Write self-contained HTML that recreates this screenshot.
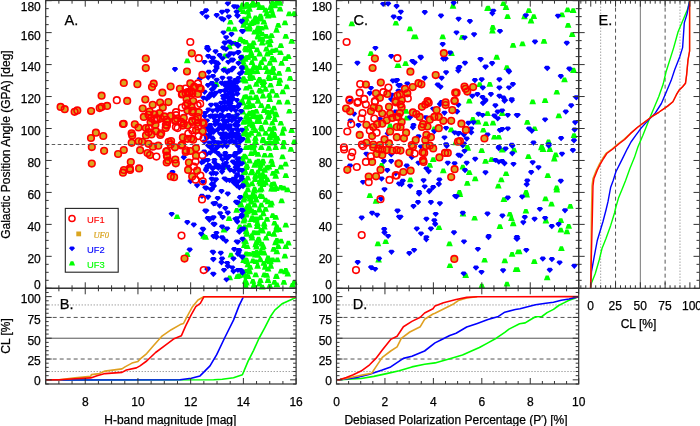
<!DOCTYPE html>
<html><head><meta charset="utf-8"><style>
html,body{margin:0;padding:0;background:#fff;overflow:hidden;}
svg{display:block;will-change:transform;font-family:"Liberation Sans",sans-serif;}
</style></head><body>
<svg width="700" height="426" viewBox="0 0 700 426">
<rect width="700" height="426" fill="#fff"/>
<line x1="45.70" y1="304.94" x2="296.10" y2="304.94" stroke="#777" stroke-width="1.0" stroke-dasharray="1,2"/>
<line x1="45.70" y1="371.52" x2="296.10" y2="371.52" stroke="#777" stroke-width="1.0" stroke-dasharray="1,2"/>
<line x1="45.70" y1="317.43" x2="296.10" y2="317.43" stroke="#555" stroke-width="1.0" stroke-dasharray="4,3"/>
<line x1="45.70" y1="359.03" x2="296.10" y2="359.03" stroke="#555" stroke-width="1.0" stroke-dasharray="4,3"/>
<line x1="45.70" y1="338.23" x2="296.10" y2="338.23" stroke="#555" stroke-width="1.0"/>
<line x1="336.50" y1="304.94" x2="578.70" y2="304.94" stroke="#777" stroke-width="1.0" stroke-dasharray="1,2"/>
<line x1="336.50" y1="371.52" x2="578.70" y2="371.52" stroke="#777" stroke-width="1.0" stroke-dasharray="1,2"/>
<line x1="336.50" y1="317.43" x2="578.70" y2="317.43" stroke="#555" stroke-width="1.0" stroke-dasharray="4,3"/>
<line x1="336.50" y1="359.03" x2="578.70" y2="359.03" stroke="#555" stroke-width="1.0" stroke-dasharray="4,3"/>
<line x1="336.50" y1="338.23" x2="578.70" y2="338.23" stroke="#555" stroke-width="1.0"/>
<line x1="600.66" y1="0.66" x2="600.66" y2="288.30" stroke="#777" stroke-width="1.0" stroke-dasharray="1,2"/>
<line x1="679.99" y1="0.66" x2="679.99" y2="288.30" stroke="#777" stroke-width="1.0" stroke-dasharray="1,2"/>
<line x1="615.54" y1="0.66" x2="615.54" y2="288.30" stroke="#555" stroke-width="1.0" stroke-dasharray="4,3"/>
<line x1="665.11" y1="0.66" x2="665.11" y2="288.30" stroke="#555" stroke-width="1.0" stroke-dasharray="4,3"/>
<line x1="640.33" y1="0.66" x2="640.33" y2="288.30" stroke="#777" stroke-width="1.0"/>
<path fill="#00ff00" d="M185.8 58.6L188.8 58.6L190.6 63.3L184.0 63.3ZM175.6 214.4L178.6 214.4L180.4 219.1L173.8 219.1ZM202.2 234.1L205.2 234.1L207.0 238.8L200.4 238.8ZM185.7 252.2L188.7 252.2L190.5 256.9L183.9 256.9ZM228.9 19.9L231.9 19.9L233.7 24.6L227.1 24.6ZM227.3 26.7L230.3 26.7L232.1 31.4L225.5 31.4ZM233.1 26.7L236.1 26.7L237.9 31.4L231.3 31.4ZM241.0 2.5L244.0 2.5L245.8 7.2L239.2 7.2ZM238.4 7.2L241.4 7.2L243.2 11.9L236.6 11.9ZM242.6 16.7L245.6 16.7L247.4 21.4L240.8 21.4ZM242.1 23.0L245.1 23.0L246.9 27.7L240.3 27.7ZM238.9 36.8L241.9 36.8L243.7 41.5L237.1 41.5ZM242.1 38.9L245.1 38.9L246.9 43.6L240.3 43.6ZM233.1 41.0L236.1 41.0L237.9 45.7L231.3 45.7ZM227.9 44.6L230.9 44.6L232.7 49.3L226.1 49.3ZM223.1 66.7L226.1 66.7L227.9 71.4L221.3 71.4ZM223.6 53.5L226.6 53.5L228.4 58.2L221.8 58.2ZM242.1 63.0L245.1 63.0L246.9 67.7L240.3 67.7ZM214.7 81.5L217.7 81.5L219.5 86.2L212.9 86.2ZM241.0 77.8L244.0 77.8L245.8 82.5L239.2 82.5ZM245.5 1.9L248.5 1.9L250.3 6.6L243.7 6.6ZM251.4 1.1L254.4 1.1L256.2 5.8L249.6 5.8ZM256.5 1.9L259.5 1.9L261.3 6.6L254.7 6.6ZM270.8 1.1L273.8 1.1L275.6 5.8L269.0 5.8ZM275.0 0.2L278.0 0.2L279.8 4.9L273.2 4.9ZM278.5 1.1L281.5 1.1L283.3 5.8L276.7 5.8ZM242.1 4.5L245.1 4.5L246.9 9.2L240.3 9.2ZM248.0 7.0L251.0 7.0L252.8 11.7L246.2 11.7ZM258.1 5.3L261.1 5.3L262.9 10.0L256.3 10.0ZM264.1 7.8L267.1 7.8L268.9 12.5L262.3 12.5ZM269.1 5.3L272.1 5.3L273.9 10.0L267.3 10.0ZM273.4 3.6L276.4 3.6L278.2 8.3L271.6 8.3ZM292.8 11.2L295.8 11.2L297.6 15.9L291.0 15.9ZM247.2 13.7L250.2 13.7L252.0 18.4L245.4 18.4ZM253.9 15.4L256.9 15.4L258.7 20.1L252.1 20.1ZM259.0 13.7L262.0 13.7L263.8 18.4L257.2 18.4ZM266.6 13.7L269.6 13.7L271.4 18.4L264.8 18.4ZM270.8 12.9L273.8 12.9L275.6 17.6L269.0 17.6ZM244.6 20.5L247.6 20.5L249.4 25.2L242.8 25.2ZM249.7 21.3L252.7 21.3L254.5 26.0L247.9 26.0ZM254.8 19.7L257.8 19.7L259.6 24.4L253.0 24.4ZM262.4 19.7L265.4 19.7L267.2 24.4L260.6 24.4ZM283.5 20.5L286.5 20.5L288.3 25.2L281.7 25.2ZM248.0 24.7L251.0 24.7L252.8 29.4L246.2 29.4ZM256.5 25.6L259.5 25.6L261.3 30.3L254.7 30.3ZM264.1 24.7L267.1 24.7L268.9 29.4L262.3 29.4ZM276.7 23.0L279.7 23.0L281.5 27.7L274.9 27.7ZM253.1 29.8L256.1 29.8L257.9 34.5L251.3 34.5ZM258.1 29.0L261.1 29.0L262.9 33.7L256.3 33.7ZM275.0 28.1L278.0 28.1L279.8 32.8L273.2 32.8ZM256.5 34.0L259.5 34.0L261.3 38.7L254.7 38.7ZM264.9 34.0L267.9 34.0L269.7 38.7L263.1 38.7ZM270.0 33.2L273.0 33.2L274.8 37.9L268.2 37.9ZM284.3 34.0L287.3 34.0L289.1 38.7L282.5 38.7ZM239.6 37.4L242.6 37.4L244.4 42.1L237.8 42.1ZM244.6 39.9L247.6 39.9L249.4 44.6L242.8 44.6ZM260.7 40.8L263.7 40.8L265.5 45.5L258.9 45.5ZM266.6 39.9L269.6 39.9L271.4 44.6L264.8 44.6ZM290.2 39.1L293.2 39.1L295.0 43.8L288.4 43.8ZM248.0 43.3L251.0 43.3L252.8 48.0L246.2 48.0ZM268.3 42.5L271.3 42.5L273.1 47.2L266.5 47.2ZM279.3 43.3L282.3 43.3L284.1 48.0L277.5 48.0ZM244.6 47.5L247.6 47.5L249.4 52.2L242.8 52.2ZM255.6 47.5L258.6 47.5L260.4 52.2L253.8 52.2ZM264.9 46.7L267.9 46.7L269.7 51.4L263.1 51.4ZM270.8 48.4L273.8 48.4L275.6 53.1L269.0 53.1ZM249.7 50.9L252.7 50.9L254.5 55.6L247.9 55.6ZM258.1 51.8L261.1 51.8L262.9 56.5L256.3 56.5ZM265.8 51.8L268.8 51.8L270.6 56.5L264.0 56.5ZM286.9 54.3L289.9 54.3L291.7 59.0L285.1 59.0ZM246.3 55.1L249.3 55.1L251.1 59.8L244.5 59.8ZM253.1 56.0L256.1 56.0L257.9 60.7L251.3 60.7ZM262.4 56.8L265.4 56.8L267.2 61.5L260.6 61.5ZM270.8 56.0L273.8 56.0L275.6 60.7L269.0 60.7ZM250.5 60.2L253.5 60.2L255.3 64.9L248.7 64.9ZM259.8 60.2L262.8 60.2L264.6 64.9L258.0 64.9ZM268.3 61.0L271.3 61.0L273.1 65.7L266.5 65.7ZM280.1 61.0L283.1 61.0L284.9 65.7L278.3 65.7ZM244.6 65.3L247.6 65.3L249.4 70.0L242.8 70.0ZM253.9 65.3L256.9 65.3L258.7 70.0L252.1 70.0ZM264.1 65.3L267.1 65.3L268.9 70.0L262.3 70.0ZM271.7 66.1L274.7 66.1L276.5 70.8L269.9 70.8ZM251.4 69.5L254.4 69.5L256.2 74.2L249.6 74.2ZM268.3 69.5L271.3 69.5L273.1 74.2L266.5 74.2ZM246.3 70.2L249.3 70.2L251.1 74.9L244.5 74.9ZM255.6 69.4L258.6 69.4L260.4 74.1L253.8 74.1ZM265.8 69.4L268.8 69.4L270.6 74.1L263.9 74.1ZM271.7 70.2L274.7 70.2L276.5 74.9L269.9 74.9ZM277.6 71.1L280.6 71.1L282.4 75.8L275.8 75.8ZM243.8 78.7L246.8 78.7L248.6 83.4L242.0 83.4ZM251.4 75.3L254.4 75.3L256.2 80.0L249.6 80.0ZM258.1 77.0L261.1 77.0L262.9 81.7L256.3 81.7ZM267.4 74.5L270.4 74.5L272.2 79.2L265.6 79.2ZM273.4 75.3L276.4 75.3L278.2 80.0L271.6 80.0ZM288.6 76.1L291.6 76.1L293.4 80.8L286.8 80.8ZM248.0 84.6L251.0 84.6L252.8 89.3L246.2 89.3ZM254.8 82.1L257.8 82.1L259.6 86.8L253.0 86.8ZM261.5 80.4L264.5 80.4L266.3 85.1L259.7 85.1ZM269.1 82.9L272.1 82.9L273.9 87.6L267.3 87.6ZM277.6 81.2L280.6 81.2L282.4 85.9L275.8 85.9ZM285.2 84.6L288.2 84.6L290.0 89.3L283.4 89.3ZM250.5 89.7L253.5 89.7L255.3 94.4L248.7 94.4ZM258.1 88.0L261.1 88.0L262.9 92.7L256.3 92.7ZM264.1 87.1L267.1 87.1L268.9 91.8L262.3 91.8ZM270.8 88.8L273.8 88.8L275.6 93.5L269.0 93.5ZM242.9 94.7L245.9 94.7L247.7 99.4L241.1 99.4ZM248.9 95.6L251.9 95.6L253.7 100.3L247.1 100.3ZM254.8 94.7L257.8 94.7L259.6 99.4L253.0 99.4ZM261.5 93.9L264.5 93.9L266.3 98.6L259.7 98.6ZM275.0 93.0L278.0 93.0L279.8 97.7L273.2 97.7ZM241.3 100.6L244.3 100.6L246.1 105.3L239.5 105.3ZM247.2 99.8L250.2 99.8L252.0 104.5L245.4 104.5ZM256.5 99.0L259.5 99.0L261.3 103.7L254.7 103.7ZM268.3 97.3L271.3 97.3L273.1 102.0L266.5 102.0ZM277.6 99.8L280.6 99.8L282.4 104.5L275.8 104.5ZM286.0 99.8L289.0 99.8L290.8 104.5L284.2 104.5ZM244.6 104.9L247.6 104.9L249.4 109.6L242.8 109.6ZM251.4 103.2L254.4 103.2L256.2 107.9L249.6 107.9ZM259.8 103.2L262.8 103.2L264.6 107.9L258.0 107.9ZM266.6 104.0L269.6 104.0L271.4 108.7L264.8 108.7ZM272.5 105.7L275.5 105.7L277.3 110.4L270.7 110.4ZM241.3 109.9L244.3 109.9L246.1 114.6L239.5 114.6ZM248.0 110.8L251.0 110.8L252.8 115.5L246.2 115.5ZM254.8 109.1L257.8 109.1L259.6 113.8L253.0 113.8ZM263.2 108.2L266.2 108.2L268.0 112.9L261.4 112.9ZM270.0 109.9L273.0 109.9L274.8 114.6L268.2 114.6ZM274.2 111.6L277.2 111.6L279.0 116.3L272.4 116.3ZM244.6 115.0L247.6 115.0L249.4 119.7L242.8 119.7ZM251.4 114.2L254.4 114.2L256.2 118.9L249.6 118.9ZM259.0 114.2L262.0 114.2L263.8 118.9L257.2 118.9ZM266.6 115.0L269.6 115.0L271.4 119.7L264.8 119.7ZM242.1 120.1L245.1 120.1L246.9 124.8L240.3 124.8ZM248.9 120.1L251.9 120.1L253.7 124.8L247.1 124.8ZM255.6 119.2L258.6 119.2L260.4 123.9L253.8 123.9ZM264.1 120.1L267.1 120.1L268.9 124.8L262.3 124.8ZM270.8 120.9L273.8 120.9L275.6 125.6L269.0 125.6ZM279.3 120.9L282.3 120.9L284.1 125.6L277.5 125.6ZM244.6 126.0L247.6 126.0L249.4 130.7L242.8 130.7ZM252.2 126.0L255.2 126.0L257.0 130.7L250.4 130.7ZM259.8 125.1L262.8 125.1L264.6 129.8L258.0 129.8ZM268.3 126.8L271.3 126.8L273.1 131.5L266.5 131.5ZM272.5 126.0L275.5 126.0L277.3 130.7L270.7 130.7ZM242.1 131.9L245.1 131.9L246.9 136.6L240.3 136.6ZM249.7 131.0L252.7 131.0L254.5 135.7L247.9 135.7ZM257.3 131.9L260.3 131.9L262.1 136.6L255.5 136.6ZM264.1 131.0L267.1 131.0L268.9 135.7L262.3 135.7ZM270.8 130.2L273.8 130.2L275.6 134.9L269.0 134.9ZM281.0 131.0L284.0 131.0L285.8 135.7L279.2 135.7ZM246.3 137.0L249.3 137.0L251.1 141.7L244.5 141.7ZM253.9 136.1L256.9 136.1L258.7 140.8L252.1 140.8ZM261.5 137.0L264.5 137.0L266.3 141.7L259.7 141.7ZM268.3 135.3L271.3 135.3L273.1 140.0L266.5 140.0ZM275.9 136.1L278.9 136.1L280.7 140.8L274.1 140.8ZM246.3 138.5L249.3 138.5L251.1 143.2L244.5 143.2ZM253.9 139.4L256.9 139.4L258.7 144.1L252.1 144.1ZM261.5 138.5L264.5 138.5L266.3 143.2L259.7 143.2ZM268.3 140.2L271.3 140.2L273.1 144.9L266.5 144.9ZM275.0 139.4L278.0 139.4L279.8 144.1L273.2 144.1ZM292.8 139.4L295.8 139.4L297.6 144.1L291.0 144.1ZM244.6 145.3L247.6 145.3L249.4 150.0L242.8 150.0ZM251.4 144.5L254.4 144.5L256.2 149.2L249.6 149.2ZM259.8 145.3L262.8 145.3L264.6 150.0L258.0 150.0ZM267.4 146.1L270.4 146.1L272.2 150.8L265.6 150.8ZM274.2 145.3L277.2 145.3L279.0 150.0L272.4 150.0ZM281.8 144.5L284.8 144.5L286.6 149.2L280.0 149.2ZM289.4 147.0L292.4 147.0L294.2 151.7L287.6 151.7ZM242.9 153.7L245.9 153.7L247.7 158.4L241.1 158.4ZM249.7 151.2L252.7 151.2L254.5 155.9L247.9 155.9ZM256.5 152.1L259.5 152.1L261.3 156.8L254.7 156.8ZM263.2 152.9L266.2 152.9L268.0 157.6L261.4 157.6ZM269.1 152.9L272.1 152.9L273.9 157.6L267.3 157.6ZM281.0 154.6L284.0 154.6L285.8 159.3L279.2 159.3ZM242.1 159.7L245.1 159.7L246.9 164.4L240.3 164.4ZM248.0 158.8L251.0 158.8L252.8 163.5L246.2 163.5ZM254.8 159.7L257.8 159.7L259.6 164.4L253.0 164.4ZM261.5 158.8L264.5 158.8L266.3 163.5L259.7 163.5ZM270.0 158.8L273.0 158.8L274.8 163.5L268.2 163.5ZM245.5 163.9L248.5 163.9L250.3 168.6L243.7 168.6ZM253.1 163.0L256.1 163.0L257.9 167.7L251.3 167.7ZM259.0 163.0L262.0 163.0L263.8 167.7L257.2 167.7ZM267.4 164.7L270.4 164.7L272.2 169.4L265.6 169.4ZM279.3 164.7L282.3 164.7L284.1 169.4L277.5 169.4ZM243.8 169.8L246.8 169.8L248.6 174.5L242.0 174.5ZM250.5 168.9L253.5 168.9L255.3 173.7L248.7 173.7ZM256.5 169.8L259.5 169.8L261.3 174.5L254.7 174.5ZM263.2 168.1L266.2 168.1L268.0 172.8L261.4 172.8ZM275.0 168.9L278.0 168.9L279.8 173.7L273.2 173.7ZM284.3 173.2L287.3 173.2L289.1 177.9L282.5 177.9ZM246.3 175.7L249.3 175.7L251.1 180.4L244.5 180.4ZM253.9 174.0L256.9 174.0L258.7 178.7L252.1 178.7ZM259.8 176.6L262.8 176.6L264.6 181.3L258.0 181.3ZM265.8 177.4L268.8 177.4L270.6 182.1L263.9 182.1ZM274.2 174.0L277.2 174.0L279.0 178.7L272.4 178.7ZM243.8 180.8L246.8 180.8L248.6 185.5L242.0 185.5ZM250.5 181.6L253.5 181.6L255.3 186.3L248.7 186.3ZM258.1 179.9L261.1 179.9L262.9 184.6L256.3 184.6ZM264.1 180.8L267.1 180.8L268.9 185.5L262.3 185.5ZM272.5 181.6L275.5 181.6L277.3 186.3L270.7 186.3ZM279.3 185.0L282.3 185.0L284.1 189.7L277.5 189.7ZM246.3 187.5L249.3 187.5L251.1 192.2L244.5 192.2ZM253.1 186.7L256.1 186.7L257.9 191.4L251.3 191.4ZM259.8 186.7L262.8 186.7L264.6 191.4L258.0 191.4ZM270.0 186.7L273.0 186.7L274.8 191.4L268.2 191.4ZM286.0 187.5L289.0 187.5L290.8 192.2L284.2 192.2ZM244.6 193.4L247.6 193.4L249.4 198.1L242.8 198.1ZM251.4 192.6L254.4 192.6L256.2 197.3L249.6 197.3ZM259.0 193.4L262.0 193.4L263.8 198.1L257.2 198.1ZM260.7 194.3L263.7 194.3L265.5 199.0L258.9 199.0ZM242.1 197.7L245.1 197.7L246.9 202.4L240.3 202.4ZM248.9 196.8L251.9 196.8L253.7 201.5L247.1 201.5ZM254.8 197.7L257.8 197.7L259.6 202.4L253.0 202.4ZM264.1 197.7L267.1 197.7L268.9 202.4L262.3 202.4ZM280.1 198.5L283.1 198.5L284.9 203.2L278.3 203.2ZM239.6 202.7L242.6 202.7L244.4 207.4L237.8 207.4ZM246.3 203.6L249.3 203.6L251.1 208.3L244.5 208.3ZM253.1 202.7L256.1 202.7L257.9 207.4L251.3 207.4ZM259.8 202.7L262.8 202.7L264.6 207.4L258.0 207.4ZM269.1 202.7L272.1 202.7L273.9 207.4L267.3 207.4ZM243.8 207.8L246.8 207.8L248.6 212.5L242.0 212.5ZM250.5 208.6L253.5 208.6L255.3 213.3L248.7 213.3ZM258.1 207.8L261.1 207.8L262.9 212.5L256.3 212.5ZM264.1 207.0L267.1 207.0L268.9 211.7L262.3 211.7ZM245.8 209.6L248.8 209.6L250.6 214.3L244.0 214.3ZM253.3 210.5L256.3 210.5L258.1 215.2L251.5 215.2ZM261.8 211.5L264.8 211.5L266.6 216.2L260.0 216.2ZM271.2 213.3L274.2 213.3L276.0 218.0L269.4 218.0ZM243.0 217.1L246.0 217.1L247.8 221.8L241.2 221.8ZM251.4 216.2L254.4 216.2L256.2 220.9L249.6 220.9ZM258.9 215.2L261.9 215.2L263.7 219.9L257.1 219.9ZM265.5 217.1L268.5 217.1L270.3 221.8L263.7 221.8ZM247.7 222.7L250.7 222.7L252.5 227.4L245.9 227.4ZM256.1 223.7L259.1 223.7L260.9 228.4L254.3 228.4ZM262.7 221.8L265.7 221.8L267.5 226.5L260.9 226.5ZM273.0 220.9L276.0 220.9L277.8 225.6L271.2 225.6ZM284.3 222.7L287.3 222.7L289.1 227.4L282.5 227.4ZM244.8 229.3L247.8 229.3L249.6 234.0L243.0 234.0ZM252.4 230.3L255.4 230.3L257.2 235.0L250.6 235.0ZM259.9 228.4L262.9 228.4L264.7 233.1L258.1 233.1ZM267.4 231.2L270.4 231.2L272.2 235.9L265.6 235.9ZM277.7 227.4L280.7 227.4L282.5 232.1L275.9 232.1ZM243.0 238.7L246.0 238.7L247.8 243.4L241.2 243.4ZM250.5 235.9L253.5 235.9L255.3 240.6L248.7 240.6ZM257.1 236.8L260.1 236.8L261.9 241.5L255.3 241.5ZM264.6 235.9L267.6 235.9L269.4 240.6L262.8 240.6ZM274.0 240.6L277.0 240.6L278.8 245.3L272.2 245.3ZM279.6 238.7L282.6 238.7L284.4 243.4L277.8 243.4ZM245.8 244.4L248.8 244.4L250.6 249.1L244.0 249.1ZM254.2 242.5L257.2 242.5L259.0 247.2L252.4 247.2ZM261.8 244.4L264.8 244.4L266.6 249.1L260.0 249.1ZM276.8 244.4L279.8 244.4L281.6 249.1L275.0 249.1ZM284.3 244.4L287.3 244.4L289.1 249.1L282.5 249.1ZM247.7 251.9L250.7 251.9L252.5 256.6L245.9 256.6ZM255.2 250.0L258.2 250.0L260.0 254.7L253.4 254.7ZM262.7 250.9L265.7 250.9L267.5 255.6L260.9 255.6ZM271.2 257.5L274.2 257.5L276.0 262.2L269.4 262.2ZM283.4 253.8L286.4 253.8L288.2 258.5L281.6 258.5ZM243.9 257.5L246.9 257.5L248.7 262.2L242.1 262.2ZM251.4 258.5L254.4 258.5L256.2 263.2L249.6 263.2ZM258.9 257.5L261.9 257.5L263.7 262.2L257.1 262.2ZM265.5 258.5L268.5 258.5L270.3 263.2L263.7 263.2ZM275.9 257.5L278.9 257.5L280.7 262.2L274.1 262.2ZM248.6 265.0L251.6 265.0L253.4 269.7L246.8 269.7ZM256.1 264.1L259.1 264.1L260.9 268.8L254.3 268.8ZM263.6 265.0L266.6 265.0L268.4 269.7L261.8 269.7ZM269.3 264.1L272.3 264.1L274.1 268.8L267.5 268.8ZM279.6 268.8L282.6 268.8L284.4 273.5L277.8 273.5ZM284.3 267.9L287.3 267.9L289.1 272.6L282.5 272.6ZM237.3 273.5L240.3 273.5L242.1 278.2L235.5 278.2ZM246.7 274.4L249.7 274.4L251.5 279.1L244.9 279.1ZM254.2 272.5L257.2 272.5L259.0 277.2L252.4 277.2ZM262.7 272.5L265.7 272.5L267.5 277.2L260.9 277.2ZM274.9 274.4L277.9 274.4L279.7 279.1L273.1 279.1ZM243.9 279.1L246.9 279.1L248.7 283.8L242.1 283.8ZM251.4 279.1L254.4 279.1L256.2 283.8L249.6 283.8ZM258.9 278.2L261.9 278.2L263.7 282.9L257.1 282.9ZM266.5 278.2L269.5 278.2L271.3 282.9L264.7 282.9ZM273.0 280.1L276.0 280.1L277.8 284.8L271.2 284.8ZM282.4 280.1L285.4 280.1L287.2 284.8L280.6 284.8ZM292.8 280.1L295.8 280.1L297.6 284.8L291.0 284.8ZM252.4 283.8L255.4 283.8L257.2 288.5L250.6 288.5ZM260.8 284.8L263.8 284.8L265.6 289.5L259.0 289.5ZM268.3 283.8L271.3 283.8L273.1 288.5L266.5 288.5ZM290.9 282.9L293.9 282.9L295.7 287.6L289.1 287.6ZM214.5 82.2L217.5 82.2L219.3 86.9L212.7 86.9ZM239.0 100.8L242.0 100.8L243.8 105.5L237.2 105.5ZM240.7 99.1L243.7 99.1L245.5 103.8L238.9 103.8ZM234.8 113.5L237.8 113.5L239.6 118.2L233.0 118.2ZM222.6 164.6L225.6 164.6L227.4 169.3L220.8 169.3ZM240.7 156.1L243.7 156.1L245.5 160.8L238.9 160.8ZM227.6 216.3L230.6 216.3L232.4 221.0L225.8 221.0ZM235.2 208.0L238.2 208.0L240.0 212.7L233.4 212.7ZM239.0 201.7L242.0 201.7L243.8 206.4L237.2 206.4ZM242.8 196.0L245.8 196.0L247.6 200.7L241.0 200.7ZM244.1 191.6L247.1 191.6L248.9 196.3L242.3 196.3ZM245.3 205.5L248.3 205.5L250.1 210.2L243.5 210.2ZM244.7 211.9L247.7 211.9L249.5 216.6L242.9 216.6ZM242.2 218.8L245.2 218.8L247.0 223.5L240.4 223.5ZM238.4 224.5L241.4 224.5L243.2 229.2L236.6 229.2ZM243.4 224.5L246.4 224.5L248.2 229.2L241.6 229.2ZM222.5 227.7L225.5 227.7L227.3 232.4L220.7 232.4ZM245.3 232.1L248.3 232.1L250.1 236.8L243.5 236.8ZM204.1 235.0L207.1 235.0L208.9 239.7L202.3 239.7ZM244.1 239.4L247.1 239.4L248.9 244.1L242.3 244.1ZM229.5 252.7L232.5 252.7L234.3 257.4L227.7 257.4ZM244.7 251.4L247.7 251.4L249.5 256.1L242.9 256.1ZM245.3 259.0L248.3 259.0L250.1 263.7L243.5 263.7ZM235.8 274.3L238.8 274.3L240.6 279.0L234.0 279.0ZM228.2 275.5L231.2 275.5L233.0 280.2L226.4 280.2ZM245.3 274.3L248.3 274.3L250.1 279.0L243.5 279.0ZM242.8 243.2L245.8 243.2L247.6 247.9L241.0 247.9ZM256.9 158.7L259.9 158.7L261.7 163.4L255.1 163.4ZM272.9 131.9L275.9 131.9L277.7 136.6L271.1 136.6ZM258.8 166.5L261.8 166.5L263.6 171.2L257.0 171.2ZM247.8 145.1L250.8 145.1L252.6 149.8L246.0 149.8ZM262.9 224.9L265.9 224.9L267.7 229.6L261.1 229.6ZM244.7 85.9L247.7 85.9L249.5 90.6L242.9 90.6ZM244.6 229.6L247.6 229.6L249.4 234.3L242.8 234.3ZM265.1 11.6L268.1 11.6L269.9 16.3L263.3 16.3ZM274.9 273.7L277.9 273.7L279.7 278.4L273.1 278.4ZM263.7 174.5L266.7 174.5L268.5 179.2L261.9 179.2ZM246.9 4.0L249.9 4.0L251.7 8.7L245.1 8.7ZM259.5 16.6L262.5 16.6L264.3 21.3L257.7 21.3ZM248.0 68.4L251.0 68.4L252.8 73.1L246.2 73.1ZM242.5 131.5L245.5 131.5L247.3 136.2L240.7 136.2ZM256.5 238.9L259.5 238.9L261.3 243.6L254.7 243.6ZM259.2 181.5L262.2 181.5L264.0 186.2L257.4 186.2ZM258.5 187.8L261.5 187.8L263.3 192.5L256.7 192.5ZM257.0 78.7L260.0 78.7L261.8 83.4L255.2 83.4ZM275.4 282.5L278.4 282.5L280.2 287.2L273.6 287.2ZM270.1 200.7L273.1 200.7L274.9 205.4L268.3 205.4ZM252.2 64.9L255.2 64.9L257.0 69.6L250.4 69.6ZM251.3 19.6L254.3 19.6L256.1 24.3L249.5 24.3ZM267.6 113.4L270.6 113.4L272.4 118.1L265.8 118.1ZM270.3 109.5L273.3 109.5L275.1 114.2L268.5 114.2ZM274.1 240.3L277.1 240.3L278.9 245.0L272.3 245.0ZM241.5 59.3L244.5 59.3L246.3 64.0L239.7 64.0ZM272.4 133.2L275.4 133.2L277.2 137.9L270.6 137.9ZM274.8 112.6L277.8 112.6L279.6 117.3L273.0 117.3ZM244.0 178.5L247.0 178.5L248.8 183.2L242.2 183.2ZM268.0 76.3L271.0 76.3L272.8 81.0L266.2 81.0ZM244.5 94.2L247.5 94.2L249.3 98.9L242.7 98.9ZM274.3 215.0L277.3 215.0L279.1 219.7L272.5 219.7ZM245.5 69.7L248.5 69.7L250.3 74.4L243.7 74.4ZM244.9 16.7L247.9 16.7L249.7 21.4L243.1 21.4ZM268.6 50.2L271.6 50.2L273.4 54.9L266.8 54.9ZM260.5 126.8L263.5 126.8L265.3 131.5L258.7 131.5ZM248.0 207.6L251.0 207.6L252.8 212.3L246.2 212.3ZM246.0 182.5L249.0 182.5L250.8 187.2L244.2 187.2ZM245.5 119.2L248.5 119.2L250.3 123.9L243.7 123.9ZM248.7 76.3L251.7 76.3L253.5 81.0L246.9 81.0ZM274.5 227.9L277.5 227.9L279.3 232.6L272.7 232.6ZM251.8 251.0L254.8 251.0L256.6 255.7L250.0 255.7ZM248.7 111.7L251.7 111.7L253.5 116.4L246.9 116.4ZM270.5 182.0L273.5 182.0L275.3 186.7L268.7 186.7ZM244.9 280.7L247.9 280.7L249.7 285.4L243.1 285.4ZM248.8 73.1L251.8 73.1L253.6 77.8L247.0 77.8ZM267.8 93.1L270.8 93.1L272.6 97.8L266.0 97.8ZM251.6 20.5L254.6 20.5L256.4 25.2L249.8 25.2ZM244.6 165.2L247.6 165.2L249.4 169.9L242.8 169.9ZM249.8 170.5L252.8 170.5L254.6 175.2L248.0 175.2ZM254.1 128.4L257.1 128.4L258.9 133.1L252.3 133.1ZM274.1 137.1L277.1 137.1L278.9 141.8L272.3 141.8ZM261.0 245.8L264.0 245.8L265.8 250.5L259.2 250.5ZM247.7 43.5L250.7 43.5L252.5 48.2L245.9 48.2ZM272.4 232.0L275.4 232.0L277.2 236.7L270.6 236.7ZM250.0 53.6L253.0 53.6L254.8 58.3L248.2 58.3ZM266.6 266.8L269.6 266.8L271.4 271.5L264.8 271.5ZM248.2 269.5L251.2 269.5L253.0 274.2L246.4 274.2ZM271.5 171.1L274.5 171.1L276.3 175.8L269.7 175.8ZM255.8 29.2L258.8 29.2L260.6 33.9L254.0 33.9ZM242.8 273.1L245.8 273.1L247.6 277.8L241.0 277.8ZM249.6 199.8L252.6 199.8L254.4 204.5L247.8 204.5ZM250.2 233.6L253.2 233.6L255.0 238.3L248.4 238.3ZM261.8 83.0L264.8 83.0L266.6 87.7L260.0 87.7ZM247.5 204.3L250.5 204.3L252.3 209.0L245.7 209.0ZM243.8 64.6L246.8 64.6L248.6 69.3L242.0 69.3ZM260.5 241.8L263.5 241.8L265.3 246.5L258.7 246.5ZM262.4 79.3L265.4 79.3L267.2 84.0L260.6 84.0ZM272.7 57.6L275.7 57.6L277.5 62.3L270.9 62.3ZM242.1 76.2L245.1 76.2L246.9 80.9L240.3 80.9ZM256.7 16.9L259.7 16.9L261.5 21.6L254.9 21.6ZM247.5 104.4L250.5 104.4L252.3 109.1L245.7 109.1ZM261.0 37.1L264.0 37.1L265.8 41.8L259.2 41.8ZM253.8 252.7L256.8 252.7L258.6 257.4L252.0 257.4ZM274.8 186.3L277.8 186.3L279.6 191.0L273.0 191.0ZM265.0 165.7L268.0 165.7L269.8 170.4L263.2 170.4ZM246.3 9.7L249.3 9.7L251.1 14.4L244.5 14.4ZM242.1 258.2L245.1 258.2L246.9 262.9L240.3 262.9ZM265.3 273.1L268.3 273.1L270.1 277.8L263.5 277.8ZM242.2 180.4L245.2 180.4L247.0 185.1L240.4 185.1ZM257.9 207.2L260.9 207.2L262.7 211.9L256.1 211.9ZM252.3 283.5L255.3 283.5L257.1 288.2L250.5 288.2ZM244.1 154.8L247.1 154.8L248.9 159.5L242.3 159.5ZM266.6 255.4L269.6 255.4L271.4 260.1L264.8 260.1ZM266.6 199.5L269.6 199.5L271.4 204.2L264.8 204.2ZM268.5 259.6L271.5 259.6L273.3 264.3L266.7 264.3ZM253.5 194.3L256.5 194.3L258.3 199.0L251.7 199.0ZM272.1 247.1L275.1 247.1L276.9 251.8L270.3 251.8ZM255.7 224.2L258.7 224.2L260.5 228.9L253.9 228.9ZM270.9 162.4L273.9 162.4L275.7 167.1L269.1 167.1ZM262.7 108.3L265.7 108.3L267.5 113.0L260.9 113.0ZM261.3 172.6L264.3 172.6L266.1 177.3L259.5 177.3ZM244.2 181.3L247.2 181.3L249.0 186.0L242.4 186.0ZM275.3 249.6L278.3 249.6L280.1 254.3L273.5 254.3ZM266.3 110.0L269.3 110.0L271.1 114.7L264.5 114.7ZM266.5 164.7L269.5 164.7L271.3 169.4L264.7 169.4ZM256.5 237.8L259.5 237.8L261.3 242.5L254.7 242.5ZM244.3 212.8L247.3 212.8L249.1 217.5L242.5 217.5ZM242.5 170.5L245.5 170.5L247.3 175.2L240.7 175.2ZM257.9 65.1L260.9 65.1L262.7 69.8L256.1 69.8ZM265.2 140.9L268.2 140.9L270.0 145.6L263.4 145.6ZM262.4 261.1L265.4 261.1L267.2 265.8L260.6 265.8ZM250.2 2.9L253.2 2.9L255.0 7.6L248.4 7.6ZM251.7 192.3L254.7 192.3L256.5 197.0L249.9 197.0ZM248.4 47.9L251.4 47.9L253.2 52.6L246.6 52.6ZM272.3 187.1L275.3 187.1L277.1 191.8L270.5 191.8ZM256.5 253.0L259.5 253.0L261.3 257.7L254.7 257.7ZM252.6 188.8L255.6 188.8L257.4 193.5L250.8 193.5ZM248.2 122.1L251.2 122.1L253.0 126.8L246.4 126.8ZM268.9 259.3L271.9 259.3L273.7 264.0L267.1 264.0ZM287.9 108.9L290.9 108.9L292.7 113.6L286.1 113.6ZM281.3 89.6L284.3 89.6L286.1 94.3L279.5 94.3ZM271.5 140.7L274.5 140.7L276.3 145.4L269.7 145.4ZM286.9 240.7L289.9 240.7L291.7 245.4L285.1 245.4ZM284.1 269.5L287.1 269.5L288.9 274.2L282.3 274.2ZM274.6 47.7L277.6 47.7L279.4 52.4L272.8 52.4ZM278.4 77.8L281.4 77.8L283.2 82.5L276.6 82.5ZM273.2 117.3L276.2 117.3L278.0 122.0L271.4 122.0ZM282.3 140.0L285.3 140.0L287.1 144.7L280.5 144.7ZM275.4 238.0L278.4 238.0L280.2 242.7L273.6 242.7ZM290.1 128.2L293.1 128.2L294.9 132.9L288.3 132.9ZM270.1 8.6L273.1 8.6L274.9 13.3L268.3 13.3ZM287.7 11.5L290.7 11.5L292.5 16.2L285.9 16.2ZM284.1 161.7L287.1 161.7L288.9 166.4L282.3 166.4ZM275.3 224.5L278.3 224.5L280.1 229.2L273.5 229.2ZM268.9 38.3L271.9 38.3L273.7 43.0L267.1 43.0ZM278.5 6.7L281.5 6.7L283.3 11.4L276.7 11.4ZM286.8 67.1L289.8 67.1L291.6 71.8L285.0 71.8ZM271.6 13.0L274.6 13.0L276.4 17.7L269.8 17.7ZM282.3 126.5L285.3 126.5L287.1 131.2L280.5 131.2ZM282.4 185.7L285.4 185.7L287.2 190.4L280.6 190.4ZM286.3 271.9L289.3 271.9L291.1 276.6L284.5 276.6ZM283.6 56.3L286.6 56.3L288.4 61.0L281.8 61.0ZM279.0 50.4L282.0 50.4L283.8 55.1L277.2 55.1ZM268.7 133.8L271.7 133.8L273.5 138.5L266.9 138.5ZM245.0 55.3L248.0 55.3L249.8 60.0L243.2 60.0ZM251.2 123.6L254.2 123.6L256.0 128.3L249.4 128.3ZM247.8 116.9L250.8 116.9L252.6 121.6L246.0 121.6ZM251.1 44.4L254.1 44.4L255.9 49.1L249.3 49.1ZM244.0 179.3L247.0 179.3L248.8 184.0L242.2 184.0ZM253.5 150.2L256.5 150.2L258.3 154.9L251.7 154.9ZM258.2 173.6L261.2 173.6L263.0 178.3L256.4 178.3ZM258.3 65.2L261.3 65.2L263.1 69.9L256.5 69.9ZM255.8 230.5L258.8 230.5L260.6 235.2L254.0 235.2ZM259.4 89.0L262.4 89.0L264.2 93.7L257.6 93.7ZM246.4 262.6L249.4 262.6L251.2 267.3L244.6 267.3ZM244.3 284.2L247.3 284.2L249.1 288.9L242.5 288.9ZM259.0 37.0L262.0 37.0L263.8 41.7L257.2 41.7ZM244.8 206.5L247.8 206.5L249.6 211.2L243.0 211.2ZM245.2 26.4L248.2 26.4L250.0 31.1L243.4 31.1ZM257.8 119.3L260.8 119.3L262.6 124.0L256.0 124.0ZM256.9 34.7L259.9 34.7L261.7 39.4L255.1 39.4ZM248.4 194.7L251.4 194.7L253.2 199.4L246.6 199.4ZM239.9 56.2L242.9 56.2L244.7 60.9L238.1 60.9ZM254.5 259.4L257.5 259.4L259.3 264.1L252.7 264.1ZM260.8 31.7L263.8 31.7L265.6 36.4L259.0 36.4ZM250.6 215.5L253.6 215.5L255.4 220.2L248.8 220.2ZM250.6 194.8L253.6 194.8L255.4 199.5L248.8 199.5ZM243.7 18.9L246.7 18.9L248.5 23.6L241.9 23.6ZM241.8 9.4L244.8 9.4L246.6 14.1L240.0 14.1ZM251.6 145.9L254.6 145.9L256.4 150.6L249.8 150.6ZM252.0 40.6L255.0 40.6L256.8 45.3L250.2 45.3ZM243.6 57.0L246.6 57.0L248.4 61.7L241.8 61.7ZM258.0 281.9L261.0 281.9L262.8 286.6L256.2 286.6ZM259.9 25.9L262.9 25.9L264.7 30.6L258.1 30.6ZM240.9 270.8L243.9 270.8L245.7 275.5L239.1 275.5ZM249.7 217.4L252.7 217.4L254.5 222.1L247.9 222.1ZM246.7 132.3L249.7 132.3L251.5 137.0L244.9 137.0ZM250.8 121.7L253.8 121.7L255.6 126.4L249.0 126.4ZM252.7 2.5L255.7 2.5L257.5 7.2L250.9 7.2ZM254.9 240.2L257.9 240.2L259.7 244.9L253.1 244.9ZM243.5 128.5L246.5 128.5L248.3 133.2L241.7 133.2ZM255.8 114.6L258.8 114.6L260.6 119.3L254.0 119.3ZM243.8 45.9L246.8 45.9L248.6 50.6L242.0 50.6ZM250.8 3.1L253.8 3.1L255.6 7.8L249.0 7.8ZM259.2 228.0L262.2 228.0L264.0 232.7L257.4 232.7ZM255.0 244.9L258.0 244.9L259.8 249.6L253.2 249.6ZM253.3 114.4L256.3 114.4L258.1 119.1L251.5 119.1ZM252.7 142.9L255.7 142.9L257.5 147.6L250.9 147.6ZM261.1 228.9L264.1 228.9L265.9 233.6L259.3 233.6ZM245.2 259.3L248.2 259.3L250.0 264.0L243.4 264.0ZM255.9 221.2L258.9 221.2L260.7 225.9L254.1 225.9ZM257.4 114.7L260.4 114.7L262.2 119.4L255.6 119.4ZM259.2 250.3L262.2 250.3L264.0 255.0L257.4 255.0ZM254.8 218.1L257.8 218.1L259.6 222.8L253.0 222.8ZM256.3 114.7L259.3 114.7L261.1 119.4L254.5 119.4ZM255.4 18.9L258.4 18.9L260.2 23.6L253.6 23.6ZM247.0 132.8L250.0 132.8L251.8 137.5L245.2 137.5ZM239.7 100.4L242.7 100.4L244.5 105.1L237.9 105.1ZM253.6 177.2L256.6 177.2L258.4 181.9L251.8 181.9ZM244.6 268.9L247.6 268.9L249.4 273.6L242.8 273.6ZM254.2 95.3L257.2 95.3L259.0 100.0L252.4 100.0ZM254.0 161.6L257.0 161.6L258.8 166.3L252.2 166.3ZM251.2 110.1L254.2 110.1L256.0 114.8L249.4 114.8ZM261.5 182.4L264.5 182.4L266.3 187.1L259.7 187.1ZM254.9 216.6L257.9 216.6L259.7 221.3L253.1 221.3ZM261.1 5.2L264.1 5.2L265.9 9.9L259.3 9.9ZM253.0 210.0L256.0 210.0L257.8 214.7L251.2 214.7ZM245.1 113.5L248.1 113.5L249.9 118.2L243.3 118.2ZM240.6 54.6L243.6 54.6L245.4 59.3L238.8 59.3ZM247.8 26.9L250.8 26.9L252.6 31.6L246.0 31.6ZM245.0 257.7L248.0 257.7L249.8 262.4L243.2 262.4ZM251.6 143.9L254.6 143.9L256.4 148.6L249.8 148.6ZM260.8 161.1L263.8 161.1L265.6 165.8L259.0 165.8ZM261.4 181.2L264.4 181.2L266.2 185.9L259.6 185.9Z"/>
<path fill="#0000ff" d="M173.4 67.1L176.6 67.1L178.2 69.0L175.0 72.3L171.8 69.0ZM185.0 110.0L188.2 110.0L189.8 111.9L186.6 115.2L183.4 111.9ZM182.2 155.3L185.4 155.3L187.0 157.2L183.8 160.5L180.6 157.2ZM170.9 170.0L174.1 170.0L175.7 171.9L172.5 175.2L169.3 171.9ZM202.1 159.3L205.3 159.3L206.9 161.2L203.7 164.5L200.5 161.2ZM204.5 168.4L207.7 168.4L209.3 170.3L206.1 173.6L202.9 170.3ZM211.1 166.7L214.3 166.7L215.9 168.6L212.7 171.9L209.5 168.6ZM188.9 179.0L192.1 179.0L193.7 180.9L190.5 184.2L187.3 180.9ZM195.5 183.2L198.7 183.2L200.3 185.1L197.1 188.4L193.9 185.1ZM203.7 185.6L206.9 185.6L208.5 187.5L205.3 190.8L202.1 187.5ZM210.3 182.3L213.5 182.3L215.1 184.2L211.9 187.5L208.7 184.2ZM209.4 187.3L212.6 187.3L214.2 189.2L211.0 192.5L207.8 189.2ZM200.4 193.8L203.6 193.8L205.2 195.7L202.0 199.0L198.8 195.7ZM206.2 194.7L209.4 194.7L211.0 196.6L207.8 199.9L204.6 196.6ZM211.9 201.2L215.1 201.2L216.7 203.1L213.5 206.4L210.3 203.1ZM203.7 208.6L206.9 208.6L208.5 210.5L205.3 213.8L202.1 210.5ZM206.2 216.0L209.4 216.0L211.0 217.9L207.8 221.2L204.6 217.9ZM211.9 215.2L215.1 215.2L216.7 217.1L213.5 220.4L210.3 217.1ZM170.1 211.9L173.3 211.9L174.9 213.8L171.7 217.1L168.5 213.8ZM185.7 220.1L188.9 220.1L190.5 222.0L187.3 225.3L184.1 222.0ZM192.2 222.6L195.4 222.6L197.0 224.5L193.8 227.8L190.6 224.5ZM201.2 226.7L204.4 226.7L206.0 228.6L202.8 231.9L199.6 228.6ZM201.6 227.2L204.8 227.2L206.4 229.1L203.2 232.4L200.0 229.1ZM199.6 231.7L202.8 231.7L204.4 233.6L201.2 236.9L198.0 233.6ZM207.8 217.7L211.0 217.7L212.6 219.6L209.4 222.9L206.2 219.6ZM211.9 221.8L215.1 221.8L216.7 223.7L213.5 227.0L210.3 223.7ZM211.9 234.1L215.1 234.1L216.7 236.0L213.5 239.3L210.3 236.0ZM188.1 247.6L191.3 247.6L192.9 249.5L189.7 252.8L186.5 249.5ZM211.1 249.7L214.3 249.7L215.9 251.6L212.7 254.9L209.5 251.6ZM211.9 257.1L215.1 257.1L216.7 259.0L213.5 262.3L210.3 259.0ZM206.2 266.6L209.4 266.6L211.0 268.5L207.8 271.8L204.6 268.5ZM211.9 271.9L215.1 271.9L216.7 273.8L213.5 277.1L210.3 273.8ZM226.2 1.4L229.4 1.4L231.0 3.3L227.8 6.6L224.6 3.3ZM232.5 4.2L235.7 4.2L237.3 6.1L234.1 9.4L230.9 6.1ZM204.5 8.3L207.7 8.3L209.3 10.2L206.1 13.5L202.9 10.2ZM200.8 10.9L204.0 10.9L205.6 12.8L202.4 16.1L199.2 12.8ZM205.0 14.6L208.2 14.6L209.8 16.5L206.6 19.8L203.4 16.5ZM215.1 13.0L218.3 13.0L219.9 14.9L216.7 18.2L213.5 14.9ZM220.4 9.8L223.6 9.8L225.2 11.7L222.0 15.0L218.8 11.7ZM225.6 8.8L228.8 8.8L230.4 10.7L227.2 14.0L224.0 10.7ZM219.8 16.2L223.0 16.2L224.6 18.1L221.4 21.4L218.2 18.1ZM221.9 17.2L225.1 17.2L226.7 19.1L223.5 22.4L220.3 19.1ZM227.2 14.6L230.4 14.6L232.0 16.5L228.8 19.8L225.6 16.5ZM235.1 9.8L238.3 9.8L239.9 11.7L236.7 15.0L233.5 11.7ZM235.7 13.5L238.9 13.5L240.5 15.4L237.3 18.7L234.1 15.4ZM239.9 19.3L243.1 19.3L244.7 21.2L241.5 24.5L238.3 21.2ZM240.4 28.9L243.6 28.9L245.2 30.8L242.0 34.1L238.8 30.8ZM221.9 30.4L225.1 30.4L226.7 32.3L223.5 35.6L220.3 32.3ZM229.9 32.0L233.1 32.0L234.7 33.9L231.5 37.2L228.3 33.9ZM224.6 35.2L227.8 35.2L229.4 37.1L226.2 40.4L223.0 37.1ZM223.0 40.5L226.2 40.5L227.8 42.4L224.6 45.7L221.4 42.4ZM227.8 39.4L231.0 39.4L232.6 41.3L229.4 44.6L226.2 41.3ZM235.1 42.1L238.3 42.1L239.9 44.0L236.7 47.3L233.5 44.0ZM205.6 46.7L208.8 46.7L210.4 48.6L207.2 51.9L204.0 48.6ZM214.0 49.3L217.2 49.3L218.8 51.2L215.6 54.5L212.4 51.2ZM206.6 54.1L209.8 54.1L211.4 56.0L208.2 59.3L205.0 56.0ZM211.4 55.7L214.6 55.7L216.2 57.6L213.0 60.9L209.8 57.6ZM202.9 59.9L206.1 59.9L207.7 61.8L204.5 65.1L201.3 61.8ZM209.8 59.9L213.0 59.9L214.6 61.8L211.4 65.1L208.2 61.8ZM215.1 60.4L218.3 60.4L219.9 62.3L216.7 65.6L213.5 62.3ZM220.9 56.2L224.1 56.2L225.7 58.1L222.5 61.4L219.3 58.1ZM226.7 53.5L229.9 53.5L231.5 55.4L228.3 58.7L225.1 55.4ZM232.0 51.4L235.2 51.4L236.8 53.3L233.6 56.6L230.4 53.3ZM236.2 50.4L239.4 50.4L241.0 52.3L237.8 55.6L234.6 52.3ZM223.5 40.9L226.7 40.9L228.3 42.8L225.1 46.1L221.9 42.8ZM229.9 40.9L233.1 40.9L234.7 42.8L231.5 46.1L228.3 42.8ZM236.2 43.5L239.4 43.5L241.0 45.4L237.8 48.7L234.6 45.4ZM239.4 55.7L242.6 55.7L244.2 57.6L241.0 60.9L237.8 57.6ZM226.7 59.9L229.9 59.9L231.5 61.8L228.3 65.1L225.1 61.8ZM231.4 57.8L234.6 57.8L236.2 59.7L233.0 63.0L229.8 59.7ZM215.1 66.2L218.3 66.2L219.9 68.1L216.7 71.4L213.5 68.1ZM213.5 68.9L216.7 68.9L218.3 70.8L215.1 74.1L211.9 70.8ZM227.8 68.3L231.0 68.3L232.6 70.2L229.4 73.5L226.2 70.2ZM232.0 65.7L235.2 65.7L236.8 67.6L233.6 70.9L230.4 67.6ZM225.6 69.9L228.8 69.9L230.4 71.8L227.2 75.1L224.0 71.8ZM240.4 66.2L243.6 66.2L245.2 68.1L242.0 71.4L238.8 68.1ZM238.3 71.5L241.5 71.5L243.1 73.4L239.9 76.7L236.7 73.4ZM206.6 75.2L209.8 75.2L211.4 77.1L208.2 80.4L205.0 77.1ZM211.4 74.1L214.6 74.1L216.2 76.0L213.0 79.3L209.8 76.0ZM215.1 77.8L218.3 77.8L219.9 79.7L216.7 83.0L213.5 79.7ZM220.9 75.7L224.1 75.7L225.7 77.6L222.5 80.9L219.3 77.6ZM227.8 76.2L231.0 76.2L232.6 78.1L229.4 81.4L226.2 78.1ZM235.1 78.9L238.3 78.9L239.9 80.8L236.7 84.1L233.5 80.8ZM198.2 76.8L201.4 76.8L203.0 78.7L199.8 82.0L196.6 78.7ZM210.3 81.0L213.5 81.0L215.1 82.9L211.9 86.2L208.7 82.9ZM223.5 82.1L226.7 82.1L228.3 84.0L225.1 87.3L221.9 84.0ZM235.2 4.5L238.4 4.5L240.0 6.4L236.8 9.7L233.6 6.4ZM236.1 13.7L239.3 13.7L240.9 15.6L237.7 18.9L234.5 15.6ZM240.3 18.8L243.5 18.8L245.1 20.7L241.9 24.0L238.7 20.7ZM241.2 29.0L244.4 29.0L246.0 30.9L242.8 34.2L239.6 30.9ZM236.9 43.3L240.1 43.3L241.7 45.2L238.5 48.5L235.3 45.2ZM236.9 50.1L240.1 50.1L241.7 52.0L238.5 55.3L235.3 52.0ZM239.5 55.1L242.7 55.1L244.3 57.0L241.1 60.3L237.9 57.0ZM236.9 61.0L240.1 61.0L241.7 62.9L238.5 66.2L235.3 62.9ZM240.3 65.3L243.5 65.3L245.1 67.2L241.9 70.5L238.7 67.2ZM240.3 70.2L243.5 70.2L245.1 72.1L241.9 75.4L238.7 72.1ZM236.9 76.1L240.1 76.1L241.7 78.0L238.5 81.3L235.3 78.0ZM236.1 79.5L239.3 79.5L240.9 81.4L237.7 84.7L234.5 81.4ZM235.2 98.1L238.4 98.1L240.0 100.0L236.8 103.3L233.6 100.0ZM237.8 102.3L241.0 102.3L242.6 104.2L239.4 107.5L236.2 104.2ZM239.5 109.1L242.7 109.1L244.3 111.0L241.1 114.3L237.9 111.0ZM238.6 116.7L241.8 116.7L243.4 118.6L240.2 121.9L237.0 118.6ZM236.1 123.4L239.3 123.4L240.9 125.3L237.7 128.6L234.5 125.3ZM240.3 127.7L243.5 127.7L245.1 129.6L241.9 132.9L238.7 129.6ZM236.1 132.7L239.3 132.7L240.9 134.6L237.7 137.9L234.5 134.6ZM241.2 137.0L244.4 137.0L246.0 138.9L242.8 142.2L239.6 138.9ZM238.6 139.4L241.8 139.4L243.4 141.3L240.2 144.6L237.0 141.3ZM236.1 142.8L239.3 142.8L240.9 144.7L237.7 148.0L234.5 144.7ZM238.6 147.8L241.8 147.8L243.4 149.7L240.2 153.0L237.0 149.7ZM235.2 151.2L238.4 151.2L240.0 153.1L236.8 156.4L233.6 153.1ZM236.9 159.7L240.1 159.7L241.7 161.6L238.5 164.9L235.3 161.6ZM240.3 161.3L243.5 161.3L245.1 163.2L241.9 166.5L238.7 163.2ZM236.1 166.4L239.3 166.4L240.9 168.3L237.7 171.6L234.5 168.3ZM240.3 168.1L243.5 168.1L245.1 170.0L241.9 173.3L238.7 170.0ZM235.2 174.0L238.4 174.0L240.0 175.9L236.8 179.2L233.6 175.9ZM240.3 176.6L243.5 176.6L245.1 178.5L241.9 181.8L238.7 178.5ZM236.1 179.9L239.3 179.9L240.9 181.8L237.7 185.1L234.5 181.8ZM241.2 183.3L244.4 183.3L246.0 185.2L242.8 188.5L239.6 185.2ZM238.6 195.1L241.8 195.1L243.4 197.0L240.2 200.3L237.0 197.0ZM236.1 200.2L239.3 200.2L240.9 202.1L237.7 205.4L234.5 202.1ZM240.3 207.8L243.5 207.8L245.1 209.7L241.9 213.0L238.7 209.7ZM241.0 208.6L244.2 208.6L245.8 210.5L242.6 213.8L239.4 210.5ZM235.3 216.2L238.5 216.2L240.1 218.1L236.9 221.4L233.7 218.1ZM240.0 214.3L243.2 214.3L244.8 216.2L241.6 219.5L238.4 216.2ZM238.2 229.3L241.4 229.3L243.0 231.2L239.8 234.5L236.6 231.2ZM241.9 226.5L245.1 226.5L246.7 228.4L243.5 231.7L240.3 228.4ZM241.0 236.8L244.2 236.8L245.8 238.7L242.6 242.0L239.4 238.7ZM236.3 239.7L239.5 239.7L241.1 241.6L237.9 244.9L234.7 241.6ZM237.2 248.1L240.4 248.1L242.0 250.0L238.8 253.3L235.6 250.0ZM241.0 254.7L244.2 254.7L245.8 256.6L242.6 259.9L239.4 256.6ZM236.3 251.9L239.5 251.9L241.1 253.8L237.9 257.1L234.7 253.8ZM240.0 268.8L243.2 268.8L244.8 270.7L241.6 274.0L238.4 270.7ZM236.3 267.9L239.5 267.9L241.1 269.8L237.9 273.1L234.7 269.8ZM206.4 83.1L209.6 83.1L211.2 85.0L208.0 88.3L204.8 85.0ZM212.8 84.8L216.0 84.8L217.6 86.7L214.4 90.0L211.2 86.7ZM223.7 83.5L226.9 83.5L228.5 85.4L225.3 88.7L222.1 85.4ZM227.1 82.7L230.3 82.7L231.9 84.6L228.7 87.9L225.5 84.6ZM232.2 82.2L235.4 82.2L237.0 84.1L233.8 87.4L230.6 84.1ZM234.7 84.8L237.9 84.8L239.5 86.7L236.3 90.0L233.1 86.7ZM203.0 89.8L206.2 89.8L207.8 91.7L204.6 95.0L201.4 91.7ZM209.4 91.5L212.6 91.5L214.2 93.4L211.0 96.7L207.8 93.4ZM214.4 90.7L217.6 90.7L219.2 92.6L216.0 95.9L212.8 92.6ZM218.7 89.0L221.9 89.0L223.5 90.9L220.3 94.2L217.1 90.9ZM222.9 88.6L226.1 88.6L227.7 90.5L224.5 93.8L221.3 90.5ZM228.0 90.7L231.2 90.7L232.8 92.6L229.6 95.9L226.4 92.6ZM231.3 93.2L234.5 93.2L236.1 95.1L232.9 98.4L229.7 95.1ZM233.9 88.1L237.1 88.1L238.7 90.0L235.5 93.3L232.3 90.0ZM201.8 95.7L205.0 95.7L206.6 97.6L203.4 100.9L200.2 97.6ZM205.2 96.6L208.4 96.6L210.0 98.5L206.8 101.8L203.6 98.5ZM207.7 94.9L210.9 94.9L212.5 96.8L209.3 100.1L206.1 96.8ZM212.3 93.2L215.5 93.2L217.1 95.1L213.9 98.4L210.7 95.1ZM222.0 96.6L225.2 96.6L226.8 98.5L223.6 101.8L220.4 98.5ZM225.4 94.9L228.6 94.9L230.2 96.8L227.0 100.1L223.8 96.8ZM229.7 95.7L232.8 95.7L234.4 97.6L231.2 100.9L228.1 97.6ZM228.0 99.1L231.2 99.1L232.8 101.0L229.6 104.3L226.4 101.0ZM214.4 102.5L217.6 102.5L219.2 104.4L216.0 107.7L212.8 104.4ZM219.5 100.8L222.7 100.8L224.3 102.7L221.1 106.0L217.9 102.7ZM222.9 104.2L226.1 104.2L227.7 106.1L224.5 109.4L221.3 106.1ZM228.8 101.7L232.0 101.7L233.6 103.6L230.4 106.9L227.2 103.6ZM232.2 105.0L235.4 105.0L237.0 106.9L233.8 110.2L230.6 106.9ZM217.8 105.0L221.0 105.0L222.6 106.9L219.4 110.2L216.2 106.9ZM206.8 107.6L210.0 107.6L211.6 109.5L208.4 112.8L205.2 109.5ZM211.1 108.4L214.3 108.4L215.9 110.3L212.7 113.6L209.5 110.3ZM215.3 107.6L218.5 107.6L220.1 109.5L216.9 112.8L213.7 109.5ZM221.2 108.4L224.4 108.4L226.0 110.3L222.8 113.6L219.6 110.3ZM225.4 106.7L228.6 106.7L230.2 108.6L227.0 111.9L223.8 108.6ZM229.7 107.6L232.8 107.6L234.4 109.5L231.2 112.8L228.1 109.5ZM233.9 108.4L237.1 108.4L238.7 110.3L235.5 113.6L232.3 110.3ZM235.6 112.6L238.8 112.6L240.4 114.5L237.2 117.8L234.0 114.5ZM203.5 111.0L206.7 111.0L208.3 112.8L205.1 116.2L201.9 112.8ZM210.2 113.5L213.4 113.5L215.0 115.4L211.8 118.7L208.6 115.4ZM214.4 113.5L217.6 113.5L219.2 115.4L216.0 118.7L212.8 115.4ZM220.4 113.5L223.6 113.5L225.2 115.4L222.0 118.7L218.8 115.4ZM226.3 113.5L229.5 113.5L231.1 115.4L227.9 118.7L224.7 115.4ZM230.5 114.3L233.7 114.3L235.3 116.2L232.1 119.5L228.9 116.2ZM202.6 149.4L205.8 149.4L207.4 151.3L204.2 154.6L201.0 151.3ZM205.2 151.9L208.4 151.9L210.0 153.8L206.8 157.1L203.6 153.8ZM212.8 148.5L216.0 148.5L217.6 150.4L214.4 153.7L211.2 150.4ZM216.1 151.1L219.3 151.1L220.9 153.0L217.7 156.3L214.5 153.0ZM218.7 153.6L221.9 153.6L223.5 155.5L220.3 158.8L217.1 155.5ZM223.7 153.6L226.9 153.6L228.5 155.5L225.3 158.8L222.1 155.5ZM228.0 154.0L231.2 154.0L232.8 155.9L229.6 159.2L226.4 155.9ZM233.9 151.1L237.1 151.1L238.7 153.0L235.5 156.3L232.3 153.0ZM238.1 149.4L241.3 149.4L242.9 151.3L239.7 154.6L236.5 151.3ZM202.2 157.8L205.4 157.8L207.0 159.7L203.8 163.0L200.6 159.7ZM200.1 160.4L203.3 160.4L204.9 162.3L201.7 165.6L198.5 162.3ZM212.8 160.4L216.0 160.4L217.6 162.3L214.4 165.6L211.2 162.3ZM215.3 162.9L218.5 162.9L220.1 164.8L216.9 168.1L213.7 164.8ZM210.2 165.4L213.4 165.4L215.0 167.3L211.8 170.6L208.6 167.3ZM226.3 164.6L229.5 164.6L231.1 166.5L227.9 169.8L224.7 166.5ZM231.3 159.5L234.5 159.5L236.1 161.4L232.9 164.7L229.7 161.4ZM233.9 162.1L237.1 162.1L238.7 164.0L235.5 167.3L232.3 164.0ZM237.3 162.9L240.5 162.9L242.1 164.8L238.9 168.1L235.7 164.8ZM204.3 168.0L207.5 168.0L209.1 169.9L205.9 173.2L202.7 169.9ZM214.4 171.3L217.6 171.3L219.2 173.2L216.0 176.5L212.8 173.2ZM220.4 169.7L223.6 169.7L225.2 171.6L222.0 174.9L218.8 171.6ZM232.2 168.8L235.4 168.8L237.0 170.7L233.8 174.0L230.6 170.7ZM235.6 172.2L238.8 172.2L240.4 174.1L237.2 177.4L234.0 174.1ZM239.8 174.7L243.0 174.7L244.6 176.6L241.4 179.9L238.2 176.6ZM214.4 177.3L217.6 177.3L219.2 179.2L216.0 182.5L212.8 179.2ZM222.9 176.4L226.1 176.4L227.7 178.3L224.5 181.6L221.3 178.3ZM228.0 178.1L231.2 178.1L232.8 180.0L229.6 183.3L226.4 180.0ZM232.2 180.6L235.4 180.6L237.0 182.5L233.8 185.8L230.6 182.5ZM211.1 181.5L214.3 181.5L215.9 183.4L212.7 186.7L209.5 183.4ZM201.4 179.8L204.6 179.8L206.2 181.7L203.0 185.0L199.8 181.7ZM204.7 185.9L207.9 185.9L209.5 187.8L206.3 191.1L203.1 187.8ZM210.4 187.1L213.6 187.1L215.2 189.0L212.0 192.3L208.8 189.0ZM212.3 184.0L215.5 184.0L217.1 185.9L213.9 189.2L210.7 185.9ZM219.9 189.0L223.1 189.0L224.7 190.9L221.5 194.2L218.3 190.9ZM226.2 191.6L229.4 191.6L231.0 193.5L227.8 196.8L224.6 193.5ZM206.6 194.7L209.8 194.7L211.4 196.6L208.2 199.9L205.0 196.6ZM216.1 196.0L219.3 196.0L220.9 197.9L217.7 201.2L214.5 197.9ZM213.5 201.1L216.7 201.1L218.3 203.0L215.1 206.3L211.9 203.0ZM218.0 203.6L221.2 203.6L222.8 205.5L219.6 208.8L216.4 205.5ZM223.7 206.1L226.9 206.1L228.5 208.0L225.3 211.3L222.1 208.0ZM226.2 210.6L229.4 210.6L231.0 212.5L227.8 215.8L224.6 212.5ZM218.6 211.2L221.8 211.2L223.4 213.1L220.2 216.4L217.0 213.1ZM221.1 215.0L224.3 215.0L225.9 216.9L222.7 220.2L219.5 216.9ZM204.7 208.7L207.9 208.7L209.5 210.6L206.3 213.9L203.1 210.6ZM207.2 216.3L210.4 216.3L212.0 218.2L208.8 221.5L205.6 218.2ZM211.6 215.7L214.8 215.7L216.4 217.6L213.2 220.9L210.0 217.6ZM234.5 199.8L237.7 199.8L239.3 201.7L236.1 205.0L232.9 201.7ZM238.3 195.4L241.5 195.4L243.1 197.3L239.9 200.6L236.7 197.3ZM240.8 208.7L244.0 208.7L245.6 210.6L242.4 213.9L239.2 210.6ZM240.2 213.1L243.4 213.1L245.0 215.0L241.8 218.3L238.6 215.0ZM233.8 216.9L237.0 216.9L238.6 218.8L235.4 222.1L232.2 218.8ZM235.7 219.5L238.9 219.5L240.5 221.4L237.3 224.7L234.1 221.4ZM212.9 222.0L216.1 222.0L217.7 223.9L214.5 227.2L211.3 223.9ZM220.5 224.5L223.7 224.5L225.3 226.4L222.1 229.7L218.9 226.4ZM225.6 226.4L228.8 226.4L230.4 228.3L227.2 231.6L224.0 228.3ZM240.2 227.1L243.4 227.1L245.0 229.0L241.8 232.3L238.6 229.0ZM237.6 229.6L240.8 229.6L242.4 231.5L239.2 234.8L236.0 231.5ZM214.8 230.9L218.0 230.9L219.6 232.8L216.4 236.1L213.2 232.8ZM220.5 235.3L223.7 235.3L225.3 237.2L222.1 240.5L218.9 237.2ZM214.2 234.0L217.4 234.0L219.0 235.9L215.8 239.2L212.6 235.9ZM241.4 184.0L244.6 184.0L246.2 185.9L243.0 189.2L239.8 185.9ZM235.1 183.3L238.3 183.3L239.9 185.2L236.7 188.5L233.5 185.2ZM214.8 235.0L218.0 235.0L219.6 236.9L216.4 240.2L213.2 236.9ZM221.1 236.2L224.3 236.2L225.9 238.1L222.7 241.4L219.5 238.1ZM224.3 238.8L227.5 238.8L229.1 240.7L225.9 244.0L222.7 240.7ZM235.1 239.4L238.3 239.4L239.9 241.3L236.7 244.6L233.5 241.3ZM240.8 236.9L244.0 236.9L245.6 238.8L242.4 242.1L239.2 238.8ZM232.6 247.0L235.8 247.0L237.4 248.9L234.2 252.2L231.0 248.9ZM237.6 248.3L240.8 248.3L242.4 250.2L239.2 253.5L236.0 250.2ZM237.0 250.2L240.2 250.2L241.8 252.1L238.6 255.4L235.4 252.1ZM211.6 250.2L214.8 250.2L216.4 252.1L213.2 255.4L210.0 252.1ZM219.2 250.8L222.4 250.8L224.0 252.7L220.8 256.0L217.6 252.7ZM211.6 257.1L214.8 257.1L216.4 259.0L213.2 262.3L210.0 259.0ZM220.5 256.5L223.7 256.5L225.3 258.4L222.1 261.7L218.9 258.4ZM219.9 260.3L223.1 260.3L224.7 262.2L221.5 265.5L218.3 262.2ZM225.6 260.9L228.8 260.9L230.4 262.8L227.2 266.1L224.0 262.8ZM226.2 264.1L229.4 264.1L231.0 266.0L227.8 269.3L224.6 266.0ZM230.6 265.4L233.8 265.4L235.4 267.3L232.2 270.6L229.0 267.3ZM222.4 267.9L225.6 267.9L227.2 269.8L224.0 273.1L220.8 269.8ZM231.9 269.2L235.1 269.2L236.7 271.1L233.5 274.4L230.3 271.1ZM238.9 267.9L242.1 267.9L243.7 269.8L240.5 273.1L237.3 269.8ZM240.8 270.5L244.0 270.5L245.6 272.4L242.4 275.7L239.2 272.4ZM205.9 267.3L209.1 267.3L210.7 269.2L207.5 272.5L204.3 269.2ZM211.6 271.7L214.8 271.7L216.4 273.6L213.2 276.9L210.0 273.6ZM224.9 277.4L228.1 277.4L229.7 279.3L226.5 282.6L223.3 279.3ZM240.2 254.6L243.4 254.6L245.0 256.5L241.8 259.8L238.6 256.5ZM231.9 256.5L235.1 256.5L236.7 258.4L233.5 261.7L230.3 258.4ZM228.1 97.4L231.3 97.4L232.9 99.3L229.7 102.6L226.5 99.3ZM212.2 115.7L215.4 115.7L217.0 117.6L213.8 120.9L210.6 117.6ZM227.5 134.9L230.7 134.9L232.3 136.8L229.1 140.1L225.9 136.8ZM224.5 160.9L227.7 160.9L229.3 162.8L226.1 166.1L222.9 162.8ZM216.6 164.8L219.8 164.8L221.4 166.7L218.2 170.0L215.0 166.7ZM235.0 87.3L238.2 87.3L239.8 89.2L236.6 92.5L233.4 89.2ZM236.0 157.2L239.2 157.2L240.8 159.1L237.6 162.4L234.4 159.1ZM207.1 127.6L210.3 127.6L211.9 129.5L208.7 132.8L205.5 129.5ZM224.9 177.8L228.1 177.8L229.7 179.7L226.5 183.0L223.3 179.7ZM216.0 140.3L219.2 140.3L220.8 142.2L217.6 145.5L214.4 142.2ZM234.1 165.3L237.3 165.3L238.9 167.2L235.7 170.5L232.5 167.2ZM236.4 128.7L239.6 128.7L241.2 130.6L238.0 133.9L234.8 130.6ZM225.8 100.2L229.0 100.2L230.6 102.1L227.4 105.4L224.2 102.1ZM228.4 167.7L231.6 167.7L233.2 169.6L230.0 172.9L226.8 169.6ZM225.5 156.6L228.7 156.6L230.3 158.5L227.1 161.8L223.9 158.5ZM210.1 176.7L213.3 176.7L214.9 178.6L211.7 181.9L208.5 178.6ZM237.7 185.2L240.9 185.2L242.5 187.1L239.3 190.4L236.1 187.1ZM221.7 164.7L224.9 164.7L226.5 166.6L223.3 169.9L220.1 166.6ZM213.9 177.8L217.1 177.8L218.7 179.7L215.5 183.0L212.3 179.7ZM233.2 116.0L236.4 116.0L238.0 117.9L234.8 121.2L231.6 117.9ZM205.4 126.2L208.6 126.2L210.2 128.1L207.0 131.4L203.8 128.1ZM222.2 162.2L225.4 162.2L227.0 164.1L223.8 167.4L220.6 164.1ZM219.9 80.8L223.1 80.8L224.7 82.7L221.5 86.0L218.3 82.7ZM231.5 84.7L234.7 84.7L236.3 86.6L233.1 89.9L229.9 86.6ZM231.2 96.7L234.4 96.7L236.0 98.6L232.8 101.9L229.6 98.6ZM214.5 164.4L217.7 164.4L219.3 166.3L216.1 169.6L212.9 166.3ZM207.5 94.1L210.7 94.1L212.3 96.0L209.1 99.3L205.9 96.0ZM221.0 157.3L224.2 157.3L225.8 159.2L222.6 162.5L219.4 159.2ZM232.6 153.5L235.8 153.5L237.4 155.4L234.2 158.7L231.0 155.4ZM236.4 131.9L239.6 131.9L241.2 133.8L238.0 137.1L234.8 133.8ZM236.6 87.2L239.8 87.2L241.4 89.1L238.2 92.4L235.0 89.1ZM210.4 135.6L213.6 135.6L215.2 137.5L212.0 140.8L208.8 137.5ZM212.8 157.9L216.0 157.9L217.6 159.8L214.4 163.1L211.2 159.8ZM225.4 135.2L228.6 135.2L230.2 137.1L227.0 140.4L223.8 137.1ZM232.8 139.3L236.0 139.3L237.6 141.2L234.4 144.5L231.2 141.2ZM213.6 119.6L216.8 119.6L218.4 121.5L215.2 124.8L212.0 121.5ZM232.8 176.8L236.0 176.8L237.6 178.7L234.4 182.0L231.2 178.7ZM209.9 171.3L213.1 171.3L214.7 173.2L211.5 176.5L208.3 173.2ZM237.3 135.4L240.5 135.4L242.1 137.3L238.9 140.6L235.7 137.3ZM223.0 99.8L226.2 99.8L227.8 101.7L224.6 105.0L221.4 101.7ZM221.7 133.0L224.9 133.0L226.5 134.9L223.3 138.2L220.1 134.9ZM224.2 80.8L227.4 80.8L229.0 82.7L225.8 86.0L222.6 82.7ZM237.3 134.5L240.5 134.5L242.1 136.4L238.9 139.7L235.7 136.4ZM216.8 165.8L220.0 165.8L221.6 167.7L218.4 171.0L215.2 167.7ZM222.7 131.7L225.9 131.7L227.5 133.6L224.3 136.9L221.1 133.6ZM227.3 84.9L230.5 84.9L232.1 86.8L228.9 90.1L225.7 86.8ZM221.8 123.2L225.0 123.2L226.6 125.1L223.4 128.4L220.2 125.1ZM236.8 179.3L240.0 179.3L241.6 181.2L238.4 184.5L235.2 181.2ZM212.1 129.7L215.3 129.7L216.9 131.6L213.7 134.9L210.5 131.6ZM207.0 125.4L210.2 125.4L211.8 127.3L208.6 130.6L205.4 127.3ZM231.8 176.8L235.0 176.8L236.6 178.7L233.4 182.0L230.2 178.7ZM219.6 112.6L222.8 112.6L224.4 114.5L221.2 117.8L218.0 114.5ZM209.3 145.7L212.5 145.7L214.1 147.6L210.9 150.9L207.7 147.6ZM235.7 91.9L238.9 91.9L240.5 93.8L237.3 97.1L234.1 93.8ZM230.5 80.2L233.7 80.2L235.3 82.1L232.1 85.4L228.9 82.1ZM209.4 102.7L212.6 102.7L214.2 104.6L211.0 107.9L207.8 104.6ZM227.1 113.1L230.3 113.1L231.9 115.0L228.7 118.3L225.5 115.0ZM215.2 145.9L218.4 145.9L220.0 147.8L216.8 151.1L213.6 147.8ZM206.2 158.1L209.4 158.1L211.0 160.0L207.8 163.3L204.6 160.0ZM206.8 133.9L210.0 133.9L211.6 135.8L208.4 139.1L205.2 135.8ZM230.9 89.6L234.1 89.6L235.7 91.5L232.5 94.8L229.3 91.5ZM223.7 151.0L226.9 151.0L228.5 152.9L225.3 156.2L222.1 152.9ZM204.9 166.4L208.1 166.4L209.7 168.3L206.5 171.6L203.3 168.3ZM208.8 125.2L212.0 125.2L213.6 127.1L210.4 130.4L207.2 127.1ZM209.2 127.3L212.4 127.3L214.0 129.2L210.8 132.5L207.6 129.2ZM224.2 88.0L227.4 88.0L229.0 89.9L225.8 93.2L222.6 89.9ZM235.5 120.6L238.7 120.6L240.3 122.5L237.1 125.8L233.9 122.5ZM221.3 136.5L224.5 136.5L226.1 138.4L222.9 141.7L219.7 138.4ZM215.8 108.4L219.0 108.4L220.6 110.3L217.4 113.6L214.2 110.3ZM225.7 133.2L228.9 133.2L230.5 135.1L227.3 138.4L224.1 135.1ZM213.0 147.2L216.2 147.2L217.8 149.1L214.6 152.4L211.4 149.1ZM213.5 84.0L216.7 84.0L218.3 85.9L215.1 89.2L211.9 85.9ZM211.7 86.5L214.9 86.5L216.5 88.4L213.3 91.7L210.1 88.4ZM208.7 150.6L211.9 150.6L213.5 152.5L210.3 155.8L207.1 152.5ZM216.7 163.5L219.9 163.5L221.5 165.4L218.3 168.7L215.1 165.4ZM228.8 87.2L232.0 87.2L233.6 89.1L230.4 92.4L227.2 89.1ZM237.0 167.7L240.2 167.7L241.8 169.6L238.6 172.9L235.4 169.6ZM205.9 164.2L209.1 164.2L210.7 166.1L207.5 169.4L204.3 166.1ZM218.0 125.7L221.2 125.7L222.8 127.6L219.6 130.9L216.4 127.6ZM236.5 104.6L239.7 104.6L241.3 106.5L238.1 109.8L234.9 106.5ZM221.2 167.1L224.4 167.1L226.0 169.0L222.8 172.3L219.6 169.0ZM228.0 124.9L231.2 124.9L232.8 126.8L229.6 130.1L226.4 126.8ZM236.7 156.2L239.9 156.2L241.5 158.1L238.3 161.4L235.1 158.1ZM223.9 93.1L227.1 93.1L228.7 95.0L225.5 98.3L222.3 95.0ZM224.6 123.7L227.8 123.7L229.4 125.6L226.2 128.9L223.0 125.6ZM210.3 87.4L213.5 87.4L215.1 89.3L211.9 92.6L208.7 89.3ZM221.4 93.9L224.6 93.9L226.2 95.8L223.0 99.1L219.8 95.8ZM218.5 142.8L221.7 142.8L223.3 144.7L220.1 148.0L216.9 144.7ZM218.9 106.3L222.1 106.3L223.7 108.2L220.5 111.5L217.3 108.2ZM223.2 120.5L226.4 120.5L228.0 122.4L224.8 125.7L221.6 122.4ZM229.9 130.5L233.1 130.5L234.7 132.4L231.5 135.7L228.3 132.4ZM237.3 168.4L240.5 168.4L242.1 170.3L238.9 173.6L235.7 170.3ZM228.4 104.2L231.6 104.2L233.2 106.1L230.0 109.4L226.8 106.1ZM207.3 163.0L210.5 163.0L212.1 164.9L208.9 168.2L205.7 164.9ZM230.1 138.9L233.3 138.9L234.9 140.8L231.7 144.1L228.5 140.8ZM215.6 107.1L218.8 107.1L220.4 109.0L217.2 112.3L214.0 109.0ZM226.7 133.5L229.9 133.5L231.5 135.4L228.3 138.7L225.1 135.4ZM223.5 139.7L226.7 139.7L228.3 141.6L225.1 144.9L221.9 141.6ZM229.0 99.8L232.2 99.8L233.8 101.7L230.6 105.0L227.4 101.7ZM211.9 170.9L215.1 170.9L216.7 172.8L213.5 176.1L210.3 172.8ZM233.7 77.9L236.9 77.9L238.5 79.8L235.3 83.1L232.1 79.8ZM205.7 45.1L208.9 45.1L210.5 47.0L207.3 50.3L204.1 47.0ZM213.1 59.7L216.3 59.7L217.9 61.6L214.7 64.9L211.5 61.6ZM224.3 46.8L227.5 46.8L229.1 48.7L225.9 52.0L222.7 48.7ZM221.7 45.6L224.9 45.6L226.5 47.5L223.3 50.8L220.1 47.5ZM207.2 69.8L210.4 69.8L212.0 71.7L208.8 75.0L205.6 71.7ZM222.0 67.9L225.2 67.9L226.8 69.8L223.6 73.1L220.4 69.8ZM216.3 61.8L219.5 61.8L221.1 63.7L217.9 67.0L214.7 63.7ZM211.1 56.4L214.3 56.4L215.9 58.3L212.7 61.6L209.5 58.3ZM228.2 76.2L231.4 76.2L233.0 78.1L229.8 81.4L226.6 78.1ZM206.8 47.5L210.0 47.5L211.6 49.4L208.4 52.7L205.2 49.4ZM230.3 67.6L233.5 67.6L235.1 69.5L231.9 72.8L228.7 69.5ZM229.0 51.2L232.2 51.2L233.8 53.1L230.6 56.4L227.4 53.1ZM218.0 53.0L221.2 53.0L222.8 54.9L219.6 58.2L216.4 54.9ZM230.3 57.5L233.5 57.5L235.1 59.4L231.9 62.7L228.7 59.4ZM225.3 82.3L228.5 82.3L230.1 84.2L226.9 87.5L223.7 84.2ZM214.8 64.6L218.0 64.6L219.6 66.5L216.4 69.8L213.2 66.5ZM228.3 79.5L231.5 79.5L233.1 81.4L229.9 84.7L226.7 81.4ZM203.1 114.1L206.3 114.1L207.9 116.0L204.7 119.3L201.5 116.0ZM208.6 114.0L211.8 114.0L213.4 115.9L210.2 119.2L207.0 115.9ZM213.5 114.5L216.7 114.5L218.3 116.4L215.1 119.7L211.9 116.4ZM217.7 114.7L220.9 114.7L222.5 116.6L219.3 119.9L216.1 116.6ZM222.7 114.6L225.9 114.6L227.5 116.5L224.3 119.8L221.1 116.5ZM227.7 114.0L230.9 114.0L232.5 115.9L229.3 119.2L226.1 115.9ZM205.3 118.5L208.5 118.5L210.1 120.4L206.9 123.7L203.7 120.4ZM216.0 118.7L219.2 118.7L220.8 120.6L217.6 123.9L214.4 120.6ZM221.7 118.2L224.9 118.2L226.5 120.1L223.3 123.4L220.1 120.1ZM226.5 118.6L229.7 118.6L231.3 120.5L228.1 123.8L224.9 120.5ZM230.3 118.3L233.5 118.3L235.1 120.2L231.9 123.5L228.7 120.2ZM235.6 119.4L238.8 119.4L240.4 121.3L237.2 124.6L234.0 121.3ZM202.9 123.2L206.1 123.2L207.7 125.1L204.5 128.4L201.3 125.1ZM208.6 122.9L211.8 122.9L213.4 124.8L210.2 128.1L207.0 124.8ZM213.5 122.4L216.7 122.4L218.3 124.3L215.1 127.6L211.9 124.3ZM217.7 122.6L220.9 122.6L222.5 124.5L219.3 127.8L216.1 124.5ZM223.7 123.0L226.9 123.0L228.5 124.9L225.3 128.2L222.1 124.9ZM228.1 123.2L231.3 123.2L232.9 125.1L229.7 128.4L226.5 125.1ZM233.3 122.8L236.5 122.8L238.1 124.7L234.9 128.0L231.7 124.7ZM206.4 127.6L209.6 127.6L211.2 129.5L208.0 132.8L204.8 129.5ZM210.5 127.4L213.7 127.4L215.3 129.3L212.1 132.6L208.9 129.3ZM215.9 127.9L219.1 127.9L220.7 129.8L217.5 133.1L214.3 129.8ZM221.3 127.0L224.5 127.0L226.1 128.9L222.9 132.2L219.7 128.9ZM226.7 126.7L229.9 126.7L231.5 128.6L228.3 131.9L225.1 128.6ZM230.8 127.7L234.0 127.7L235.6 129.6L232.4 132.9L229.2 129.6ZM235.3 127.3L238.5 127.3L240.1 129.2L236.9 132.5L233.7 129.2ZM202.7 131.8L205.9 131.8L207.5 133.7L204.3 137.0L201.1 133.7ZM208.8 131.6L212.0 131.6L213.6 133.5L210.4 136.8L207.2 133.5ZM218.7 131.7L221.9 131.7L223.5 133.6L220.3 136.9L217.1 133.6ZM223.5 131.4L226.7 131.4L228.3 133.3L225.1 136.6L221.9 133.3ZM228.9 132.2L232.1 132.2L233.7 134.1L230.5 137.4L227.3 134.1ZM233.4 131.8L236.6 131.8L238.2 133.7L235.0 137.0L231.8 133.7ZM205.2 136.0L208.4 136.0L210.0 137.9L206.8 141.2L203.6 137.9ZM211.1 136.5L214.3 136.5L215.9 138.4L212.7 141.7L209.5 138.4ZM220.7 136.0L223.9 136.0L225.5 137.9L222.3 141.2L219.1 137.9ZM225.1 135.6L228.3 135.6L229.9 137.5L226.7 140.8L223.5 137.5ZM230.4 135.1L233.6 135.1L235.2 137.0L232.0 140.3L228.8 137.0ZM235.2 136.1L238.4 136.1L240.0 138.0L236.8 141.3L233.6 138.0ZM202.8 139.5L206.0 139.5L207.6 141.4L204.4 144.7L201.2 141.4ZM208.2 140.5L211.4 140.5L213.0 142.4L209.8 145.7L206.6 142.4ZM212.7 139.8L215.9 139.8L217.5 141.7L214.3 145.0L211.1 141.7ZM218.5 140.5L221.7 140.5L223.3 142.4L220.1 145.7L216.9 142.4ZM223.9 140.5L227.1 140.5L228.7 142.4L225.5 145.7L222.3 142.4ZM228.0 139.8L231.2 139.8L232.8 141.7L229.6 145.0L226.4 141.7ZM233.2 140.5L236.4 140.5L238.0 142.4L234.8 145.7L231.6 142.4ZM206.6 143.5L209.8 143.5L211.4 145.4L208.2 148.7L205.0 145.4ZM210.4 143.7L213.6 143.7L215.2 145.6L212.0 148.9L208.8 145.6ZM215.5 144.1L218.7 144.1L220.3 146.0L217.1 149.3L213.9 146.0ZM221.0 143.7L224.2 143.7L225.8 145.6L222.6 148.9L219.4 145.6ZM225.1 144.0L228.3 144.0L229.9 145.9L226.7 149.2L223.5 145.9ZM236.6 144.4L239.8 144.4L241.4 146.3L238.2 149.6L235.0 146.3Z"/>
<g fill="#daa520"><circle cx="60.6" cy="106.9" r="3.2"/><circle cx="64.7" cy="109.2" r="3.2"/><circle cx="74.6" cy="111.8" r="3.2"/><circle cx="77.3" cy="110.4" r="3.2"/><circle cx="91.1" cy="111.0" r="3.2"/><circle cx="99.7" cy="108.1" r="3.2"/><circle cx="101.6" cy="106.9" r="3.2"/><circle cx="107.1" cy="105.9" r="3.2"/><circle cx="101.6" cy="95.7" r="3.2"/><circle cx="123.0" cy="124.0" r="3.2"/><circle cx="95.9" cy="132.7" r="3.2"/><circle cx="91.0" cy="138.0" r="3.2"/><circle cx="103.3" cy="136.0" r="3.2"/><circle cx="91.8" cy="147.1" r="3.2"/><circle cx="104.1" cy="150.8" r="3.2"/><circle cx="118.1" cy="154.0" r="3.2"/><circle cx="123.8" cy="150.0" r="3.2"/><circle cx="91.8" cy="163.6" r="3.2"/><circle cx="123.0" cy="172.7" r="3.2"/><circle cx="123.8" cy="82.9" r="3.2"/><circle cx="191.8" cy="53.3" r="3.2"/><circle cx="187.0" cy="71.5" r="3.2"/><circle cx="145.8" cy="58.6" r="3.2"/><circle cx="145.8" cy="68.1" r="3.2"/><circle cx="137.4" cy="84.2" r="3.2"/><circle cx="153.7" cy="83.7" r="3.2"/><circle cx="152.0" cy="87.1" r="3.2"/><circle cx="170.6" cy="86.6" r="3.2"/><circle cx="162.4" cy="92.7" r="3.2"/><circle cx="179.9" cy="88.8" r="3.2"/><circle cx="190.3" cy="83.4" r="3.2"/><circle cx="194.7" cy="87.1" r="3.2"/><circle cx="185.7" cy="93.2" r="3.2"/><circle cx="182.4" cy="94.0" r="3.2"/><circle cx="189.0" cy="92.4" r="3.2"/><circle cx="127.2" cy="100.9" r="3.2"/><circle cx="145.3" cy="99.5" r="3.2"/><circle cx="152.7" cy="104.8" r="3.2"/><circle cx="160.1" cy="102.5" r="3.2"/><circle cx="168.4" cy="102.1" r="3.2"/><circle cx="162.8" cy="107.4" r="3.2"/><circle cx="142.7" cy="108.5" r="3.2"/><circle cx="149.6" cy="111.6" r="3.2"/><circle cx="154.3" cy="114.3" r="3.2"/><circle cx="159.6" cy="113.2" r="3.2"/><circle cx="143.8" cy="116.9" r="3.2"/><circle cx="148.5" cy="114.8" r="3.2"/><circle cx="164.4" cy="116.4" r="3.2"/><circle cx="170.7" cy="115.9" r="3.2"/><circle cx="123.7" cy="123.8" r="3.2"/><circle cx="134.8" cy="124.3" r="3.2"/><circle cx="138.5" cy="127.5" r="3.2"/><circle cx="145.9" cy="128.0" r="3.2"/><circle cx="150.6" cy="122.2" r="3.2"/><circle cx="155.4" cy="124.8" r="3.2"/><circle cx="160.7" cy="118.5" r="3.2"/><circle cx="165.9" cy="124.8" r="3.2"/><circle cx="167.5" cy="121.7" r="3.2"/><circle cx="175.4" cy="120.1" r="3.2"/><circle cx="131.6" cy="133.3" r="3.2"/><circle cx="155.9" cy="131.2" r="3.2"/><circle cx="161.2" cy="133.3" r="3.2"/><circle cx="148.5" cy="132.2" r="3.2"/><circle cx="181.9" cy="94.4" r="3.2"/><circle cx="187.6" cy="92.0" r="3.2"/><circle cx="194.1" cy="86.9" r="3.2"/><circle cx="200.7" cy="88.8" r="3.2"/><circle cx="192.3" cy="93.5" r="3.2"/><circle cx="197.9" cy="93.9" r="3.2"/><circle cx="186.6" cy="99.1" r="3.2"/><circle cx="193.2" cy="101.0" r="3.2"/><circle cx="187.6" cy="103.3" r="3.2"/><circle cx="191.3" cy="106.6" r="3.2"/><circle cx="192.3" cy="112.3" r="3.2"/><circle cx="198.8" cy="112.3" r="3.2"/><circle cx="187.6" cy="110.4" r="3.2"/><circle cx="177.2" cy="118.8" r="3.2"/><circle cx="183.8" cy="117.9" r="3.2"/><circle cx="192.3" cy="120.7" r="3.2"/><circle cx="197.9" cy="117.0" r="3.2"/><circle cx="202.6" cy="122.6" r="3.2"/><circle cx="166.4" cy="119.8" r="3.2"/><circle cx="183.8" cy="123.5" r="3.2"/><circle cx="166.9" cy="125.6" r="3.2"/><circle cx="175.3" cy="120.9" r="3.2"/><circle cx="182.9" cy="125.6" r="3.2"/><circle cx="187.6" cy="125.6" r="3.2"/><circle cx="192.3" cy="121.9" r="3.2"/><circle cx="197.9" cy="122.8" r="3.2"/><circle cx="203.5" cy="123.8" r="3.2"/><circle cx="196.0" cy="130.3" r="3.2"/><circle cx="202.6" cy="131.3" r="3.2"/><circle cx="182.9" cy="137.4" r="3.2"/><circle cx="187.6" cy="138.8" r="3.2"/><circle cx="193.2" cy="139.7" r="3.2"/><circle cx="171.1" cy="141.1" r="3.2"/><circle cx="170.6" cy="144.4" r="3.2"/><circle cx="174.9" cy="147.3" r="3.2"/><circle cx="181.4" cy="145.4" r="3.2"/><circle cx="185.7" cy="152.0" r="3.2"/><circle cx="190.4" cy="151.0" r="3.2"/><circle cx="196.0" cy="148.2" r="3.2"/><circle cx="196.0" cy="155.7" r="3.2"/><circle cx="166.9" cy="151.0" r="3.2"/><circle cx="166.9" cy="155.7" r="3.2"/><circle cx="175.3" cy="159.5" r="3.2"/><circle cx="165.7" cy="128.0" r="3.2"/><circle cx="132.2" cy="135.4" r="3.2"/><circle cx="146.0" cy="135.4" r="3.2"/><circle cx="151.5" cy="134.4" r="3.2"/><circle cx="160.3" cy="134.9" r="3.2"/><circle cx="131.7" cy="142.8" r="3.2"/><circle cx="138.6" cy="141.3" r="3.2"/><circle cx="142.1" cy="141.8" r="3.2"/><circle cx="148.5" cy="143.8" r="3.2"/><circle cx="158.3" cy="145.7" r="3.2"/><circle cx="152.9" cy="146.7" r="3.2"/><circle cx="140.1" cy="150.2" r="3.2"/><circle cx="147.5" cy="153.1" r="3.2"/><circle cx="150.0" cy="155.1" r="3.2"/><circle cx="168.2" cy="160.5" r="3.2"/><circle cx="130.8" cy="162.0" r="3.2"/><circle cx="129.8" cy="168.4" r="3.2"/><circle cx="139.1" cy="168.4" r="3.2"/><circle cx="123.9" cy="170.0" r="3.2"/><circle cx="168.7" cy="141.8" r="3.2"/><circle cx="130.1" cy="169.9" r="3.2"/><circle cx="166.7" cy="162.5" r="3.2"/><circle cx="175.8" cy="163.3" r="3.2"/><circle cx="170.8" cy="176.4" r="3.2"/><circle cx="174.1" cy="177.2" r="3.2"/><circle cx="188.9" cy="162.5" r="3.2"/><circle cx="188.1" cy="169.9" r="3.2"/><circle cx="197.1" cy="170.7" r="3.2"/><circle cx="192.2" cy="176.4" r="3.2"/><circle cx="184.5" cy="258.6" r="3.2"/><circle cx="202.4" cy="74.8" r="3.2"/></g>
<g fill="none" stroke="#ff0000" stroke-width="1.6"><circle cx="60.6" cy="106.9" r="3.3"/><circle cx="64.7" cy="109.2" r="3.3"/><circle cx="74.6" cy="111.8" r="3.3"/><circle cx="77.3" cy="110.4" r="3.3"/><circle cx="91.1" cy="111.0" r="3.3"/><circle cx="99.7" cy="108.1" r="3.3"/><circle cx="101.6" cy="106.9" r="3.3"/><circle cx="107.1" cy="105.9" r="3.3"/><circle cx="101.6" cy="95.7" r="3.3"/><circle cx="123.0" cy="124.0" r="3.3"/><circle cx="95.9" cy="132.7" r="3.3"/><circle cx="91.0" cy="138.0" r="3.3"/><circle cx="103.3" cy="136.0" r="3.3"/><circle cx="91.8" cy="147.1" r="3.3"/><circle cx="104.1" cy="150.8" r="3.3"/><circle cx="118.1" cy="154.0" r="3.3"/><circle cx="123.8" cy="150.0" r="3.3"/><circle cx="91.8" cy="163.6" r="3.3"/><circle cx="123.0" cy="172.7" r="3.3"/><circle cx="123.8" cy="82.9" r="3.3"/><circle cx="191.8" cy="53.3" r="3.3"/><circle cx="187.0" cy="71.5" r="3.3"/><circle cx="145.8" cy="58.6" r="3.3"/><circle cx="145.8" cy="68.1" r="3.3"/><circle cx="137.4" cy="84.2" r="3.3"/><circle cx="153.7" cy="83.7" r="3.3"/><circle cx="152.0" cy="87.1" r="3.3"/><circle cx="170.6" cy="86.6" r="3.3"/><circle cx="162.4" cy="92.7" r="3.3"/><circle cx="179.9" cy="88.8" r="3.3"/><circle cx="190.3" cy="83.4" r="3.3"/><circle cx="194.7" cy="87.1" r="3.3"/><circle cx="185.7" cy="93.2" r="3.3"/><circle cx="182.4" cy="94.0" r="3.3"/><circle cx="189.0" cy="92.4" r="3.3"/><circle cx="127.2" cy="100.9" r="3.3"/><circle cx="145.3" cy="99.5" r="3.3"/><circle cx="152.7" cy="104.8" r="3.3"/><circle cx="160.1" cy="102.5" r="3.3"/><circle cx="168.4" cy="102.1" r="3.3"/><circle cx="162.8" cy="107.4" r="3.3"/><circle cx="142.7" cy="108.5" r="3.3"/><circle cx="149.6" cy="111.6" r="3.3"/><circle cx="154.3" cy="114.3" r="3.3"/><circle cx="159.6" cy="113.2" r="3.3"/><circle cx="143.8" cy="116.9" r="3.3"/><circle cx="148.5" cy="114.8" r="3.3"/><circle cx="164.4" cy="116.4" r="3.3"/><circle cx="170.7" cy="115.9" r="3.3"/><circle cx="123.7" cy="123.8" r="3.3"/><circle cx="134.8" cy="124.3" r="3.3"/><circle cx="138.5" cy="127.5" r="3.3"/><circle cx="145.9" cy="128.0" r="3.3"/><circle cx="150.6" cy="122.2" r="3.3"/><circle cx="155.4" cy="124.8" r="3.3"/><circle cx="160.7" cy="118.5" r="3.3"/><circle cx="165.9" cy="124.8" r="3.3"/><circle cx="167.5" cy="121.7" r="3.3"/><circle cx="175.4" cy="120.1" r="3.3"/><circle cx="131.6" cy="133.3" r="3.3"/><circle cx="155.9" cy="131.2" r="3.3"/><circle cx="161.2" cy="133.3" r="3.3"/><circle cx="148.5" cy="132.2" r="3.3"/><circle cx="181.9" cy="94.4" r="3.3"/><circle cx="187.6" cy="92.0" r="3.3"/><circle cx="194.1" cy="86.9" r="3.3"/><circle cx="200.7" cy="88.8" r="3.3"/><circle cx="192.3" cy="93.5" r="3.3"/><circle cx="197.9" cy="93.9" r="3.3"/><circle cx="186.6" cy="99.1" r="3.3"/><circle cx="193.2" cy="101.0" r="3.3"/><circle cx="187.6" cy="103.3" r="3.3"/><circle cx="191.3" cy="106.6" r="3.3"/><circle cx="192.3" cy="112.3" r="3.3"/><circle cx="198.8" cy="112.3" r="3.3"/><circle cx="187.6" cy="110.4" r="3.3"/><circle cx="177.2" cy="118.8" r="3.3"/><circle cx="183.8" cy="117.9" r="3.3"/><circle cx="192.3" cy="120.7" r="3.3"/><circle cx="197.9" cy="117.0" r="3.3"/><circle cx="202.6" cy="122.6" r="3.3"/><circle cx="166.4" cy="119.8" r="3.3"/><circle cx="183.8" cy="123.5" r="3.3"/><circle cx="166.9" cy="125.6" r="3.3"/><circle cx="175.3" cy="120.9" r="3.3"/><circle cx="182.9" cy="125.6" r="3.3"/><circle cx="187.6" cy="125.6" r="3.3"/><circle cx="192.3" cy="121.9" r="3.3"/><circle cx="197.9" cy="122.8" r="3.3"/><circle cx="203.5" cy="123.8" r="3.3"/><circle cx="196.0" cy="130.3" r="3.3"/><circle cx="202.6" cy="131.3" r="3.3"/><circle cx="182.9" cy="137.4" r="3.3"/><circle cx="187.6" cy="138.8" r="3.3"/><circle cx="193.2" cy="139.7" r="3.3"/><circle cx="171.1" cy="141.1" r="3.3"/><circle cx="170.6" cy="144.4" r="3.3"/><circle cx="174.9" cy="147.3" r="3.3"/><circle cx="181.4" cy="145.4" r="3.3"/><circle cx="185.7" cy="152.0" r="3.3"/><circle cx="190.4" cy="151.0" r="3.3"/><circle cx="196.0" cy="148.2" r="3.3"/><circle cx="196.0" cy="155.7" r="3.3"/><circle cx="166.9" cy="151.0" r="3.3"/><circle cx="166.9" cy="155.7" r="3.3"/><circle cx="175.3" cy="159.5" r="3.3"/><circle cx="165.7" cy="128.0" r="3.3"/><circle cx="132.2" cy="135.4" r="3.3"/><circle cx="146.0" cy="135.4" r="3.3"/><circle cx="151.5" cy="134.4" r="3.3"/><circle cx="160.3" cy="134.9" r="3.3"/><circle cx="131.7" cy="142.8" r="3.3"/><circle cx="138.6" cy="141.3" r="3.3"/><circle cx="142.1" cy="141.8" r="3.3"/><circle cx="148.5" cy="143.8" r="3.3"/><circle cx="158.3" cy="145.7" r="3.3"/><circle cx="152.9" cy="146.7" r="3.3"/><circle cx="140.1" cy="150.2" r="3.3"/><circle cx="147.5" cy="153.1" r="3.3"/><circle cx="150.0" cy="155.1" r="3.3"/><circle cx="168.2" cy="160.5" r="3.3"/><circle cx="130.8" cy="162.0" r="3.3"/><circle cx="129.8" cy="168.4" r="3.3"/><circle cx="139.1" cy="168.4" r="3.3"/><circle cx="123.9" cy="170.0" r="3.3"/><circle cx="168.7" cy="141.8" r="3.3"/><circle cx="130.1" cy="169.9" r="3.3"/><circle cx="166.7" cy="162.5" r="3.3"/><circle cx="175.8" cy="163.3" r="3.3"/><circle cx="170.8" cy="176.4" r="3.3"/><circle cx="174.1" cy="177.2" r="3.3"/><circle cx="188.9" cy="162.5" r="3.3"/><circle cx="188.1" cy="169.9" r="3.3"/><circle cx="197.1" cy="170.7" r="3.3"/><circle cx="192.2" cy="176.4" r="3.3"/><circle cx="184.5" cy="258.6" r="3.3"/><circle cx="202.4" cy="74.8" r="3.3"/><circle cx="116.8" cy="100.2" r="3.3"/><circle cx="190.3" cy="42.0" r="3.3"/><circle cx="198.8" cy="58.2" r="3.3"/><circle cx="198.0" cy="83.4" r="3.3"/><circle cx="176.0" cy="112.2" r="3.3"/><circle cx="200.2" cy="103.8" r="3.3"/><circle cx="181.9" cy="107.6" r="3.3"/><circle cx="192.3" cy="130.3" r="3.3"/><circle cx="203.5" cy="138.3" r="3.3"/><circle cx="156.4" cy="156.6" r="3.3"/><circle cx="166.2" cy="151.6" r="3.3"/><circle cx="167.2" cy="156.6" r="3.3"/><circle cx="195.5" cy="161.6" r="3.3"/><circle cx="193.8" cy="166.6" r="3.3"/><circle cx="195.5" cy="179.7" r="3.3"/><circle cx="200.4" cy="175.6" r="3.3"/><circle cx="202.8" cy="181.3" r="3.3"/><circle cx="202.0" cy="199.4" r="3.3"/><circle cx="181.5" cy="235.6" r="3.3"/><circle cx="203.7" cy="270.1" r="3.3"/><circle cx="192.6" cy="110.8" r="3.3"/><circle cx="185.9" cy="150.3" r="3.3"/><circle cx="185.6" cy="88.5" r="3.3"/><circle cx="195.3" cy="119.8" r="3.3"/><circle cx="197.7" cy="105.3" r="3.3"/><circle cx="199.5" cy="87.9" r="3.3"/><circle cx="188.3" cy="133.6" r="3.3"/><circle cx="185.6" cy="105.7" r="3.3"/><circle cx="198.5" cy="136.1" r="3.3"/><circle cx="189.7" cy="93.1" r="3.3"/><circle cx="191.2" cy="138.6" r="3.3"/><circle cx="191.3" cy="91.2" r="3.3"/><circle cx="198.2" cy="126.4" r="3.3"/><circle cx="202.4" cy="155.3" r="3.3"/><circle cx="181.1" cy="121.9" r="3.3"/><circle cx="176.1" cy="115.2" r="3.3"/><circle cx="154.3" cy="120.0" r="3.3"/><circle cx="182.1" cy="144.7" r="3.3"/><circle cx="151.2" cy="118.1" r="3.3"/><circle cx="156.5" cy="118.2" r="3.3"/><circle cx="157.8" cy="119.4" r="3.3"/><circle cx="148.8" cy="128.2" r="3.3"/><circle cx="175.9" cy="127.0" r="3.3"/><circle cx="177.6" cy="128.1" r="3.3"/></g><path fill="#00ff00" d="M350.3 21.6L353.3 21.6L355.1 26.3L348.5 26.3ZM394.4 20.9L397.4 20.9L399.2 25.6L392.6 25.6ZM408.4 26.6L411.4 26.6L413.2 31.3L406.6 31.3ZM412.7 34.6L415.7 34.6L417.5 39.3L410.9 39.3ZM369.4 51.2L372.4 51.2L374.2 55.9L367.6 55.9ZM451.5 4.0L454.5 4.0L456.3 8.7L449.7 8.7ZM486.0 6.2L489.0 6.2L490.8 10.9L484.2 10.9ZM413.9 34.6L416.9 34.6L418.7 39.3L412.1 39.3ZM441.2 34.6L444.2 34.6L446.0 39.3L439.4 39.3ZM460.6 35.0L463.6 35.0L465.4 39.7L458.8 39.7ZM450.0 51.2L453.0 51.2L454.8 55.9L448.2 55.9ZM486.7 5.8L489.7 5.8L491.5 10.5L484.9 10.5ZM501.9 1.4L504.9 1.4L506.7 6.1L500.1 6.1ZM504.5 5.3L507.5 5.3L509.3 10.0L502.7 10.0ZM506.1 14.3L509.1 14.3L510.9 19.0L504.3 19.0ZM527.3 8.2L530.3 8.2L532.1 12.9L525.5 12.9ZM523.0 14.6L526.0 14.6L527.8 19.3L521.2 19.3ZM532.3 14.3L535.3 14.3L537.1 19.0L530.5 19.0ZM529.5 18.8L532.5 18.8L534.3 23.5L527.7 23.5ZM560.5 12.6L563.5 12.6L565.3 17.3L558.7 17.3ZM566.1 7.5L569.1 7.5L570.9 12.2L564.3 12.2ZM571.7 8.2L574.7 8.2L576.5 12.9L569.9 12.9ZM566.6 23.0L569.6 23.0L571.4 27.7L564.8 27.7ZM570.7 32.3L573.7 32.3L575.5 37.0L568.9 37.0ZM491.3 25.1L494.3 25.1L496.1 29.8L489.5 29.8ZM490.9 28.9L493.9 28.9L495.7 33.6L489.1 33.6ZM511.6 43.0L514.6 43.0L516.4 47.7L509.8 47.7ZM521.0 41.6L524.0 41.6L525.8 46.3L519.2 46.3ZM542.5 39.1L545.5 39.1L547.3 43.8L540.7 43.8ZM495.2 54.8L498.2 54.8L500.0 59.5L493.4 59.5ZM505.3 65.3L508.3 65.3L510.1 70.0L503.5 70.0ZM572.0 67.8L575.0 67.8L576.8 72.5L570.2 72.5ZM396.2 63.4L399.2 63.4L401.0 68.1L394.4 68.1ZM388.6 123.6L391.6 123.6L393.4 128.3L386.8 128.3ZM380.1 163.0L383.1 163.0L384.9 167.7L378.3 167.7ZM368.3 193.3L371.3 193.3L373.1 198.0L366.5 198.0ZM374.5 199.0L377.5 199.0L379.3 203.7L372.7 203.7ZM376.4 241.5L379.4 241.5L381.2 246.2L374.6 246.2ZM384.2 239.4L387.2 239.4L389.0 244.1L382.4 244.1ZM377.1 257.9L380.1 257.9L381.9 262.6L375.3 262.6ZM396.8 63.4L399.8 63.4L401.6 68.1L395.0 68.1ZM404.1 61.2L407.1 61.2L408.9 65.9L402.3 65.9ZM404.6 109.0L407.6 109.0L409.4 113.7L402.8 113.7ZM405.2 115.7L408.2 115.7L410.0 120.4L403.4 120.4ZM432.8 126.4L435.8 126.4L437.6 131.1L431.0 131.1ZM449.7 127.6L452.7 127.6L454.5 132.3L447.9 132.3ZM454.2 140.5L457.2 140.5L459.0 145.2L452.4 145.2ZM431.7 157.3L434.7 157.3L436.5 162.0L429.9 162.0ZM428.3 163.0L431.3 163.0L433.1 167.7L426.5 167.7ZM441.8 168.6L444.8 168.6L446.6 173.3L440.0 173.3ZM408.9 177.6L411.9 177.6L413.7 182.3L407.1 182.3ZM457.6 192.2L460.6 192.2L462.4 196.9L455.8 196.9ZM437.5 225.4L440.5 225.4L442.3 230.1L435.7 230.1ZM448.0 241.5L451.0 241.5L452.8 246.2L446.2 246.2ZM448.4 263.4L451.4 263.4L453.2 268.1L446.6 268.1ZM495.3 55.0L498.3 55.0L500.1 59.7L493.5 59.7ZM505.4 65.3L508.4 65.3L510.2 70.0L503.6 70.0ZM478.2 82.2L481.2 82.2L483.0 86.9L476.4 86.9ZM488.3 82.0L491.3 82.0L493.1 86.7L486.5 86.7ZM467.8 98.9L470.8 98.9L472.6 103.6L466.0 103.6ZM467.8 98.8L470.8 98.8L472.6 103.5L466.0 103.5ZM486.0 111.2L489.0 111.2L490.8 115.9L484.2 115.9ZM500.7 111.2L503.7 111.2L505.5 115.9L498.9 115.9ZM471.4 116.9L474.4 116.9L476.2 121.6L469.6 121.6ZM476.5 119.7L479.5 119.7L481.3 124.4L474.7 124.4ZM484.4 121.4L487.4 121.4L489.2 126.1L482.6 126.1ZM491.5 120.8L494.5 120.8L496.3 125.5L489.7 125.5ZM481.8 127.9L484.8 127.9L486.6 132.6L480.0 132.6ZM492.8 134.9L495.8 134.9L497.6 139.6L491.0 139.6ZM497.3 134.9L500.3 134.9L502.1 139.6L495.5 139.6ZM465.8 145.0L468.8 145.0L470.6 149.7L464.0 149.7ZM466.3 146.1L469.3 146.1L471.1 150.8L464.5 150.8ZM480.2 148.3L483.2 148.3L485.0 153.0L478.4 153.0ZM500.7 147.8L503.7 147.8L505.5 152.5L498.9 152.5ZM512.5 147.8L515.5 147.8L517.3 152.5L510.7 152.5ZM484.0 159.0L487.0 159.0L488.8 163.7L482.2 163.7ZM490.0 157.3L493.0 157.3L494.8 162.0L488.2 162.0ZM461.3 164.7L464.3 164.7L466.1 169.4L459.5 169.4ZM467.8 170.3L470.8 170.3L472.6 175.0L466.0 175.0ZM473.7 176.5L476.7 176.5L478.5 181.2L471.9 181.2ZM465.8 181.0L468.8 181.0L470.6 185.7L464.0 185.7ZM504.6 171.4L507.6 171.4L509.4 176.1L502.8 176.1ZM499.8 177.6L502.8 177.6L504.6 182.3L498.0 182.3ZM496.8 183.8L499.8 183.8L501.6 188.5L495.0 188.5ZM457.9 190.0L460.9 190.0L462.7 194.7L456.1 194.7ZM458.4 192.2L461.4 192.2L463.2 196.9L456.6 196.9ZM502.4 197.3L505.4 197.3L507.2 202.0L500.6 202.0ZM461.5 211.9L464.5 211.9L466.3 216.6L459.7 216.6ZM473.1 215.9L476.1 215.9L477.9 220.6L471.3 220.6ZM508.4 211.9L511.4 211.9L513.2 216.6L506.6 216.6ZM509.9 216.4L512.9 216.4L514.7 221.1L508.1 221.1ZM511.7 221.5L514.7 221.5L516.5 226.2L509.9 226.2ZM498.4 224.3L501.4 224.3L503.2 229.0L496.6 229.0ZM510.6 252.1L513.6 252.1L515.4 256.8L508.8 256.8ZM516.7 249.5L519.7 249.5L521.5 254.2L514.9 254.2ZM483.1 257.9L486.1 257.9L487.9 262.6L481.3 262.6ZM503.3 258.5L506.3 258.5L508.1 263.2L501.5 263.2ZM514.5 267.3L517.5 267.3L519.3 272.0L512.7 272.0ZM464.2 273.3L467.2 273.3L469.0 278.0L462.4 278.0ZM480.3 283.7L483.3 283.7L485.1 288.4L478.5 288.4ZM505.5 281.7L508.5 281.7L510.3 286.4L503.7 286.4ZM572.0 68.2L575.0 68.2L576.8 72.9L570.2 72.9ZM563.0 77.5L566.0 77.5L567.8 82.2L561.2 82.2ZM555.3 89.9L558.3 89.9L560.1 94.6L553.5 94.6ZM531.2 99.5L534.2 99.5L536.0 104.2L529.4 104.2ZM543.6 98.3L546.6 98.3L548.4 103.0L541.8 103.0ZM557.3 113.5L560.3 113.5L562.1 118.2L555.5 118.2ZM525.8 120.0L528.8 120.0L530.6 124.7L524.0 124.7ZM533.1 126.4L536.1 126.4L537.9 131.1L531.3 131.1ZM572.5 133.2L575.5 133.2L577.3 137.9L570.7 137.9ZM547.0 139.4L550.0 139.4L551.8 144.1L545.2 144.1ZM540.2 144.5L543.2 144.5L545.0 149.2L538.4 149.2ZM539.9 145.5L542.9 145.5L544.7 150.2L538.1 150.2ZM541.5 147.2L544.5 147.2L546.3 151.9L539.7 151.9ZM548.3 147.2L551.3 147.2L553.1 151.9L546.5 151.9ZM554.2 152.6L557.2 152.6L559.0 157.3L552.4 157.3ZM552.8 156.8L555.8 156.8L557.6 161.5L551.0 161.5ZM526.9 154.2L529.9 154.2L531.7 158.9L525.1 158.9ZM546.3 173.3L549.3 173.3L551.1 178.0L544.5 178.0ZM555.1 185.5L558.1 185.5L559.9 190.2L553.3 190.2ZM555.3 187.8L558.3 187.8L560.1 192.5L553.5 192.5ZM524.6 190.0L527.6 190.0L529.4 194.7L522.8 194.7ZM525.2 192.8L528.2 192.8L530.0 197.5L523.4 197.5ZM544.0 196.5L547.0 196.5L548.8 201.2L542.2 201.2ZM550.0 201.8L553.0 201.8L554.8 206.5L548.2 206.5ZM568.8 204.0L571.8 204.0L573.6 208.7L567.0 208.7ZM524.4 208.9L527.4 208.9L529.2 213.6L522.6 213.6ZM544.4 218.7L547.4 218.7L549.2 223.4L542.6 223.4ZM559.3 218.3L562.3 218.3L564.1 223.0L557.5 223.0ZM567.2 224.0L570.2 224.0L572.0 228.7L565.4 228.7ZM559.3 227.7L562.3 227.7L564.1 232.4L557.5 232.4ZM565.4 229.6L568.4 229.6L570.2 234.3L563.6 234.3ZM517.7 249.5L520.7 249.5L522.5 254.2L515.9 254.2ZM559.9 246.2L562.9 246.2L564.7 250.9L558.1 250.9ZM532.8 259.2L535.8 259.2L537.6 263.9L531.0 263.9ZM515.8 267.3L518.8 267.3L520.6 272.0L514.0 272.0ZM545.7 275.5L548.7 275.5L550.5 280.2L543.9 280.2Z"/>
<path fill="#0000ff" d="M381.6 1.9L384.8 1.9L386.4 3.8L383.2 7.1L380.0 3.8ZM386.5 1.6L389.7 1.6L391.3 3.5L388.1 6.8L384.9 3.5ZM395.0 4.0L398.2 4.0L399.8 5.9L396.6 9.2L393.4 5.9ZM399.2 9.7L402.4 9.7L404.0 11.6L400.8 14.9L397.6 11.6ZM392.1 14.6L395.3 14.6L396.9 16.5L393.7 19.8L390.5 16.5ZM397.8 16.0L401.0 16.0L402.6 17.9L399.4 21.2L396.2 17.9ZM373.8 45.9L377.0 45.9L378.6 47.8L375.4 51.1L372.2 47.8ZM452.1 0.8L455.3 0.8L456.9 2.7L453.7 6.0L450.5 2.7ZM423.2 10.1L426.4 10.1L428.0 12.0L424.8 15.3L421.6 12.0ZM439.4 13.5L442.6 13.5L444.2 15.4L441.0 18.7L437.8 15.4ZM457.0 16.7L460.2 16.7L461.8 18.6L458.6 21.9L455.4 18.6ZM468.3 19.1L471.5 19.1L473.1 21.0L469.9 24.3L466.7 21.0ZM454.9 30.4L458.1 30.4L459.7 32.3L456.5 35.6L453.3 32.3ZM463.0 35.4L466.2 35.4L467.8 37.3L464.6 40.6L461.4 37.3ZM472.5 32.2L475.7 32.2L477.3 34.1L474.1 37.4L470.9 34.1ZM441.1 42.1L444.3 42.1L445.9 44.0L442.7 47.3L439.5 44.0ZM448.5 50.5L451.7 50.5L453.3 52.4L450.1 55.7L446.9 52.4ZM419.0 54.7L422.2 54.7L423.8 56.6L420.6 59.9L417.4 56.6ZM442.2 56.2L445.4 56.2L447.0 58.1L443.8 61.4L440.6 58.1ZM478.8 56.9L482.0 56.9L483.6 58.8L480.4 62.1L477.2 58.8ZM491.7 8.7L494.9 8.7L496.5 10.6L493.3 13.9L490.1 10.6ZM490.8 11.2L494.0 11.2L495.6 13.1L492.4 16.4L489.2 13.1ZM524.3 13.2L527.5 13.2L529.1 15.1L525.9 18.4L522.7 15.1ZM556.4 13.7L559.6 13.7L561.2 15.6L558.0 18.9L554.8 15.6ZM498.4 28.9L501.6 28.9L503.2 30.9L500.0 34.1L496.8 30.9ZM533.4 39.6L536.6 39.6L538.2 41.5L535.0 44.8L531.8 41.5ZM565.2 40.8L568.4 40.8L570.0 42.7L566.8 46.0L563.6 42.7ZM490.5 61.0L493.7 61.0L495.3 62.9L492.1 66.2L488.9 62.9ZM484.1 64.4L487.3 64.4L488.9 66.3L485.7 69.6L482.5 66.3ZM506.9 68.6L510.1 68.6L511.7 70.5L508.5 73.8L505.3 70.5ZM545.4 65.8L548.6 65.8L550.2 67.7L547.0 71.0L543.8 67.7ZM567.7 66.6L570.9 66.6L572.5 68.5L569.3 71.8L566.1 68.5ZM355.8 60.8L359.0 60.8L360.6 62.7L357.4 66.0L354.2 62.7ZM389.6 54.1L392.8 54.1L394.4 56.0L391.2 59.3L388.0 56.0ZM369.3 85.9L372.5 85.9L374.1 87.8L370.9 91.1L367.7 87.8ZM368.2 91.0L371.4 91.0L373.0 92.9L369.8 96.2L366.6 92.9ZM391.3 78.6L394.5 78.6L396.1 80.5L392.9 83.8L389.7 80.5ZM394.1 78.4L397.3 78.4L398.9 80.3L395.7 83.6L392.5 80.3ZM396.9 83.1L400.1 83.1L401.7 85.0L398.5 88.3L395.3 85.0ZM396.9 88.8L400.1 88.8L401.7 90.7L398.5 94.0L395.3 90.7ZM390.2 92.7L393.4 92.7L395.0 94.6L391.8 97.9L388.6 94.6ZM389.6 97.2L392.8 97.2L394.4 99.1L391.2 102.4L388.0 99.1ZM349.0 98.9L352.2 98.9L353.8 100.8L350.6 104.1L347.4 100.8ZM352.4 111.8L355.6 111.8L357.2 113.7L354.0 117.0L350.8 113.7ZM394.1 109.5L397.3 109.5L398.9 111.4L395.7 114.7L392.5 111.4ZM378.3 116.9L381.5 116.9L383.1 118.8L379.9 122.1L376.7 118.8ZM349.0 118.5L352.2 118.5L353.8 120.4L350.6 123.7L347.4 120.4ZM356.9 123.1L360.1 123.1L361.7 125.0L358.5 128.3L355.3 125.0ZM386.2 131.5L389.4 131.5L391.0 133.4L387.8 136.7L384.6 133.4ZM364.8 151.7L368.0 151.7L369.6 153.6L366.4 156.9L363.2 153.6ZM389.6 152.3L392.8 152.3L394.4 154.2L391.2 157.5L388.0 154.2ZM382.3 159.0L385.5 159.0L387.1 160.9L383.9 164.2L380.7 160.9ZM389.6 159.0L392.8 159.0L394.4 160.9L391.2 164.2L388.0 160.9ZM348.5 163.5L351.7 163.5L353.3 165.4L350.1 168.7L346.9 165.4ZM385.7 168.1L388.9 168.1L390.5 170.0L387.3 173.3L384.1 170.0ZM394.1 171.4L397.3 171.4L398.9 173.3L395.7 176.6L392.5 173.3ZM361.4 179.9L364.6 179.9L366.2 181.8L363.0 185.1L359.8 181.8ZM380.0 176.5L383.2 176.5L384.8 178.4L381.6 181.7L378.4 178.4ZM382.9 187.2L386.1 187.2L387.7 189.1L384.5 192.4L381.3 189.1ZM397.5 181.6L400.7 181.6L402.3 183.5L399.1 186.8L395.9 183.5ZM379.5 196.7L382.7 196.7L384.3 198.6L381.1 201.9L377.9 198.6ZM370.5 210.8L373.7 210.8L375.3 212.7L372.1 216.0L368.9 212.7ZM375.5 212.7L378.7 212.7L380.3 214.6L377.1 217.9L373.9 214.6ZM360.1 215.6L363.3 215.6L364.9 217.5L361.7 220.8L358.5 217.5ZM395.8 208.5L399.0 208.5L400.6 210.4L397.4 213.7L394.2 210.4ZM397.5 214.7L400.7 214.7L402.3 216.6L399.1 219.9L395.9 216.6ZM382.6 227.1L385.8 227.1L387.4 229.0L384.2 232.3L381.0 229.0ZM382.9 230.5L386.1 230.5L387.7 232.4L384.5 235.7L381.3 232.4ZM386.5 233.9L389.7 233.9L391.3 235.8L388.1 239.1L384.9 235.8ZM389.9 249.7L393.1 249.7L394.7 251.6L391.5 254.9L388.3 251.6ZM377.4 256.6L380.6 256.6L382.2 258.5L379.0 261.8L375.8 258.5ZM356.1 260.1L359.3 260.1L360.9 262.0L357.7 265.3L354.5 262.0ZM369.5 265.2L372.7 265.2L374.3 267.1L371.1 270.4L367.9 267.1ZM373.5 266.9L376.7 266.9L378.3 268.8L375.1 272.1L371.9 268.8ZM410.7 58.9L413.9 58.9L415.5 60.8L412.3 64.1L409.1 60.8ZM413.0 60.6L416.2 60.6L417.8 62.5L414.6 65.8L411.4 62.5ZM419.2 55.5L422.4 55.5L424.0 57.4L420.8 60.7L417.6 57.4ZM441.7 56.6L444.9 56.6L446.5 58.5L443.3 61.8L440.1 58.5ZM444.0 56.6L447.2 56.6L448.8 58.5L445.6 61.8L442.4 58.5ZM423.1 75.8L426.3 75.8L427.9 77.7L424.7 81.0L421.5 77.7ZM440.0 75.8L443.2 75.8L444.8 77.7L441.6 81.0L438.4 77.7ZM444.5 70.2L447.7 70.2L449.3 72.1L446.1 75.4L442.9 72.1ZM456.9 66.2L460.1 66.2L461.7 68.1L458.5 71.4L455.3 68.1ZM395.5 78.1L398.7 78.1L400.3 80.0L397.1 83.3L393.9 80.0ZM398.3 83.1L401.5 83.1L403.1 85.0L399.9 88.3L396.7 85.0ZM405.7 81.4L408.9 81.4L410.5 83.3L407.3 86.6L404.1 83.3ZM436.1 82.6L439.3 82.6L440.9 84.5L437.7 87.8L434.5 84.5ZM438.9 84.8L442.1 84.8L443.7 86.7L440.5 90.0L437.3 86.7ZM440.0 100.0L443.2 100.0L444.8 101.9L441.6 105.2L438.4 101.9ZM438.3 102.2L441.5 102.2L443.1 104.1L439.9 107.4L436.7 104.1ZM431.6 106.7L434.8 106.7L436.4 108.6L433.2 111.9L430.0 108.6ZM442.9 110.7L446.1 110.7L447.7 112.6L444.5 115.9L441.3 112.6ZM454.7 109.0L457.9 109.0L459.5 110.9L456.3 114.2L453.1 110.9ZM408.5 115.2L411.7 115.2L413.3 117.1L410.1 120.4L406.9 117.1ZM424.3 115.2L427.5 115.2L429.1 117.1L425.9 120.4L422.7 117.1ZM411.3 125.3L414.5 125.3L416.1 127.2L412.9 130.5L409.7 127.2ZM411.9 123.1L415.1 123.1L416.7 125.0L413.5 128.3L410.3 125.0ZM444.5 125.9L447.7 125.9L449.3 127.8L446.1 131.1L442.9 127.8ZM453.0 130.4L456.2 130.4L457.8 132.3L454.6 135.6L451.4 132.3ZM442.9 135.4L446.1 135.4L447.7 137.3L444.5 140.6L441.3 137.3ZM457.5 130.9L460.7 130.9L462.3 132.8L459.1 136.1L455.9 132.8ZM432.7 129.2L435.9 129.2L437.5 131.1L434.3 134.4L431.1 131.1ZM444.5 142.2L447.7 142.2L449.3 144.1L446.1 147.4L442.9 144.1ZM416.9 134.3L420.1 134.3L421.7 136.2L418.5 139.5L415.3 136.2ZM410.2 155.1L413.4 155.1L415.0 157.0L411.8 160.3L408.6 157.0ZM416.9 160.7L420.1 160.7L421.7 162.6L418.5 165.9L415.3 162.6ZM424.8 166.4L428.0 166.4L429.6 168.3L426.4 171.6L423.2 168.3ZM427.1 169.2L430.3 169.2L431.9 171.1L428.7 174.4L425.5 171.1ZM405.1 163.5L408.3 163.5L409.9 165.4L406.7 168.7L403.5 165.4ZM446.2 160.7L449.4 160.7L451.0 162.6L447.8 165.9L444.6 162.6ZM453.0 161.3L456.2 161.3L457.8 163.2L454.6 166.5L451.4 163.2ZM456.9 152.8L460.1 152.8L461.7 154.7L458.5 158.0L455.3 154.7ZM445.1 143.8L448.3 143.8L449.9 145.7L446.7 149.0L443.5 145.7ZM419.2 144.4L422.4 144.4L424.0 146.3L420.8 149.6L417.6 146.3ZM401.2 178.8L404.4 178.8L406.0 180.7L402.8 184.0L399.6 180.7ZM400.0 182.1L403.2 182.1L404.8 184.0L401.6 187.3L398.4 184.0ZM408.5 183.8L411.7 183.8L413.3 185.7L410.1 189.0L406.9 185.7ZM422.0 178.2L425.2 178.2L426.8 180.1L423.6 183.4L420.4 180.1ZM423.1 184.4L426.3 184.4L427.9 186.3L424.7 189.6L421.5 186.3ZM431.6 185.0L434.8 185.0L436.4 186.9L433.2 190.2L430.0 186.9ZM437.8 177.6L441.0 177.6L442.6 179.5L439.4 182.8L436.2 179.5ZM437.2 182.1L440.4 182.1L442.0 184.0L438.8 187.3L435.6 184.0ZM428.2 188.3L431.4 188.3L433.0 190.2L429.8 193.5L426.6 190.2ZM417.5 190.0L420.7 190.0L422.3 191.9L419.1 195.2L415.9 191.9ZM417.5 191.6L420.7 191.6L422.3 193.5L419.1 196.8L415.9 193.5ZM427.6 189.4L430.8 189.4L432.4 191.3L429.2 194.6L426.0 191.3ZM416.4 200.1L419.6 200.1L421.2 202.0L418.0 205.3L414.8 202.0ZM411.9 204.0L415.1 204.0L416.7 205.9L413.5 209.2L410.3 205.9ZM429.3 200.1L432.5 200.1L434.1 202.0L430.9 205.3L427.7 202.0ZM438.3 201.2L441.5 201.2L443.1 203.1L439.9 206.4L436.7 203.1ZM453.6 193.9L456.8 193.9L458.4 195.8L455.2 199.1L452.0 195.8ZM396.1 208.5L399.3 208.5L400.9 210.4L397.7 213.7L394.5 210.4ZM398.9 214.7L402.1 214.7L403.7 216.6L400.5 219.9L397.3 216.6ZM424.8 216.8L428.0 216.8L429.6 218.7L426.4 222.0L423.2 218.7ZM434.1 211.9L437.3 211.9L438.9 213.8L435.7 217.1L432.5 213.8ZM432.7 218.3L435.9 218.3L437.5 220.2L434.3 223.5L431.1 220.2ZM433.6 222.1L436.8 222.1L438.4 224.0L435.2 227.3L432.0 224.0ZM429.3 226.6L432.5 226.6L434.1 228.5L430.9 231.8L427.7 228.5ZM415.2 226.6L418.4 226.6L420.0 228.5L416.8 231.8L413.6 228.5ZM419.4 231.4L422.6 231.4L424.2 233.3L421.0 236.6L417.8 233.3ZM452.4 230.3L455.6 230.3L457.2 232.2L454.0 235.5L450.8 232.2ZM424.8 235.2L428.0 235.2L429.6 237.1L426.4 240.4L423.2 237.1ZM424.7 237.2L427.9 237.2L429.5 239.1L426.3 242.4L423.1 239.1ZM412.5 247.9L415.7 247.9L417.3 249.8L414.1 253.1L410.9 249.8ZM407.7 251.0L410.9 251.0L412.5 252.9L409.3 256.2L406.1 252.9ZM479.2 57.2L482.4 57.2L484.0 59.1L480.8 62.4L477.6 59.1ZM463.4 60.8L466.6 60.8L468.2 62.7L465.0 66.0L461.8 62.7ZM490.5 61.2L493.7 61.2L495.3 63.1L492.1 66.4L488.9 63.1ZM483.9 64.9L487.1 64.9L488.7 66.8L485.5 70.1L482.3 66.8ZM457.8 65.1L461.0 65.1L462.6 67.0L459.4 70.3L456.2 67.0ZM456.7 68.5L459.9 68.5L461.5 70.4L458.3 73.7L455.1 70.4ZM507.4 69.6L510.6 69.6L512.2 71.5L509.0 74.8L505.8 71.5ZM473.3 78.1L476.5 78.1L478.1 80.0L474.9 83.3L471.7 80.0ZM480.1 77.3L483.3 77.3L484.9 79.2L481.7 82.5L478.5 79.2ZM497.8 77.3L501.0 77.3L502.6 79.2L499.4 82.5L496.2 79.2ZM481.2 85.6L484.4 85.6L486.0 87.5L482.8 90.8L479.6 87.5ZM497.8 85.6L501.0 85.6L502.6 87.5L499.4 90.8L496.2 87.5ZM507.4 85.4L510.6 85.4L512.2 87.3L509.0 90.6L505.8 87.3ZM511.3 82.0L514.5 82.0L516.1 83.9L512.9 87.2L509.7 83.9ZM470.7 93.8L473.9 93.8L475.5 95.7L472.3 99.0L469.1 95.7ZM475.8 92.1L479.0 92.1L480.6 94.0L477.4 97.3L474.2 94.0ZM480.9 95.0L484.1 95.0L485.7 96.9L482.5 100.2L479.3 96.9ZM483.7 97.8L486.9 97.8L488.5 99.7L485.3 103.0L482.1 99.7ZM489.3 92.1L492.5 92.1L494.1 94.0L490.9 97.3L487.7 94.0ZM497.8 93.8L501.0 93.8L502.6 95.7L499.4 99.0L496.2 95.7ZM501.7 95.5L504.9 95.5L506.5 97.4L503.3 100.7L500.1 97.4ZM503.4 98.3L506.6 98.3L508.2 100.2L505.0 103.5L501.8 100.2ZM510.2 97.2L513.4 97.2L515.0 99.1L511.8 102.4L508.6 99.1ZM456.7 102.8L459.9 102.8L461.5 104.7L458.3 108.0L455.1 104.7ZM455.5 109.5L458.7 109.5L460.3 111.4L457.1 114.7L453.9 111.4ZM481.4 101.1L484.6 101.1L486.2 103.0L483.0 106.3L479.8 103.0ZM483.7 98.8L486.9 98.8L488.5 100.7L485.3 104.0L482.1 100.7ZM493.8 103.3L497.0 103.3L498.6 105.2L495.4 108.5L492.2 105.2ZM502.9 98.8L506.1 98.8L507.7 100.7L504.5 104.0L501.3 100.7ZM510.2 98.3L513.4 98.3L515.0 100.2L511.8 103.5L508.6 100.2ZM476.9 111.8L480.1 111.8L481.7 113.7L478.5 117.0L475.3 113.7ZM480.9 112.9L484.1 112.9L485.7 114.8L482.5 118.1L479.3 114.8ZM492.7 113.5L495.9 113.5L497.5 115.4L494.3 118.7L491.1 115.4ZM496.1 116.3L499.3 116.3L500.9 118.2L497.7 121.5L494.5 118.2ZM496.1 109.5L499.3 109.5L500.9 111.4L497.7 114.7L494.5 111.4ZM500.6 108.4L503.8 108.4L505.4 110.3L502.2 113.6L499.0 110.3ZM506.2 112.9L509.4 112.9L511.0 114.8L507.8 118.1L504.6 114.8ZM515.2 112.9L518.4 112.9L520.0 114.8L516.8 118.1L513.6 114.8ZM466.8 120.8L470.0 120.8L471.6 122.7L468.4 126.0L465.2 122.7ZM471.9 120.2L475.1 120.2L476.7 122.1L473.5 125.4L470.3 122.1ZM469.6 126.4L472.8 126.4L474.4 128.3L471.2 131.6L468.0 128.3ZM469.6 130.4L472.8 130.4L474.4 132.3L471.2 135.6L468.0 132.3ZM498.3 128.1L501.5 128.1L503.1 130.0L499.9 133.3L496.7 130.0ZM500.6 127.0L503.8 127.0L505.4 128.9L502.2 132.2L499.0 128.9ZM506.2 126.4L509.4 126.4L511.0 128.3L507.8 131.6L504.6 128.3ZM456.7 131.5L459.9 131.5L461.5 133.4L458.3 136.7L455.1 133.4ZM462.3 132.6L465.5 132.6L467.1 134.5L463.9 137.8L460.7 134.5ZM465.1 136.6L468.3 136.6L469.9 138.5L466.7 141.8L463.5 138.5ZM485.9 132.6L489.1 132.6L490.7 134.5L487.5 137.8L484.3 134.5ZM510.2 142.8L513.4 142.8L515.0 144.7L511.8 148.0L508.6 144.7ZM462.3 141.6L465.5 141.6L467.1 143.5L463.9 146.8L460.7 143.5ZM497.2 145.0L500.4 145.0L502.0 146.9L498.8 150.2L495.6 146.9ZM461.2 143.3L464.4 143.3L466.0 145.2L462.8 148.5L459.6 145.2ZM462.9 148.9L466.1 148.9L467.7 150.8L464.5 154.1L461.3 150.8ZM458.9 153.4L462.1 153.4L463.7 155.3L460.5 158.6L457.3 155.3ZM497.2 146.1L500.4 146.1L502.0 148.0L498.8 151.3L495.6 148.0ZM504.0 146.6L507.2 146.6L508.8 148.5L505.6 151.8L502.4 148.5ZM510.7 143.8L513.9 143.8L515.5 145.7L512.3 149.0L509.1 145.7ZM510.7 151.2L513.9 151.2L515.5 153.1L512.3 156.4L509.1 153.1ZM473.6 156.8L476.8 156.8L478.4 158.7L475.2 162.0L472.0 158.7ZM493.8 157.9L497.0 157.9L498.6 159.8L495.4 163.1L492.2 159.8ZM497.2 159.6L500.4 159.6L502.0 161.5L498.8 164.8L495.6 161.5ZM500.6 159.0L503.8 159.0L505.4 160.9L502.2 164.2L499.0 160.9ZM502.9 161.3L506.1 161.3L507.7 163.2L504.5 166.5L501.3 163.2ZM511.9 161.9L515.1 161.9L516.7 163.8L513.5 167.1L510.3 163.8ZM465.1 160.7L468.3 160.7L469.9 162.6L466.7 165.9L463.5 162.6ZM463.4 168.1L466.6 168.1L468.2 170.0L465.0 173.3L461.8 170.0ZM483.9 170.3L487.1 170.3L488.7 172.2L485.5 175.5L482.3 172.2ZM455.0 194.2L458.2 194.2L459.8 196.1L456.6 199.4L453.4 196.1ZM506.2 195.6L509.4 195.6L511.0 197.5L507.8 200.8L504.6 197.5ZM461.2 210.8L464.4 210.8L466.0 212.7L462.8 216.0L459.6 212.7ZM485.9 211.6L489.1 211.6L490.7 213.5L487.5 216.8L484.3 213.5ZM500.8 213.6L504.0 213.6L505.6 215.5L502.4 218.8L499.2 215.5ZM487.1 234.1L490.3 234.1L491.9 236.0L488.7 239.3L485.5 236.0ZM515.2 235.0L518.4 235.0L520.0 236.9L516.8 240.2L513.6 236.9ZM462.4 239.4L465.6 239.4L467.2 241.3L464.0 244.6L460.8 241.3ZM486.9 235.0L490.1 235.0L491.7 236.9L488.5 240.2L485.3 236.9ZM515.0 236.6L518.2 236.6L519.8 238.5L516.6 241.8L513.4 238.5ZM476.3 246.9L479.5 246.9L481.1 248.8L477.9 252.1L474.7 248.8ZM474.4 265.6L477.6 265.6L479.2 267.5L476.0 270.8L472.8 267.5ZM479.9 269.9L483.1 269.9L484.7 271.8L481.5 275.1L478.3 271.8ZM501.5 268.2L504.7 268.2L506.3 270.1L503.1 273.4L499.9 270.1ZM462.1 271.4L465.3 271.4L466.9 273.3L463.7 276.6L460.5 273.3ZM545.7 66.0L548.9 66.0L550.5 67.9L547.3 71.2L544.1 67.9ZM567.9 66.8L571.1 66.8L572.7 68.7L569.5 72.0L566.3 68.7ZM559.2 74.1L562.4 74.1L564.0 76.0L560.8 79.3L557.6 76.0ZM574.7 95.3L577.9 95.3L579.5 97.2L576.3 100.5L573.1 97.2ZM569.6 103.3L572.8 103.3L574.4 105.2L571.2 108.5L568.0 105.2ZM564.2 109.5L567.4 109.5L569.0 111.4L565.8 114.7L562.6 111.4ZM516.1 112.9L519.3 112.9L520.9 114.8L517.7 118.1L514.5 114.8ZM543.5 117.4L546.7 117.4L548.3 119.3L545.1 122.6L541.9 119.3ZM527.4 126.4L530.6 126.4L532.2 128.3L529.0 131.6L525.8 128.3ZM530.2 128.7L533.4 128.7L535.0 130.6L531.8 133.9L528.6 130.6ZM573.6 120.2L576.8 120.2L578.4 122.1L575.2 125.4L572.0 122.1ZM573.0 127.6L576.2 127.6L577.8 129.5L574.6 132.8L571.4 129.5ZM559.5 136.0L562.7 136.0L564.3 137.9L561.1 141.2L557.9 137.9ZM572.4 138.3L575.6 138.3L577.2 140.2L574.0 143.5L570.8 140.2ZM531.9 140.5L535.1 140.5L536.7 142.4L533.5 145.7L530.3 142.4ZM547.1 142.2L550.3 142.2L551.9 144.1L548.7 147.4L545.5 144.1ZM547.1 143.6L550.3 143.6L551.9 145.5L548.7 148.8L545.5 145.5ZM571.3 148.1L574.5 148.1L576.1 150.0L572.9 153.3L569.7 150.0ZM560.4 151.7L563.6 151.7L565.2 153.6L562.0 156.9L558.8 153.6ZM531.1 160.2L534.3 160.2L535.9 162.1L532.7 165.4L529.5 162.1ZM536.9 165.2L540.1 165.2L541.7 167.1L538.5 170.4L535.3 167.1ZM529.6 170.0L532.8 170.0L534.4 171.9L531.2 175.2L528.0 171.9ZM525.7 178.5L528.9 178.5L530.5 180.4L527.3 183.7L524.1 180.4ZM525.1 182.4L528.3 182.4L529.9 184.3L526.7 187.6L523.5 184.3ZM559.2 178.8L562.4 178.8L564.0 180.7L560.8 184.0L557.6 180.7ZM520.6 194.5L523.8 194.5L525.4 196.4L522.2 199.7L519.0 196.4ZM538.3 206.9L541.5 206.9L543.1 208.8L539.9 212.1L536.7 208.8ZM563.4 208.2L566.6 208.2L568.2 210.1L565.0 213.4L561.8 210.1ZM523.2 215.0L526.4 215.0L528.0 216.9L524.8 220.2L521.6 216.9ZM521.7 220.2L524.9 220.2L526.5 222.1L523.3 225.4L520.1 222.1ZM533.0 216.8L536.2 216.8L537.8 218.7L534.6 222.0L531.4 218.7ZM543.5 215.9L546.7 215.9L548.3 217.8L545.1 221.1L541.9 217.8ZM550.2 224.0L553.4 224.0L555.0 225.9L551.8 229.2L548.6 225.9ZM557.0 222.1L560.2 222.1L561.8 224.0L558.6 227.3L555.4 224.0ZM515.5 235.0L518.7 235.0L520.3 236.9L517.1 240.2L513.9 236.9ZM515.7 236.6L518.9 236.6L520.5 238.5L517.3 241.8L514.1 238.5ZM524.7 247.9L527.9 247.9L529.5 249.8L526.3 253.1L523.1 249.8ZM541.2 256.6L544.4 256.6L546.0 258.5L542.8 261.8L539.6 258.5ZM550.3 257.0L553.5 257.0L555.1 258.9L551.9 262.2L548.7 258.9ZM558.0 260.4L561.2 260.4L562.8 262.3L559.6 265.6L556.4 262.3ZM572.7 263.7L575.9 263.7L577.5 265.6L574.3 268.9L571.1 265.6ZM548.2 267.8L551.4 267.8L553.0 269.7L549.8 273.0L546.6 269.7Z"/>
<g fill="#daa520"><circle cx="443.8" cy="53.2" r="3.2"/><circle cx="374.9" cy="58.6" r="3.2"/><circle cx="372.6" cy="68.0" r="3.2"/><circle cx="365.9" cy="84.5" r="3.2"/><circle cx="380.8" cy="82.6" r="3.2"/><circle cx="376.0" cy="93.3" r="3.2"/><circle cx="379.9" cy="97.8" r="3.2"/><circle cx="387.3" cy="93.9" r="3.2"/><circle cx="397.4" cy="95.6" r="3.2"/><circle cx="395.7" cy="101.2" r="3.2"/><circle cx="346.1" cy="108.5" r="3.2"/><circle cx="350.1" cy="111.3" r="3.2"/><circle cx="370.9" cy="111.3" r="3.2"/><circle cx="373.7" cy="107.3" r="3.2"/><circle cx="378.8" cy="108.5" r="3.2"/><circle cx="382.2" cy="113.5" r="3.2"/><circle cx="389.0" cy="106.8" r="3.2"/><circle cx="390.1" cy="113.5" r="3.2"/><circle cx="395.7" cy="102.3" r="3.2"/><circle cx="366.4" cy="124.8" r="3.2"/><circle cx="373.2" cy="127.0" r="3.2"/><circle cx="377.1" cy="124.2" r="3.2"/><circle cx="382.2" cy="123.7" r="3.2"/><circle cx="386.7" cy="120.3" r="3.2"/><circle cx="392.3" cy="118.0" r="3.2"/><circle cx="396.8" cy="116.9" r="3.2"/><circle cx="359.7" cy="134.9" r="3.2"/><circle cx="372.1" cy="136.1" r="3.2"/><circle cx="390.1" cy="131.5" r="3.2"/><circle cx="396.8" cy="127.0" r="3.2"/><circle cx="384.5" cy="139.4" r="3.2"/><circle cx="366.4" cy="142.8" r="3.2"/><circle cx="373.2" cy="144.5" r="3.2"/><circle cx="379.9" cy="145.1" r="3.2"/><circle cx="389.0" cy="143.4" r="3.2"/><circle cx="396.8" cy="137.2" r="3.2"/><circle cx="373.2" cy="147.3" r="3.2"/><circle cx="378.3" cy="148.9" r="3.2"/><circle cx="382.2" cy="149.5" r="3.2"/><circle cx="386.7" cy="150.1" r="3.2"/><circle cx="392.3" cy="150.6" r="3.2"/><circle cx="396.8" cy="150.1" r="3.2"/><circle cx="376.6" cy="154.0" r="3.2"/><circle cx="382.2" cy="155.1" r="3.2"/><circle cx="372.1" cy="161.9" r="3.2"/><circle cx="398.5" cy="163.6" r="3.2"/><circle cx="347.3" cy="169.8" r="3.2"/><circle cx="380.5" cy="169.8" r="3.2"/><circle cx="368.7" cy="176.5" r="3.2"/><circle cx="376.0" cy="176.3" r="3.2"/><circle cx="410.4" cy="71.7" r="3.2"/><circle cx="435.7" cy="75.1" r="3.2"/><circle cx="418.5" cy="83.2" r="3.2"/><circle cx="421.4" cy="84.3" r="3.2"/><circle cx="412.7" cy="87.1" r="3.2"/><circle cx="405.0" cy="88.8" r="3.2"/><circle cx="407.3" cy="93.3" r="3.2"/><circle cx="399.9" cy="94.4" r="3.2"/><circle cx="401.6" cy="100.1" r="3.2"/><circle cx="455.2" cy="92.7" r="3.2"/><circle cx="454.6" cy="100.6" r="3.2"/><circle cx="427.5" cy="101.2" r="3.2"/><circle cx="445.6" cy="102.3" r="3.2"/><circle cx="400.5" cy="104.5" r="3.2"/><circle cx="401.6" cy="107.3" r="3.2"/><circle cx="421.9" cy="106.8" r="3.2"/><circle cx="425.3" cy="104.5" r="3.2"/><circle cx="428.7" cy="102.8" r="3.2"/><circle cx="412.9" cy="112.4" r="3.2"/><circle cx="416.3" cy="114.1" r="3.2"/><circle cx="419.7" cy="116.9" r="3.2"/><circle cx="399.9" cy="113.0" r="3.2"/><circle cx="398.3" cy="116.9" r="3.2"/><circle cx="401.6" cy="122.0" r="3.2"/><circle cx="400.5" cy="127.0" r="3.2"/><circle cx="406.1" cy="132.7" r="3.2"/><circle cx="403.9" cy="138.3" r="3.2"/><circle cx="415.7" cy="140.0" r="3.2"/><circle cx="423.0" cy="124.2" r="3.2"/><circle cx="421.9" cy="127.0" r="3.2"/><circle cx="427.5" cy="126.5" r="3.2"/><circle cx="429.8" cy="119.7" r="3.2"/><circle cx="434.3" cy="116.9" r="3.2"/><circle cx="436.6" cy="110.1" r="3.2"/><circle cx="438.8" cy="116.9" r="3.2"/><circle cx="445.6" cy="105.1" r="3.2"/><circle cx="452.3" cy="110.1" r="3.2"/><circle cx="454.6" cy="101.1" r="3.2"/><circle cx="443.3" cy="120.8" r="3.2"/><circle cx="451.2" cy="120.8" r="3.2"/><circle cx="438.8" cy="128.2" r="3.2"/><circle cx="426.4" cy="134.9" r="3.2"/><circle cx="430.9" cy="137.2" r="3.2"/><circle cx="425.3" cy="140.0" r="3.2"/><circle cx="411.8" cy="145.1" r="3.2"/><circle cx="429.8" cy="145.6" r="3.2"/><circle cx="458.0" cy="141.7" r="3.2"/><circle cx="400.5" cy="150.6" r="3.2"/><circle cx="412.9" cy="146.7" r="3.2"/><circle cx="409.5" cy="152.3" r="3.2"/><circle cx="422.5" cy="152.3" r="3.2"/><circle cx="424.2" cy="152.9" r="3.2"/><circle cx="425.9" cy="146.1" r="3.2"/><circle cx="433.2" cy="148.4" r="3.2"/><circle cx="423.0" cy="160.2" r="3.2"/><circle cx="423.6" cy="161.9" r="3.2"/><circle cx="445.0" cy="152.9" r="3.2"/><circle cx="447.8" cy="152.9" r="3.2"/><circle cx="439.4" cy="157.4" r="3.2"/><circle cx="398.8" cy="163.6" r="3.2"/><circle cx="403.3" cy="172.0" r="3.2"/><circle cx="410.6" cy="170.7" r="3.2"/><circle cx="454.6" cy="169.2" r="3.2"/><circle cx="451.2" cy="177.1" r="3.2"/><circle cx="454.3" cy="258.9" r="3.2"/><circle cx="464.5" cy="86.5" r="3.2"/><circle cx="465.6" cy="88.8" r="3.2"/><circle cx="467.3" cy="91.6" r="3.2"/><circle cx="473.1" cy="87.1" r="3.2"/><circle cx="456.6" cy="92.7" r="3.2"/><circle cx="461.4" cy="123.7" r="3.2"/><circle cx="465.9" cy="129.9" r="3.2"/><circle cx="484.4" cy="138.5" r="3.2"/><circle cx="459.9" cy="141.1" r="3.2"/></g>
<g fill="none" stroke="#ff0000" stroke-width="1.6"><circle cx="443.8" cy="53.2" r="3.3"/><circle cx="374.9" cy="58.6" r="3.3"/><circle cx="372.6" cy="68.0" r="3.3"/><circle cx="365.9" cy="84.5" r="3.3"/><circle cx="380.8" cy="82.6" r="3.3"/><circle cx="376.0" cy="93.3" r="3.3"/><circle cx="379.9" cy="97.8" r="3.3"/><circle cx="387.3" cy="93.9" r="3.3"/><circle cx="397.4" cy="95.6" r="3.3"/><circle cx="395.7" cy="101.2" r="3.3"/><circle cx="346.1" cy="108.5" r="3.3"/><circle cx="350.1" cy="111.3" r="3.3"/><circle cx="370.9" cy="111.3" r="3.3"/><circle cx="373.7" cy="107.3" r="3.3"/><circle cx="378.8" cy="108.5" r="3.3"/><circle cx="382.2" cy="113.5" r="3.3"/><circle cx="389.0" cy="106.8" r="3.3"/><circle cx="390.1" cy="113.5" r="3.3"/><circle cx="395.7" cy="102.3" r="3.3"/><circle cx="366.4" cy="124.8" r="3.3"/><circle cx="373.2" cy="127.0" r="3.3"/><circle cx="377.1" cy="124.2" r="3.3"/><circle cx="382.2" cy="123.7" r="3.3"/><circle cx="386.7" cy="120.3" r="3.3"/><circle cx="392.3" cy="118.0" r="3.3"/><circle cx="396.8" cy="116.9" r="3.3"/><circle cx="359.7" cy="134.9" r="3.3"/><circle cx="372.1" cy="136.1" r="3.3"/><circle cx="390.1" cy="131.5" r="3.3"/><circle cx="396.8" cy="127.0" r="3.3"/><circle cx="384.5" cy="139.4" r="3.3"/><circle cx="366.4" cy="142.8" r="3.3"/><circle cx="373.2" cy="144.5" r="3.3"/><circle cx="379.9" cy="145.1" r="3.3"/><circle cx="389.0" cy="143.4" r="3.3"/><circle cx="396.8" cy="137.2" r="3.3"/><circle cx="373.2" cy="147.3" r="3.3"/><circle cx="378.3" cy="148.9" r="3.3"/><circle cx="382.2" cy="149.5" r="3.3"/><circle cx="386.7" cy="150.1" r="3.3"/><circle cx="392.3" cy="150.6" r="3.3"/><circle cx="396.8" cy="150.1" r="3.3"/><circle cx="376.6" cy="154.0" r="3.3"/><circle cx="382.2" cy="155.1" r="3.3"/><circle cx="372.1" cy="161.9" r="3.3"/><circle cx="398.5" cy="163.6" r="3.3"/><circle cx="347.3" cy="169.8" r="3.3"/><circle cx="380.5" cy="169.8" r="3.3"/><circle cx="368.7" cy="176.5" r="3.3"/><circle cx="376.0" cy="176.3" r="3.3"/><circle cx="410.4" cy="71.7" r="3.3"/><circle cx="435.7" cy="75.1" r="3.3"/><circle cx="418.5" cy="83.2" r="3.3"/><circle cx="421.4" cy="84.3" r="3.3"/><circle cx="412.7" cy="87.1" r="3.3"/><circle cx="405.0" cy="88.8" r="3.3"/><circle cx="407.3" cy="93.3" r="3.3"/><circle cx="399.9" cy="94.4" r="3.3"/><circle cx="401.6" cy="100.1" r="3.3"/><circle cx="455.2" cy="92.7" r="3.3"/><circle cx="454.6" cy="100.6" r="3.3"/><circle cx="427.5" cy="101.2" r="3.3"/><circle cx="445.6" cy="102.3" r="3.3"/><circle cx="400.5" cy="104.5" r="3.3"/><circle cx="401.6" cy="107.3" r="3.3"/><circle cx="421.9" cy="106.8" r="3.3"/><circle cx="425.3" cy="104.5" r="3.3"/><circle cx="428.7" cy="102.8" r="3.3"/><circle cx="412.9" cy="112.4" r="3.3"/><circle cx="416.3" cy="114.1" r="3.3"/><circle cx="419.7" cy="116.9" r="3.3"/><circle cx="399.9" cy="113.0" r="3.3"/><circle cx="398.3" cy="116.9" r="3.3"/><circle cx="401.6" cy="122.0" r="3.3"/><circle cx="400.5" cy="127.0" r="3.3"/><circle cx="406.1" cy="132.7" r="3.3"/><circle cx="403.9" cy="138.3" r="3.3"/><circle cx="415.7" cy="140.0" r="3.3"/><circle cx="423.0" cy="124.2" r="3.3"/><circle cx="421.9" cy="127.0" r="3.3"/><circle cx="427.5" cy="126.5" r="3.3"/><circle cx="429.8" cy="119.7" r="3.3"/><circle cx="434.3" cy="116.9" r="3.3"/><circle cx="436.6" cy="110.1" r="3.3"/><circle cx="438.8" cy="116.9" r="3.3"/><circle cx="445.6" cy="105.1" r="3.3"/><circle cx="452.3" cy="110.1" r="3.3"/><circle cx="454.6" cy="101.1" r="3.3"/><circle cx="443.3" cy="120.8" r="3.3"/><circle cx="451.2" cy="120.8" r="3.3"/><circle cx="438.8" cy="128.2" r="3.3"/><circle cx="426.4" cy="134.9" r="3.3"/><circle cx="430.9" cy="137.2" r="3.3"/><circle cx="425.3" cy="140.0" r="3.3"/><circle cx="411.8" cy="145.1" r="3.3"/><circle cx="429.8" cy="145.6" r="3.3"/><circle cx="458.0" cy="141.7" r="3.3"/><circle cx="400.5" cy="150.6" r="3.3"/><circle cx="412.9" cy="146.7" r="3.3"/><circle cx="409.5" cy="152.3" r="3.3"/><circle cx="422.5" cy="152.3" r="3.3"/><circle cx="424.2" cy="152.9" r="3.3"/><circle cx="425.9" cy="146.1" r="3.3"/><circle cx="433.2" cy="148.4" r="3.3"/><circle cx="423.0" cy="160.2" r="3.3"/><circle cx="423.6" cy="161.9" r="3.3"/><circle cx="445.0" cy="152.9" r="3.3"/><circle cx="447.8" cy="152.9" r="3.3"/><circle cx="439.4" cy="157.4" r="3.3"/><circle cx="398.8" cy="163.6" r="3.3"/><circle cx="403.3" cy="172.0" r="3.3"/><circle cx="410.6" cy="170.7" r="3.3"/><circle cx="454.6" cy="169.2" r="3.3"/><circle cx="451.2" cy="177.1" r="3.3"/><circle cx="454.3" cy="258.9" r="3.3"/><circle cx="464.5" cy="86.5" r="3.3"/><circle cx="465.6" cy="88.8" r="3.3"/><circle cx="467.3" cy="91.6" r="3.3"/><circle cx="473.1" cy="87.1" r="3.3"/><circle cx="456.6" cy="92.7" r="3.3"/><circle cx="461.4" cy="123.7" r="3.3"/><circle cx="465.9" cy="129.9" r="3.3"/><circle cx="484.4" cy="138.5" r="3.3"/><circle cx="459.9" cy="141.1" r="3.3"/><circle cx="346.6" cy="42.0" r="3.3"/><circle cx="397.4" cy="58.2" r="3.3"/><circle cx="360.2" cy="84.1" r="3.3"/><circle cx="359.7" cy="92.7" r="3.3"/><circle cx="388.4" cy="87.5" r="3.3"/><circle cx="383.3" cy="92.2" r="3.3"/><circle cx="349.5" cy="99.5" r="3.3"/><circle cx="358.0" cy="101.8" r="3.3"/><circle cx="364.2" cy="98.9" r="3.3"/><circle cx="374.9" cy="101.2" r="3.3"/><circle cx="349.5" cy="100.6" r="3.3"/><circle cx="357.4" cy="102.8" r="3.3"/><circle cx="365.9" cy="104.5" r="3.3"/><circle cx="374.9" cy="101.7" r="3.3"/><circle cx="362.5" cy="113.0" r="3.3"/><circle cx="361.4" cy="118.6" r="3.3"/><circle cx="374.3" cy="118.6" r="3.3"/><circle cx="351.2" cy="124.2" r="3.3"/><circle cx="369.8" cy="130.4" r="3.3"/><circle cx="347.3" cy="131.5" r="3.3"/><circle cx="376.6" cy="132.7" r="3.3"/><circle cx="361.9" cy="144.5" r="3.3"/><circle cx="343.9" cy="147.3" r="3.3"/><circle cx="344.1" cy="149.5" r="3.3"/><circle cx="352.3" cy="152.3" r="3.3"/><circle cx="351.2" cy="156.8" r="3.3"/><circle cx="363.0" cy="146.1" r="3.3"/><circle cx="370.9" cy="156.3" r="3.3"/><circle cx="365.9" cy="161.9" r="3.3"/><circle cx="356.8" cy="167.0" r="3.3"/><circle cx="395.7" cy="175.4" r="3.3"/><circle cx="368.7" cy="182.2" r="3.3"/><circle cx="389.5" cy="179.9" r="3.3"/><circle cx="380.5" cy="199.2" r="3.3"/><circle cx="361.7" cy="235.1" r="3.3"/><circle cx="356.0" cy="270.1" r="3.3"/><circle cx="407.8" cy="98.4" r="3.3"/><circle cx="414.6" cy="153.5" r="3.3"/><circle cx="396.6" cy="175.4" r="3.3"/></g>
<path d="M45.7 380.0 L213.7 379.7 L222.3 379.3 L233.5 377.7 L242.4 374.8 L248.0 361.4 L253.6 350.3 L259.2 338.0 L264.7 327.9 L270.3 316.8 L274.8 310.1 L282.6 303.4 L291.5 299.4 L296.0 297.5" fill="none" stroke="#00ff00" stroke-width="1.6" stroke-linejoin="round"/>
<path d="M45.7 380.0 L180.0 379.8 L191.3 378.2 L200.0 375.9 L203.3 372.6 L210.0 365.9 L216.7 354.7 L224.6 338.0 L233.5 320.1 L239.1 305.6 L243.5 296.7 L296.0 296.7" fill="none" stroke="#0000ff" stroke-width="1.6" stroke-linejoin="round"/>
<path d="M45.7 379.7 L59.3 379.7 L75.0 377.9 L90.7 376.4 L91.4 374.6 L99.3 373.6 L105.0 371.1 L122.0 368.9 L125.0 366.9 L132.0 363.1 L137.9 361.4 L140.0 359.2 L146.7 353.6 L153.4 345.8 L162.3 335.8 L171.3 329.7 L180.2 324.6 L183.5 323.5 L186.9 316.8 L192.5 306.7 L198.0 300.0 L203.6 296.7 L296.0 296.7" fill="none" stroke="#e0a020" stroke-width="1.6" stroke-linejoin="round"/>
<path d="M45.7 379.7 L59.0 379.7 L75.0 378.8 L90.7 377.9 L97.0 375.7 L105.0 373.6 L122.0 372.4 L126.4 370.0 L136.4 367.9 L140.0 365.9 L146.7 361.0 L155.6 352.5 L164.5 345.8 L173.5 339.1 L181.3 335.8 L185.8 325.7 L191.3 314.6 L195.8 306.7 L200.3 303.4 L204.0 296.7 L296.0 296.7" fill="none" stroke="#ff0000" stroke-width="1.6" stroke-linejoin="round"/>
<path d="M336.5 379.7 L340.0 379.6 L361.1 378.5 L373.8 376.4 L386.5 373.6 L399.2 370.7 L411.9 366.9 L424.6 364.3 L435.0 362.9 L449.8 358.7 L462.5 355.1 L470.9 351.3 L479.4 347.5 L487.9 342.9 L496.3 338.2 L504.8 332.3 L509.0 329.1 L519.6 323.8 L525.2 322.9 L530.3 319.7 L535.5 316.7 L541.9 316.5 L547.1 312.6 L553.5 309.4 L558.7 305.5 L563.9 302.9 L569.0 300.3 L574.2 298.4 L578.7 296.6" fill="none" stroke="#00ff00" stroke-width="1.6" stroke-linejoin="round"/>
<path d="M336.5 379.7 L340.0 379.6 L356.9 377.5 L369.6 374.3 L382.3 370.1 L390.7 366.9 L403.4 358.4 L411.9 356.3 L424.6 351.0 L435.0 342.9 L441.3 339.7 L449.8 335.5 L456.1 333.3 L466.7 327.0 L477.3 323.4 L487.9 319.6 L498.4 316.4 L504.8 312.2 L515.3 309.5 L520.0 308.7 L527.7 306.8 L535.5 304.8 L545.8 303.3 L553.5 302.3 L561.3 300.3 L569.0 299.0 L576.8 297.1 L578.7 296.6" fill="none" stroke="#0000ff" stroke-width="1.6" stroke-linejoin="round"/>
<path d="M336.5 379.7 L340.0 379.6 L352.7 377.0 L363.3 374.9 L371.7 373.2 L375.9 366.9 L382.3 357.4 L390.7 351.0 L397.1 346.8 L401.3 338.3 L409.8 332.0 L420.3 326.7 L424.6 319.3 L433.0 314.0 L435.0 313.3 L443.5 309.0 L454.0 303.7 L458.3 300.6 L466.7 298.0 L477.3 296.8" fill="none" stroke="#e0a020" stroke-width="1.6" stroke-linejoin="round"/>
<path d="M336.5 379.7 L340.0 379.6 L346.3 377.5 L352.7 374.9 L361.1 371.1 L369.6 364.8 L375.9 358.4 L382.3 350.0 L390.7 339.4 L397.1 336.2 L403.4 326.7 L411.9 321.4 L420.3 317.2 L424.6 313.0 L433.0 308.7 L435.0 305.9 L443.5 302.7 L456.1 299.5 L466.7 297.4 L477.3 296.8 L578.7 296.6" fill="none" stroke="#ff0000" stroke-width="1.6" stroke-linejoin="round"/>
<path d="M689.6 0.7 L687.8 8.8 L678.1 31.7 L673.7 47.6 L666.0 72.0 L663.2 84.1 L658.8 96.4 L654.4 107.0 L650.0 117.6 L646.4 126.4 L642.9 135.2 L640.0 142.0 L637.9 147.0 L634.4 157.6 L630.0 168.2 L625.6 180.5 L622.1 189.3 L618.5 198.1 L615.9 207.0 L614.5 213.0 L610.7 225.4 L605.9 238.8 L602.0 248.5 L599.2 260.0 L595.3 273.5 L591.5 283.1 L590.6 288.0" fill="none" stroke="#00ff00" stroke-width="1.4" stroke-linejoin="round"/>
<path d="M689.6 0.7 L687.0 14.1 L684.3 22.9 L682.6 47.6 L679.9 56.4 L674.6 70.0 L671.1 80.6 L666.7 91.1 L661.4 103.5 L655.2 113.2 L648.2 120.2 L641.1 128.1 L635.9 135.2 L631.0 142.0 L627.3 148.8 L622.1 159.4 L615.9 171.7 L613.2 180.5 L610.6 187.6 L608.0 201.7 L606.0 210.0 L603.0 221.5 L597.2 240.8 L594.3 256.2 L591.5 271.5 L590.6 288.0" fill="none" stroke="#0000ff" stroke-width="1.4" stroke-linejoin="round"/>
<path d="M689.6 0.7 L689.6 51.0 L688.0 60.0 L686.6 75.0 L685.5 83.2 L682.6 86.7 L679.0 90.3 L676.4 94.7 L672.9 101.7 L667.6 106.1 L658.8 112.3 L651.7 116.7 L644.7 122.0 L637.6 127.3 L630.6 133.4 L623.7 139.5 L618.4 143.5 L612.2 148.8 L606.1 153.2 L602.6 158.5 L599.0 164.7 L596.4 170.0 L592.9 178.8 L592.0 185.8 L591.4 215.0 L590.6 288.0" fill="none" stroke="#e0a020" stroke-width="1.4" stroke-linejoin="round"/>
<path d="M689.6 0.7 L689.6 51.0 L688.0 60.0 L686.6 75.0 L685.5 83.2 L682.6 86.7 L679.0 90.3 L676.4 94.7 L672.9 101.7 L667.6 106.1 L658.8 112.3 L651.7 116.7 L644.7 122.0 L637.6 127.3 L630.6 133.4 L624.7 139.5 L619.4 143.5 L613.2 148.8 L607.1 153.2 L603.6 158.5 L600.0 164.7 L597.4 170.0 L593.9 178.8 L593.0 185.8 L592.4 215.0 L590.6 288.0" fill="none" stroke="#ff0000" stroke-width="1.4" stroke-linejoin="round"/>
<line x1="45.70" y1="144.48" x2="296.10" y2="144.48" stroke="#606060" stroke-width="1.2" stroke-dasharray="3.5,2.5"/>
<line x1="336.50" y1="144.48" x2="578.70" y2="144.48" stroke="#606060" stroke-width="1.2" stroke-dasharray="3.5,2.5"/>
<rect x="65.3" y="208.4" width="52.9" height="63.8" fill="#fff" stroke="#222" stroke-width="1.1"/>
<circle cx="72" cy="218.5" r="3.05" fill="none" stroke="#f00" stroke-width="1.5"/>
<rect x="76.3" y="231.5" width="4.8" height="4.8" fill="#daa520"/>
<path fill="#00f" d="M70.5 246.4L73.5 246.4L75 248.3L72 251.3L69 248.3Z"/>
<path fill="#0f0" d="M70.7 261.2L73.3 261.2L75.1 265.6L68.9 265.6Z"/>
<text x="87.0" y="223.2" font-size="9.4" fill="#f00" stroke="#f00" stroke-width="0.12">UF1</text>
<text x="93.4" y="237.6" style="font-family:'Liberation Serif',serif;font-style:italic;font-size:8.6px" fill="#daa520" stroke="#daa520" stroke-width="0.2">UF0</text>
<text x="87.0" y="252.8" font-size="9.4" fill="#00f" stroke="#00f" stroke-width="0.12">UF2</text>
<text x="87.0" y="267.6" font-size="9.4" fill="#0f0" stroke="#0f0" stroke-width="0.12">UF3</text>
<rect x="45.70" y="0.46" width="250.40" height="287.84" fill="none" stroke="#333333" stroke-width="1.2"/>
<rect x="336.50" y="0.46" width="242.20" height="287.84" fill="none" stroke="#333333" stroke-width="1.2"/>
<rect x="578.70" y="0.46" width="121.10" height="287.84" fill="none" stroke="#333333" stroke-width="1.2"/>
<rect x="45.70" y="288.30" width="250.40" height="95.70" fill="none" stroke="#333333" stroke-width="1.2"/>
<rect x="336.50" y="288.30" width="242.20" height="95.70" fill="none" stroke="#333333" stroke-width="1.2"/>
<line x1="45.70" y1="288.30" x2="51.70" y2="288.30" stroke="#333333" stroke-width="1.0"/>
<line x1="296.10" y1="288.30" x2="290.10" y2="288.30" stroke="#333333" stroke-width="1.0"/>
<line x1="45.70" y1="280.31" x2="48.70" y2="280.31" stroke="#333333" stroke-width="1.0"/>
<line x1="296.10" y1="280.31" x2="293.10" y2="280.31" stroke="#333333" stroke-width="1.0"/>
<line x1="45.70" y1="272.32" x2="48.70" y2="272.32" stroke="#333333" stroke-width="1.0"/>
<line x1="296.10" y1="272.32" x2="293.10" y2="272.32" stroke="#333333" stroke-width="1.0"/>
<line x1="45.70" y1="264.33" x2="48.70" y2="264.33" stroke="#333333" stroke-width="1.0"/>
<line x1="296.10" y1="264.33" x2="293.10" y2="264.33" stroke="#333333" stroke-width="1.0"/>
<line x1="45.70" y1="256.34" x2="51.70" y2="256.34" stroke="#333333" stroke-width="1.0"/>
<line x1="296.10" y1="256.34" x2="290.10" y2="256.34" stroke="#333333" stroke-width="1.0"/>
<line x1="45.70" y1="248.35" x2="48.70" y2="248.35" stroke="#333333" stroke-width="1.0"/>
<line x1="296.10" y1="248.35" x2="293.10" y2="248.35" stroke="#333333" stroke-width="1.0"/>
<line x1="45.70" y1="240.36" x2="48.70" y2="240.36" stroke="#333333" stroke-width="1.0"/>
<line x1="296.10" y1="240.36" x2="293.10" y2="240.36" stroke="#333333" stroke-width="1.0"/>
<line x1="45.70" y1="232.37" x2="48.70" y2="232.37" stroke="#333333" stroke-width="1.0"/>
<line x1="296.10" y1="232.37" x2="293.10" y2="232.37" stroke="#333333" stroke-width="1.0"/>
<line x1="45.70" y1="224.38" x2="51.70" y2="224.38" stroke="#333333" stroke-width="1.0"/>
<line x1="296.10" y1="224.38" x2="290.10" y2="224.38" stroke="#333333" stroke-width="1.0"/>
<line x1="45.70" y1="216.39" x2="48.70" y2="216.39" stroke="#333333" stroke-width="1.0"/>
<line x1="296.10" y1="216.39" x2="293.10" y2="216.39" stroke="#333333" stroke-width="1.0"/>
<line x1="45.70" y1="208.40" x2="48.70" y2="208.40" stroke="#333333" stroke-width="1.0"/>
<line x1="296.10" y1="208.40" x2="293.10" y2="208.40" stroke="#333333" stroke-width="1.0"/>
<line x1="45.70" y1="200.41" x2="48.70" y2="200.41" stroke="#333333" stroke-width="1.0"/>
<line x1="296.10" y1="200.41" x2="293.10" y2="200.41" stroke="#333333" stroke-width="1.0"/>
<line x1="45.70" y1="192.42" x2="51.70" y2="192.42" stroke="#333333" stroke-width="1.0"/>
<line x1="296.10" y1="192.42" x2="290.10" y2="192.42" stroke="#333333" stroke-width="1.0"/>
<line x1="45.70" y1="184.43" x2="48.70" y2="184.43" stroke="#333333" stroke-width="1.0"/>
<line x1="296.10" y1="184.43" x2="293.10" y2="184.43" stroke="#333333" stroke-width="1.0"/>
<line x1="45.70" y1="176.44" x2="48.70" y2="176.44" stroke="#333333" stroke-width="1.0"/>
<line x1="296.10" y1="176.44" x2="293.10" y2="176.44" stroke="#333333" stroke-width="1.0"/>
<line x1="45.70" y1="168.45" x2="48.70" y2="168.45" stroke="#333333" stroke-width="1.0"/>
<line x1="296.10" y1="168.45" x2="293.10" y2="168.45" stroke="#333333" stroke-width="1.0"/>
<line x1="45.70" y1="160.46" x2="51.70" y2="160.46" stroke="#333333" stroke-width="1.0"/>
<line x1="296.10" y1="160.46" x2="290.10" y2="160.46" stroke="#333333" stroke-width="1.0"/>
<line x1="45.70" y1="152.47" x2="48.70" y2="152.47" stroke="#333333" stroke-width="1.0"/>
<line x1="296.10" y1="152.47" x2="293.10" y2="152.47" stroke="#333333" stroke-width="1.0"/>
<line x1="45.70" y1="144.48" x2="48.70" y2="144.48" stroke="#333333" stroke-width="1.0"/>
<line x1="296.10" y1="144.48" x2="293.10" y2="144.48" stroke="#333333" stroke-width="1.0"/>
<line x1="45.70" y1="136.49" x2="48.70" y2="136.49" stroke="#333333" stroke-width="1.0"/>
<line x1="296.10" y1="136.49" x2="293.10" y2="136.49" stroke="#333333" stroke-width="1.0"/>
<line x1="45.70" y1="128.50" x2="51.70" y2="128.50" stroke="#333333" stroke-width="1.0"/>
<line x1="296.10" y1="128.50" x2="290.10" y2="128.50" stroke="#333333" stroke-width="1.0"/>
<line x1="45.70" y1="120.51" x2="48.70" y2="120.51" stroke="#333333" stroke-width="1.0"/>
<line x1="296.10" y1="120.51" x2="293.10" y2="120.51" stroke="#333333" stroke-width="1.0"/>
<line x1="45.70" y1="112.52" x2="48.70" y2="112.52" stroke="#333333" stroke-width="1.0"/>
<line x1="296.10" y1="112.52" x2="293.10" y2="112.52" stroke="#333333" stroke-width="1.0"/>
<line x1="45.70" y1="104.53" x2="48.70" y2="104.53" stroke="#333333" stroke-width="1.0"/>
<line x1="296.10" y1="104.53" x2="293.10" y2="104.53" stroke="#333333" stroke-width="1.0"/>
<line x1="45.70" y1="96.54" x2="51.70" y2="96.54" stroke="#333333" stroke-width="1.0"/>
<line x1="296.10" y1="96.54" x2="290.10" y2="96.54" stroke="#333333" stroke-width="1.0"/>
<line x1="45.70" y1="88.55" x2="48.70" y2="88.55" stroke="#333333" stroke-width="1.0"/>
<line x1="296.10" y1="88.55" x2="293.10" y2="88.55" stroke="#333333" stroke-width="1.0"/>
<line x1="45.70" y1="80.56" x2="48.70" y2="80.56" stroke="#333333" stroke-width="1.0"/>
<line x1="296.10" y1="80.56" x2="293.10" y2="80.56" stroke="#333333" stroke-width="1.0"/>
<line x1="45.70" y1="72.57" x2="48.70" y2="72.57" stroke="#333333" stroke-width="1.0"/>
<line x1="296.10" y1="72.57" x2="293.10" y2="72.57" stroke="#333333" stroke-width="1.0"/>
<line x1="45.70" y1="64.58" x2="51.70" y2="64.58" stroke="#333333" stroke-width="1.0"/>
<line x1="296.10" y1="64.58" x2="290.10" y2="64.58" stroke="#333333" stroke-width="1.0"/>
<line x1="45.70" y1="56.59" x2="48.70" y2="56.59" stroke="#333333" stroke-width="1.0"/>
<line x1="296.10" y1="56.59" x2="293.10" y2="56.59" stroke="#333333" stroke-width="1.0"/>
<line x1="45.70" y1="48.60" x2="48.70" y2="48.60" stroke="#333333" stroke-width="1.0"/>
<line x1="296.10" y1="48.60" x2="293.10" y2="48.60" stroke="#333333" stroke-width="1.0"/>
<line x1="45.70" y1="40.61" x2="48.70" y2="40.61" stroke="#333333" stroke-width="1.0"/>
<line x1="296.10" y1="40.61" x2="293.10" y2="40.61" stroke="#333333" stroke-width="1.0"/>
<line x1="45.70" y1="32.62" x2="51.70" y2="32.62" stroke="#333333" stroke-width="1.0"/>
<line x1="296.10" y1="32.62" x2="290.10" y2="32.62" stroke="#333333" stroke-width="1.0"/>
<line x1="45.70" y1="24.63" x2="48.70" y2="24.63" stroke="#333333" stroke-width="1.0"/>
<line x1="296.10" y1="24.63" x2="293.10" y2="24.63" stroke="#333333" stroke-width="1.0"/>
<line x1="45.70" y1="16.64" x2="48.70" y2="16.64" stroke="#333333" stroke-width="1.0"/>
<line x1="296.10" y1="16.64" x2="293.10" y2="16.64" stroke="#333333" stroke-width="1.0"/>
<line x1="45.70" y1="8.65" x2="48.70" y2="8.65" stroke="#333333" stroke-width="1.0"/>
<line x1="296.10" y1="8.65" x2="293.10" y2="8.65" stroke="#333333" stroke-width="1.0"/>
<line x1="45.70" y1="0.66" x2="51.70" y2="0.66" stroke="#333333" stroke-width="1.0"/>
<line x1="296.10" y1="0.66" x2="290.10" y2="0.66" stroke="#333333" stroke-width="1.0"/>
<line x1="336.50" y1="288.30" x2="342.50" y2="288.30" stroke="#333333" stroke-width="1.0"/>
<line x1="578.70" y1="288.30" x2="572.70" y2="288.30" stroke="#333333" stroke-width="1.0"/>
<line x1="336.50" y1="280.31" x2="339.50" y2="280.31" stroke="#333333" stroke-width="1.0"/>
<line x1="578.70" y1="280.31" x2="575.70" y2="280.31" stroke="#333333" stroke-width="1.0"/>
<line x1="336.50" y1="272.32" x2="339.50" y2="272.32" stroke="#333333" stroke-width="1.0"/>
<line x1="578.70" y1="272.32" x2="575.70" y2="272.32" stroke="#333333" stroke-width="1.0"/>
<line x1="336.50" y1="264.33" x2="339.50" y2="264.33" stroke="#333333" stroke-width="1.0"/>
<line x1="578.70" y1="264.33" x2="575.70" y2="264.33" stroke="#333333" stroke-width="1.0"/>
<line x1="336.50" y1="256.34" x2="342.50" y2="256.34" stroke="#333333" stroke-width="1.0"/>
<line x1="578.70" y1="256.34" x2="572.70" y2="256.34" stroke="#333333" stroke-width="1.0"/>
<line x1="336.50" y1="248.35" x2="339.50" y2="248.35" stroke="#333333" stroke-width="1.0"/>
<line x1="578.70" y1="248.35" x2="575.70" y2="248.35" stroke="#333333" stroke-width="1.0"/>
<line x1="336.50" y1="240.36" x2="339.50" y2="240.36" stroke="#333333" stroke-width="1.0"/>
<line x1="578.70" y1="240.36" x2="575.70" y2="240.36" stroke="#333333" stroke-width="1.0"/>
<line x1="336.50" y1="232.37" x2="339.50" y2="232.37" stroke="#333333" stroke-width="1.0"/>
<line x1="578.70" y1="232.37" x2="575.70" y2="232.37" stroke="#333333" stroke-width="1.0"/>
<line x1="336.50" y1="224.38" x2="342.50" y2="224.38" stroke="#333333" stroke-width="1.0"/>
<line x1="578.70" y1="224.38" x2="572.70" y2="224.38" stroke="#333333" stroke-width="1.0"/>
<line x1="336.50" y1="216.39" x2="339.50" y2="216.39" stroke="#333333" stroke-width="1.0"/>
<line x1="578.70" y1="216.39" x2="575.70" y2="216.39" stroke="#333333" stroke-width="1.0"/>
<line x1="336.50" y1="208.40" x2="339.50" y2="208.40" stroke="#333333" stroke-width="1.0"/>
<line x1="578.70" y1="208.40" x2="575.70" y2="208.40" stroke="#333333" stroke-width="1.0"/>
<line x1="336.50" y1="200.41" x2="339.50" y2="200.41" stroke="#333333" stroke-width="1.0"/>
<line x1="578.70" y1="200.41" x2="575.70" y2="200.41" stroke="#333333" stroke-width="1.0"/>
<line x1="336.50" y1="192.42" x2="342.50" y2="192.42" stroke="#333333" stroke-width="1.0"/>
<line x1="578.70" y1="192.42" x2="572.70" y2="192.42" stroke="#333333" stroke-width="1.0"/>
<line x1="336.50" y1="184.43" x2="339.50" y2="184.43" stroke="#333333" stroke-width="1.0"/>
<line x1="578.70" y1="184.43" x2="575.70" y2="184.43" stroke="#333333" stroke-width="1.0"/>
<line x1="336.50" y1="176.44" x2="339.50" y2="176.44" stroke="#333333" stroke-width="1.0"/>
<line x1="578.70" y1="176.44" x2="575.70" y2="176.44" stroke="#333333" stroke-width="1.0"/>
<line x1="336.50" y1="168.45" x2="339.50" y2="168.45" stroke="#333333" stroke-width="1.0"/>
<line x1="578.70" y1="168.45" x2="575.70" y2="168.45" stroke="#333333" stroke-width="1.0"/>
<line x1="336.50" y1="160.46" x2="342.50" y2="160.46" stroke="#333333" stroke-width="1.0"/>
<line x1="578.70" y1="160.46" x2="572.70" y2="160.46" stroke="#333333" stroke-width="1.0"/>
<line x1="336.50" y1="152.47" x2="339.50" y2="152.47" stroke="#333333" stroke-width="1.0"/>
<line x1="578.70" y1="152.47" x2="575.70" y2="152.47" stroke="#333333" stroke-width="1.0"/>
<line x1="336.50" y1="144.48" x2="339.50" y2="144.48" stroke="#333333" stroke-width="1.0"/>
<line x1="578.70" y1="144.48" x2="575.70" y2="144.48" stroke="#333333" stroke-width="1.0"/>
<line x1="336.50" y1="136.49" x2="339.50" y2="136.49" stroke="#333333" stroke-width="1.0"/>
<line x1="578.70" y1="136.49" x2="575.70" y2="136.49" stroke="#333333" stroke-width="1.0"/>
<line x1="336.50" y1="128.50" x2="342.50" y2="128.50" stroke="#333333" stroke-width="1.0"/>
<line x1="578.70" y1="128.50" x2="572.70" y2="128.50" stroke="#333333" stroke-width="1.0"/>
<line x1="336.50" y1="120.51" x2="339.50" y2="120.51" stroke="#333333" stroke-width="1.0"/>
<line x1="578.70" y1="120.51" x2="575.70" y2="120.51" stroke="#333333" stroke-width="1.0"/>
<line x1="336.50" y1="112.52" x2="339.50" y2="112.52" stroke="#333333" stroke-width="1.0"/>
<line x1="578.70" y1="112.52" x2="575.70" y2="112.52" stroke="#333333" stroke-width="1.0"/>
<line x1="336.50" y1="104.53" x2="339.50" y2="104.53" stroke="#333333" stroke-width="1.0"/>
<line x1="578.70" y1="104.53" x2="575.70" y2="104.53" stroke="#333333" stroke-width="1.0"/>
<line x1="336.50" y1="96.54" x2="342.50" y2="96.54" stroke="#333333" stroke-width="1.0"/>
<line x1="578.70" y1="96.54" x2="572.70" y2="96.54" stroke="#333333" stroke-width="1.0"/>
<line x1="336.50" y1="88.55" x2="339.50" y2="88.55" stroke="#333333" stroke-width="1.0"/>
<line x1="578.70" y1="88.55" x2="575.70" y2="88.55" stroke="#333333" stroke-width="1.0"/>
<line x1="336.50" y1="80.56" x2="339.50" y2="80.56" stroke="#333333" stroke-width="1.0"/>
<line x1="578.70" y1="80.56" x2="575.70" y2="80.56" stroke="#333333" stroke-width="1.0"/>
<line x1="336.50" y1="72.57" x2="339.50" y2="72.57" stroke="#333333" stroke-width="1.0"/>
<line x1="578.70" y1="72.57" x2="575.70" y2="72.57" stroke="#333333" stroke-width="1.0"/>
<line x1="336.50" y1="64.58" x2="342.50" y2="64.58" stroke="#333333" stroke-width="1.0"/>
<line x1="578.70" y1="64.58" x2="572.70" y2="64.58" stroke="#333333" stroke-width="1.0"/>
<line x1="336.50" y1="56.59" x2="339.50" y2="56.59" stroke="#333333" stroke-width="1.0"/>
<line x1="578.70" y1="56.59" x2="575.70" y2="56.59" stroke="#333333" stroke-width="1.0"/>
<line x1="336.50" y1="48.60" x2="339.50" y2="48.60" stroke="#333333" stroke-width="1.0"/>
<line x1="578.70" y1="48.60" x2="575.70" y2="48.60" stroke="#333333" stroke-width="1.0"/>
<line x1="336.50" y1="40.61" x2="339.50" y2="40.61" stroke="#333333" stroke-width="1.0"/>
<line x1="578.70" y1="40.61" x2="575.70" y2="40.61" stroke="#333333" stroke-width="1.0"/>
<line x1="336.50" y1="32.62" x2="342.50" y2="32.62" stroke="#333333" stroke-width="1.0"/>
<line x1="578.70" y1="32.62" x2="572.70" y2="32.62" stroke="#333333" stroke-width="1.0"/>
<line x1="336.50" y1="24.63" x2="339.50" y2="24.63" stroke="#333333" stroke-width="1.0"/>
<line x1="578.70" y1="24.63" x2="575.70" y2="24.63" stroke="#333333" stroke-width="1.0"/>
<line x1="336.50" y1="16.64" x2="339.50" y2="16.64" stroke="#333333" stroke-width="1.0"/>
<line x1="578.70" y1="16.64" x2="575.70" y2="16.64" stroke="#333333" stroke-width="1.0"/>
<line x1="336.50" y1="8.65" x2="339.50" y2="8.65" stroke="#333333" stroke-width="1.0"/>
<line x1="578.70" y1="8.65" x2="575.70" y2="8.65" stroke="#333333" stroke-width="1.0"/>
<line x1="336.50" y1="0.66" x2="342.50" y2="0.66" stroke="#333333" stroke-width="1.0"/>
<line x1="578.70" y1="0.66" x2="572.70" y2="0.66" stroke="#333333" stroke-width="1.0"/>
<line x1="578.70" y1="288.30" x2="584.70" y2="288.30" stroke="#333333" stroke-width="1.0"/>
<line x1="699.50" y1="288.30" x2="693.50" y2="288.30" stroke="#333333" stroke-width="1.0"/>
<line x1="578.70" y1="280.31" x2="581.70" y2="280.31" stroke="#333333" stroke-width="1.0"/>
<line x1="699.50" y1="280.31" x2="696.50" y2="280.31" stroke="#333333" stroke-width="1.0"/>
<line x1="578.70" y1="272.32" x2="581.70" y2="272.32" stroke="#333333" stroke-width="1.0"/>
<line x1="699.50" y1="272.32" x2="696.50" y2="272.32" stroke="#333333" stroke-width="1.0"/>
<line x1="578.70" y1="264.33" x2="581.70" y2="264.33" stroke="#333333" stroke-width="1.0"/>
<line x1="699.50" y1="264.33" x2="696.50" y2="264.33" stroke="#333333" stroke-width="1.0"/>
<line x1="578.70" y1="256.34" x2="584.70" y2="256.34" stroke="#333333" stroke-width="1.0"/>
<line x1="699.50" y1="256.34" x2="693.50" y2="256.34" stroke="#333333" stroke-width="1.0"/>
<line x1="578.70" y1="248.35" x2="581.70" y2="248.35" stroke="#333333" stroke-width="1.0"/>
<line x1="699.50" y1="248.35" x2="696.50" y2="248.35" stroke="#333333" stroke-width="1.0"/>
<line x1="578.70" y1="240.36" x2="581.70" y2="240.36" stroke="#333333" stroke-width="1.0"/>
<line x1="699.50" y1="240.36" x2="696.50" y2="240.36" stroke="#333333" stroke-width="1.0"/>
<line x1="578.70" y1="232.37" x2="581.70" y2="232.37" stroke="#333333" stroke-width="1.0"/>
<line x1="699.50" y1="232.37" x2="696.50" y2="232.37" stroke="#333333" stroke-width="1.0"/>
<line x1="578.70" y1="224.38" x2="584.70" y2="224.38" stroke="#333333" stroke-width="1.0"/>
<line x1="699.50" y1="224.38" x2="693.50" y2="224.38" stroke="#333333" stroke-width="1.0"/>
<line x1="578.70" y1="216.39" x2="581.70" y2="216.39" stroke="#333333" stroke-width="1.0"/>
<line x1="699.50" y1="216.39" x2="696.50" y2="216.39" stroke="#333333" stroke-width="1.0"/>
<line x1="578.70" y1="208.40" x2="581.70" y2="208.40" stroke="#333333" stroke-width="1.0"/>
<line x1="699.50" y1="208.40" x2="696.50" y2="208.40" stroke="#333333" stroke-width="1.0"/>
<line x1="578.70" y1="200.41" x2="581.70" y2="200.41" stroke="#333333" stroke-width="1.0"/>
<line x1="699.50" y1="200.41" x2="696.50" y2="200.41" stroke="#333333" stroke-width="1.0"/>
<line x1="578.70" y1="192.42" x2="584.70" y2="192.42" stroke="#333333" stroke-width="1.0"/>
<line x1="699.50" y1="192.42" x2="693.50" y2="192.42" stroke="#333333" stroke-width="1.0"/>
<line x1="578.70" y1="184.43" x2="581.70" y2="184.43" stroke="#333333" stroke-width="1.0"/>
<line x1="699.50" y1="184.43" x2="696.50" y2="184.43" stroke="#333333" stroke-width="1.0"/>
<line x1="578.70" y1="176.44" x2="581.70" y2="176.44" stroke="#333333" stroke-width="1.0"/>
<line x1="699.50" y1="176.44" x2="696.50" y2="176.44" stroke="#333333" stroke-width="1.0"/>
<line x1="578.70" y1="168.45" x2="581.70" y2="168.45" stroke="#333333" stroke-width="1.0"/>
<line x1="699.50" y1="168.45" x2="696.50" y2="168.45" stroke="#333333" stroke-width="1.0"/>
<line x1="578.70" y1="160.46" x2="584.70" y2="160.46" stroke="#333333" stroke-width="1.0"/>
<line x1="699.50" y1="160.46" x2="693.50" y2="160.46" stroke="#333333" stroke-width="1.0"/>
<line x1="578.70" y1="152.47" x2="581.70" y2="152.47" stroke="#333333" stroke-width="1.0"/>
<line x1="699.50" y1="152.47" x2="696.50" y2="152.47" stroke="#333333" stroke-width="1.0"/>
<line x1="578.70" y1="144.48" x2="581.70" y2="144.48" stroke="#333333" stroke-width="1.0"/>
<line x1="699.50" y1="144.48" x2="696.50" y2="144.48" stroke="#333333" stroke-width="1.0"/>
<line x1="578.70" y1="136.49" x2="581.70" y2="136.49" stroke="#333333" stroke-width="1.0"/>
<line x1="699.50" y1="136.49" x2="696.50" y2="136.49" stroke="#333333" stroke-width="1.0"/>
<line x1="578.70" y1="128.50" x2="584.70" y2="128.50" stroke="#333333" stroke-width="1.0"/>
<line x1="699.50" y1="128.50" x2="693.50" y2="128.50" stroke="#333333" stroke-width="1.0"/>
<line x1="578.70" y1="120.51" x2="581.70" y2="120.51" stroke="#333333" stroke-width="1.0"/>
<line x1="699.50" y1="120.51" x2="696.50" y2="120.51" stroke="#333333" stroke-width="1.0"/>
<line x1="578.70" y1="112.52" x2="581.70" y2="112.52" stroke="#333333" stroke-width="1.0"/>
<line x1="699.50" y1="112.52" x2="696.50" y2="112.52" stroke="#333333" stroke-width="1.0"/>
<line x1="578.70" y1="104.53" x2="581.70" y2="104.53" stroke="#333333" stroke-width="1.0"/>
<line x1="699.50" y1="104.53" x2="696.50" y2="104.53" stroke="#333333" stroke-width="1.0"/>
<line x1="578.70" y1="96.54" x2="584.70" y2="96.54" stroke="#333333" stroke-width="1.0"/>
<line x1="699.50" y1="96.54" x2="693.50" y2="96.54" stroke="#333333" stroke-width="1.0"/>
<line x1="578.70" y1="88.55" x2="581.70" y2="88.55" stroke="#333333" stroke-width="1.0"/>
<line x1="699.50" y1="88.55" x2="696.50" y2="88.55" stroke="#333333" stroke-width="1.0"/>
<line x1="578.70" y1="80.56" x2="581.70" y2="80.56" stroke="#333333" stroke-width="1.0"/>
<line x1="699.50" y1="80.56" x2="696.50" y2="80.56" stroke="#333333" stroke-width="1.0"/>
<line x1="578.70" y1="72.57" x2="581.70" y2="72.57" stroke="#333333" stroke-width="1.0"/>
<line x1="699.50" y1="72.57" x2="696.50" y2="72.57" stroke="#333333" stroke-width="1.0"/>
<line x1="578.70" y1="64.58" x2="584.70" y2="64.58" stroke="#333333" stroke-width="1.0"/>
<line x1="699.50" y1="64.58" x2="693.50" y2="64.58" stroke="#333333" stroke-width="1.0"/>
<line x1="578.70" y1="56.59" x2="581.70" y2="56.59" stroke="#333333" stroke-width="1.0"/>
<line x1="699.50" y1="56.59" x2="696.50" y2="56.59" stroke="#333333" stroke-width="1.0"/>
<line x1="578.70" y1="48.60" x2="581.70" y2="48.60" stroke="#333333" stroke-width="1.0"/>
<line x1="699.50" y1="48.60" x2="696.50" y2="48.60" stroke="#333333" stroke-width="1.0"/>
<line x1="578.70" y1="40.61" x2="581.70" y2="40.61" stroke="#333333" stroke-width="1.0"/>
<line x1="699.50" y1="40.61" x2="696.50" y2="40.61" stroke="#333333" stroke-width="1.0"/>
<line x1="578.70" y1="32.62" x2="584.70" y2="32.62" stroke="#333333" stroke-width="1.0"/>
<line x1="699.50" y1="32.62" x2="693.50" y2="32.62" stroke="#333333" stroke-width="1.0"/>
<line x1="578.70" y1="24.63" x2="581.70" y2="24.63" stroke="#333333" stroke-width="1.0"/>
<line x1="699.50" y1="24.63" x2="696.50" y2="24.63" stroke="#333333" stroke-width="1.0"/>
<line x1="578.70" y1="16.64" x2="581.70" y2="16.64" stroke="#333333" stroke-width="1.0"/>
<line x1="699.50" y1="16.64" x2="696.50" y2="16.64" stroke="#333333" stroke-width="1.0"/>
<line x1="578.70" y1="8.65" x2="581.70" y2="8.65" stroke="#333333" stroke-width="1.0"/>
<line x1="699.50" y1="8.65" x2="696.50" y2="8.65" stroke="#333333" stroke-width="1.0"/>
<line x1="578.70" y1="0.66" x2="584.70" y2="0.66" stroke="#333333" stroke-width="1.0"/>
<line x1="699.50" y1="0.66" x2="693.50" y2="0.66" stroke="#333333" stroke-width="1.0"/>
<line x1="45.70" y1="384.00" x2="48.70" y2="384.00" stroke="#333333" stroke-width="1.0"/>
<line x1="296.10" y1="384.00" x2="293.10" y2="384.00" stroke="#333333" stroke-width="1.0"/>
<line x1="45.70" y1="379.84" x2="51.70" y2="379.84" stroke="#333333" stroke-width="1.0"/>
<line x1="296.10" y1="379.84" x2="290.10" y2="379.84" stroke="#333333" stroke-width="1.0"/>
<line x1="45.70" y1="375.68" x2="48.70" y2="375.68" stroke="#333333" stroke-width="1.0"/>
<line x1="296.10" y1="375.68" x2="293.10" y2="375.68" stroke="#333333" stroke-width="1.0"/>
<line x1="45.70" y1="371.52" x2="48.70" y2="371.52" stroke="#333333" stroke-width="1.0"/>
<line x1="296.10" y1="371.52" x2="293.10" y2="371.52" stroke="#333333" stroke-width="1.0"/>
<line x1="45.70" y1="367.36" x2="48.70" y2="367.36" stroke="#333333" stroke-width="1.0"/>
<line x1="296.10" y1="367.36" x2="293.10" y2="367.36" stroke="#333333" stroke-width="1.0"/>
<line x1="45.70" y1="363.20" x2="48.70" y2="363.20" stroke="#333333" stroke-width="1.0"/>
<line x1="296.10" y1="363.20" x2="293.10" y2="363.20" stroke="#333333" stroke-width="1.0"/>
<line x1="45.70" y1="359.03" x2="51.70" y2="359.03" stroke="#333333" stroke-width="1.0"/>
<line x1="296.10" y1="359.03" x2="290.10" y2="359.03" stroke="#333333" stroke-width="1.0"/>
<line x1="45.70" y1="354.87" x2="48.70" y2="354.87" stroke="#333333" stroke-width="1.0"/>
<line x1="296.10" y1="354.87" x2="293.10" y2="354.87" stroke="#333333" stroke-width="1.0"/>
<line x1="45.70" y1="350.71" x2="48.70" y2="350.71" stroke="#333333" stroke-width="1.0"/>
<line x1="296.10" y1="350.71" x2="293.10" y2="350.71" stroke="#333333" stroke-width="1.0"/>
<line x1="45.70" y1="346.55" x2="48.70" y2="346.55" stroke="#333333" stroke-width="1.0"/>
<line x1="296.10" y1="346.55" x2="293.10" y2="346.55" stroke="#333333" stroke-width="1.0"/>
<line x1="45.70" y1="342.39" x2="48.70" y2="342.39" stroke="#333333" stroke-width="1.0"/>
<line x1="296.10" y1="342.39" x2="293.10" y2="342.39" stroke="#333333" stroke-width="1.0"/>
<line x1="45.70" y1="338.23" x2="51.70" y2="338.23" stroke="#333333" stroke-width="1.0"/>
<line x1="296.10" y1="338.23" x2="290.10" y2="338.23" stroke="#333333" stroke-width="1.0"/>
<line x1="45.70" y1="334.07" x2="48.70" y2="334.07" stroke="#333333" stroke-width="1.0"/>
<line x1="296.10" y1="334.07" x2="293.10" y2="334.07" stroke="#333333" stroke-width="1.0"/>
<line x1="45.70" y1="329.91" x2="48.70" y2="329.91" stroke="#333333" stroke-width="1.0"/>
<line x1="296.10" y1="329.91" x2="293.10" y2="329.91" stroke="#333333" stroke-width="1.0"/>
<line x1="45.70" y1="325.75" x2="48.70" y2="325.75" stroke="#333333" stroke-width="1.0"/>
<line x1="296.10" y1="325.75" x2="293.10" y2="325.75" stroke="#333333" stroke-width="1.0"/>
<line x1="45.70" y1="321.59" x2="48.70" y2="321.59" stroke="#333333" stroke-width="1.0"/>
<line x1="296.10" y1="321.59" x2="293.10" y2="321.59" stroke="#333333" stroke-width="1.0"/>
<line x1="45.70" y1="317.43" x2="51.70" y2="317.43" stroke="#333333" stroke-width="1.0"/>
<line x1="296.10" y1="317.43" x2="290.10" y2="317.43" stroke="#333333" stroke-width="1.0"/>
<line x1="45.70" y1="313.27" x2="48.70" y2="313.27" stroke="#333333" stroke-width="1.0"/>
<line x1="296.10" y1="313.27" x2="293.10" y2="313.27" stroke="#333333" stroke-width="1.0"/>
<line x1="45.70" y1="309.10" x2="48.70" y2="309.10" stroke="#333333" stroke-width="1.0"/>
<line x1="296.10" y1="309.10" x2="293.10" y2="309.10" stroke="#333333" stroke-width="1.0"/>
<line x1="45.70" y1="304.94" x2="48.70" y2="304.94" stroke="#333333" stroke-width="1.0"/>
<line x1="296.10" y1="304.94" x2="293.10" y2="304.94" stroke="#333333" stroke-width="1.0"/>
<line x1="45.70" y1="300.78" x2="48.70" y2="300.78" stroke="#333333" stroke-width="1.0"/>
<line x1="296.10" y1="300.78" x2="293.10" y2="300.78" stroke="#333333" stroke-width="1.0"/>
<line x1="45.70" y1="296.62" x2="51.70" y2="296.62" stroke="#333333" stroke-width="1.0"/>
<line x1="296.10" y1="296.62" x2="290.10" y2="296.62" stroke="#333333" stroke-width="1.0"/>
<line x1="45.70" y1="292.46" x2="48.70" y2="292.46" stroke="#333333" stroke-width="1.0"/>
<line x1="296.10" y1="292.46" x2="293.10" y2="292.46" stroke="#333333" stroke-width="1.0"/>
<line x1="45.70" y1="288.30" x2="48.70" y2="288.30" stroke="#333333" stroke-width="1.0"/>
<line x1="296.10" y1="288.30" x2="293.10" y2="288.30" stroke="#333333" stroke-width="1.0"/>
<line x1="336.50" y1="384.00" x2="339.50" y2="384.00" stroke="#333333" stroke-width="1.0"/>
<line x1="578.70" y1="384.00" x2="575.70" y2="384.00" stroke="#333333" stroke-width="1.0"/>
<line x1="336.50" y1="379.84" x2="342.50" y2="379.84" stroke="#333333" stroke-width="1.0"/>
<line x1="578.70" y1="379.84" x2="572.70" y2="379.84" stroke="#333333" stroke-width="1.0"/>
<line x1="336.50" y1="375.68" x2="339.50" y2="375.68" stroke="#333333" stroke-width="1.0"/>
<line x1="578.70" y1="375.68" x2="575.70" y2="375.68" stroke="#333333" stroke-width="1.0"/>
<line x1="336.50" y1="371.52" x2="339.50" y2="371.52" stroke="#333333" stroke-width="1.0"/>
<line x1="578.70" y1="371.52" x2="575.70" y2="371.52" stroke="#333333" stroke-width="1.0"/>
<line x1="336.50" y1="367.36" x2="339.50" y2="367.36" stroke="#333333" stroke-width="1.0"/>
<line x1="578.70" y1="367.36" x2="575.70" y2="367.36" stroke="#333333" stroke-width="1.0"/>
<line x1="336.50" y1="363.20" x2="339.50" y2="363.20" stroke="#333333" stroke-width="1.0"/>
<line x1="578.70" y1="363.20" x2="575.70" y2="363.20" stroke="#333333" stroke-width="1.0"/>
<line x1="336.50" y1="359.03" x2="342.50" y2="359.03" stroke="#333333" stroke-width="1.0"/>
<line x1="578.70" y1="359.03" x2="572.70" y2="359.03" stroke="#333333" stroke-width="1.0"/>
<line x1="336.50" y1="354.87" x2="339.50" y2="354.87" stroke="#333333" stroke-width="1.0"/>
<line x1="578.70" y1="354.87" x2="575.70" y2="354.87" stroke="#333333" stroke-width="1.0"/>
<line x1="336.50" y1="350.71" x2="339.50" y2="350.71" stroke="#333333" stroke-width="1.0"/>
<line x1="578.70" y1="350.71" x2="575.70" y2="350.71" stroke="#333333" stroke-width="1.0"/>
<line x1="336.50" y1="346.55" x2="339.50" y2="346.55" stroke="#333333" stroke-width="1.0"/>
<line x1="578.70" y1="346.55" x2="575.70" y2="346.55" stroke="#333333" stroke-width="1.0"/>
<line x1="336.50" y1="342.39" x2="339.50" y2="342.39" stroke="#333333" stroke-width="1.0"/>
<line x1="578.70" y1="342.39" x2="575.70" y2="342.39" stroke="#333333" stroke-width="1.0"/>
<line x1="336.50" y1="338.23" x2="342.50" y2="338.23" stroke="#333333" stroke-width="1.0"/>
<line x1="578.70" y1="338.23" x2="572.70" y2="338.23" stroke="#333333" stroke-width="1.0"/>
<line x1="336.50" y1="334.07" x2="339.50" y2="334.07" stroke="#333333" stroke-width="1.0"/>
<line x1="578.70" y1="334.07" x2="575.70" y2="334.07" stroke="#333333" stroke-width="1.0"/>
<line x1="336.50" y1="329.91" x2="339.50" y2="329.91" stroke="#333333" stroke-width="1.0"/>
<line x1="578.70" y1="329.91" x2="575.70" y2="329.91" stroke="#333333" stroke-width="1.0"/>
<line x1="336.50" y1="325.75" x2="339.50" y2="325.75" stroke="#333333" stroke-width="1.0"/>
<line x1="578.70" y1="325.75" x2="575.70" y2="325.75" stroke="#333333" stroke-width="1.0"/>
<line x1="336.50" y1="321.59" x2="339.50" y2="321.59" stroke="#333333" stroke-width="1.0"/>
<line x1="578.70" y1="321.59" x2="575.70" y2="321.59" stroke="#333333" stroke-width="1.0"/>
<line x1="336.50" y1="317.43" x2="342.50" y2="317.43" stroke="#333333" stroke-width="1.0"/>
<line x1="578.70" y1="317.43" x2="572.70" y2="317.43" stroke="#333333" stroke-width="1.0"/>
<line x1="336.50" y1="313.27" x2="339.50" y2="313.27" stroke="#333333" stroke-width="1.0"/>
<line x1="578.70" y1="313.27" x2="575.70" y2="313.27" stroke="#333333" stroke-width="1.0"/>
<line x1="336.50" y1="309.10" x2="339.50" y2="309.10" stroke="#333333" stroke-width="1.0"/>
<line x1="578.70" y1="309.10" x2="575.70" y2="309.10" stroke="#333333" stroke-width="1.0"/>
<line x1="336.50" y1="304.94" x2="339.50" y2="304.94" stroke="#333333" stroke-width="1.0"/>
<line x1="578.70" y1="304.94" x2="575.70" y2="304.94" stroke="#333333" stroke-width="1.0"/>
<line x1="336.50" y1="300.78" x2="339.50" y2="300.78" stroke="#333333" stroke-width="1.0"/>
<line x1="578.70" y1="300.78" x2="575.70" y2="300.78" stroke="#333333" stroke-width="1.0"/>
<line x1="336.50" y1="296.62" x2="342.50" y2="296.62" stroke="#333333" stroke-width="1.0"/>
<line x1="578.70" y1="296.62" x2="572.70" y2="296.62" stroke="#333333" stroke-width="1.0"/>
<line x1="336.50" y1="292.46" x2="339.50" y2="292.46" stroke="#333333" stroke-width="1.0"/>
<line x1="578.70" y1="292.46" x2="575.70" y2="292.46" stroke="#333333" stroke-width="1.0"/>
<line x1="336.50" y1="288.30" x2="339.50" y2="288.30" stroke="#333333" stroke-width="1.0"/>
<line x1="578.70" y1="288.30" x2="575.70" y2="288.30" stroke="#333333" stroke-width="1.0"/>
<line x1="45.70" y1="288.30" x2="45.70" y2="285.30" stroke="#333333" stroke-width="1.0"/>
<line x1="45.70" y1="0.66" x2="45.70" y2="3.66" stroke="#333333" stroke-width="1.0"/>
<line x1="58.88" y1="288.30" x2="58.88" y2="285.30" stroke="#333333" stroke-width="1.0"/>
<line x1="58.88" y1="0.66" x2="58.88" y2="3.66" stroke="#333333" stroke-width="1.0"/>
<line x1="72.06" y1="288.30" x2="72.06" y2="285.30" stroke="#333333" stroke-width="1.0"/>
<line x1="72.06" y1="0.66" x2="72.06" y2="3.66" stroke="#333333" stroke-width="1.0"/>
<line x1="85.24" y1="288.30" x2="85.24" y2="282.30" stroke="#333333" stroke-width="1.0"/>
<line x1="85.24" y1="0.66" x2="85.24" y2="6.66" stroke="#333333" stroke-width="1.0"/>
<line x1="98.42" y1="288.30" x2="98.42" y2="285.30" stroke="#333333" stroke-width="1.0"/>
<line x1="98.42" y1="0.66" x2="98.42" y2="3.66" stroke="#333333" stroke-width="1.0"/>
<line x1="111.59" y1="288.30" x2="111.59" y2="285.30" stroke="#333333" stroke-width="1.0"/>
<line x1="111.59" y1="0.66" x2="111.59" y2="3.66" stroke="#333333" stroke-width="1.0"/>
<line x1="124.77" y1="288.30" x2="124.77" y2="285.30" stroke="#333333" stroke-width="1.0"/>
<line x1="124.77" y1="0.66" x2="124.77" y2="3.66" stroke="#333333" stroke-width="1.0"/>
<line x1="137.95" y1="288.30" x2="137.95" y2="282.30" stroke="#333333" stroke-width="1.0"/>
<line x1="137.95" y1="0.66" x2="137.95" y2="6.66" stroke="#333333" stroke-width="1.0"/>
<line x1="151.13" y1="288.30" x2="151.13" y2="285.30" stroke="#333333" stroke-width="1.0"/>
<line x1="151.13" y1="0.66" x2="151.13" y2="3.66" stroke="#333333" stroke-width="1.0"/>
<line x1="164.31" y1="288.30" x2="164.31" y2="285.30" stroke="#333333" stroke-width="1.0"/>
<line x1="164.31" y1="0.66" x2="164.31" y2="3.66" stroke="#333333" stroke-width="1.0"/>
<line x1="177.49" y1="288.30" x2="177.49" y2="285.30" stroke="#333333" stroke-width="1.0"/>
<line x1="177.49" y1="0.66" x2="177.49" y2="3.66" stroke="#333333" stroke-width="1.0"/>
<line x1="190.67" y1="288.30" x2="190.67" y2="282.30" stroke="#333333" stroke-width="1.0"/>
<line x1="190.67" y1="0.66" x2="190.67" y2="6.66" stroke="#333333" stroke-width="1.0"/>
<line x1="203.85" y1="288.30" x2="203.85" y2="285.30" stroke="#333333" stroke-width="1.0"/>
<line x1="203.85" y1="0.66" x2="203.85" y2="3.66" stroke="#333333" stroke-width="1.0"/>
<line x1="217.03" y1="288.30" x2="217.03" y2="285.30" stroke="#333333" stroke-width="1.0"/>
<line x1="217.03" y1="0.66" x2="217.03" y2="3.66" stroke="#333333" stroke-width="1.0"/>
<line x1="230.21" y1="288.30" x2="230.21" y2="285.30" stroke="#333333" stroke-width="1.0"/>
<line x1="230.21" y1="0.66" x2="230.21" y2="3.66" stroke="#333333" stroke-width="1.0"/>
<line x1="243.38" y1="288.30" x2="243.38" y2="282.30" stroke="#333333" stroke-width="1.0"/>
<line x1="243.38" y1="0.66" x2="243.38" y2="6.66" stroke="#333333" stroke-width="1.0"/>
<line x1="256.56" y1="288.30" x2="256.56" y2="285.30" stroke="#333333" stroke-width="1.0"/>
<line x1="256.56" y1="0.66" x2="256.56" y2="3.66" stroke="#333333" stroke-width="1.0"/>
<line x1="269.74" y1="288.30" x2="269.74" y2="285.30" stroke="#333333" stroke-width="1.0"/>
<line x1="269.74" y1="0.66" x2="269.74" y2="3.66" stroke="#333333" stroke-width="1.0"/>
<line x1="282.92" y1="288.30" x2="282.92" y2="285.30" stroke="#333333" stroke-width="1.0"/>
<line x1="282.92" y1="0.66" x2="282.92" y2="3.66" stroke="#333333" stroke-width="1.0"/>
<line x1="296.10" y1="288.30" x2="296.10" y2="282.30" stroke="#333333" stroke-width="1.0"/>
<line x1="296.10" y1="0.66" x2="296.10" y2="6.66" stroke="#333333" stroke-width="1.0"/>
<line x1="45.70" y1="384.00" x2="45.70" y2="381.00" stroke="#333333" stroke-width="1.0"/>
<line x1="45.70" y1="288.30" x2="45.70" y2="291.30" stroke="#333333" stroke-width="1.0"/>
<line x1="58.88" y1="384.00" x2="58.88" y2="381.00" stroke="#333333" stroke-width="1.0"/>
<line x1="58.88" y1="288.30" x2="58.88" y2="291.30" stroke="#333333" stroke-width="1.0"/>
<line x1="72.06" y1="384.00" x2="72.06" y2="381.00" stroke="#333333" stroke-width="1.0"/>
<line x1="72.06" y1="288.30" x2="72.06" y2="291.30" stroke="#333333" stroke-width="1.0"/>
<line x1="85.24" y1="384.00" x2="85.24" y2="378.00" stroke="#333333" stroke-width="1.0"/>
<line x1="85.24" y1="288.30" x2="85.24" y2="294.30" stroke="#333333" stroke-width="1.0"/>
<line x1="98.42" y1="384.00" x2="98.42" y2="381.00" stroke="#333333" stroke-width="1.0"/>
<line x1="98.42" y1="288.30" x2="98.42" y2="291.30" stroke="#333333" stroke-width="1.0"/>
<line x1="111.59" y1="384.00" x2="111.59" y2="381.00" stroke="#333333" stroke-width="1.0"/>
<line x1="111.59" y1="288.30" x2="111.59" y2="291.30" stroke="#333333" stroke-width="1.0"/>
<line x1="124.77" y1="384.00" x2="124.77" y2="381.00" stroke="#333333" stroke-width="1.0"/>
<line x1="124.77" y1="288.30" x2="124.77" y2="291.30" stroke="#333333" stroke-width="1.0"/>
<line x1="137.95" y1="384.00" x2="137.95" y2="378.00" stroke="#333333" stroke-width="1.0"/>
<line x1="137.95" y1="288.30" x2="137.95" y2="294.30" stroke="#333333" stroke-width="1.0"/>
<line x1="151.13" y1="384.00" x2="151.13" y2="381.00" stroke="#333333" stroke-width="1.0"/>
<line x1="151.13" y1="288.30" x2="151.13" y2="291.30" stroke="#333333" stroke-width="1.0"/>
<line x1="164.31" y1="384.00" x2="164.31" y2="381.00" stroke="#333333" stroke-width="1.0"/>
<line x1="164.31" y1="288.30" x2="164.31" y2="291.30" stroke="#333333" stroke-width="1.0"/>
<line x1="177.49" y1="384.00" x2="177.49" y2="381.00" stroke="#333333" stroke-width="1.0"/>
<line x1="177.49" y1="288.30" x2="177.49" y2="291.30" stroke="#333333" stroke-width="1.0"/>
<line x1="190.67" y1="384.00" x2="190.67" y2="378.00" stroke="#333333" stroke-width="1.0"/>
<line x1="190.67" y1="288.30" x2="190.67" y2="294.30" stroke="#333333" stroke-width="1.0"/>
<line x1="203.85" y1="384.00" x2="203.85" y2="381.00" stroke="#333333" stroke-width="1.0"/>
<line x1="203.85" y1="288.30" x2="203.85" y2="291.30" stroke="#333333" stroke-width="1.0"/>
<line x1="217.03" y1="384.00" x2="217.03" y2="381.00" stroke="#333333" stroke-width="1.0"/>
<line x1="217.03" y1="288.30" x2="217.03" y2="291.30" stroke="#333333" stroke-width="1.0"/>
<line x1="230.21" y1="384.00" x2="230.21" y2="381.00" stroke="#333333" stroke-width="1.0"/>
<line x1="230.21" y1="288.30" x2="230.21" y2="291.30" stroke="#333333" stroke-width="1.0"/>
<line x1="243.38" y1="384.00" x2="243.38" y2="378.00" stroke="#333333" stroke-width="1.0"/>
<line x1="243.38" y1="288.30" x2="243.38" y2="294.30" stroke="#333333" stroke-width="1.0"/>
<line x1="256.56" y1="384.00" x2="256.56" y2="381.00" stroke="#333333" stroke-width="1.0"/>
<line x1="256.56" y1="288.30" x2="256.56" y2="291.30" stroke="#333333" stroke-width="1.0"/>
<line x1="269.74" y1="384.00" x2="269.74" y2="381.00" stroke="#333333" stroke-width="1.0"/>
<line x1="269.74" y1="288.30" x2="269.74" y2="291.30" stroke="#333333" stroke-width="1.0"/>
<line x1="282.92" y1="384.00" x2="282.92" y2="381.00" stroke="#333333" stroke-width="1.0"/>
<line x1="282.92" y1="288.30" x2="282.92" y2="291.30" stroke="#333333" stroke-width="1.0"/>
<line x1="296.10" y1="384.00" x2="296.10" y2="378.00" stroke="#333333" stroke-width="1.0"/>
<line x1="296.10" y1="288.30" x2="296.10" y2="294.30" stroke="#333333" stroke-width="1.0"/>
<line x1="336.50" y1="288.30" x2="336.50" y2="282.30" stroke="#333333" stroke-width="1.0"/>
<line x1="336.50" y1="0.66" x2="336.50" y2="6.66" stroke="#333333" stroke-width="1.0"/>
<line x1="348.61" y1="288.30" x2="348.61" y2="285.30" stroke="#333333" stroke-width="1.0"/>
<line x1="348.61" y1="0.66" x2="348.61" y2="3.66" stroke="#333333" stroke-width="1.0"/>
<line x1="360.72" y1="288.30" x2="360.72" y2="285.30" stroke="#333333" stroke-width="1.0"/>
<line x1="360.72" y1="0.66" x2="360.72" y2="3.66" stroke="#333333" stroke-width="1.0"/>
<line x1="372.83" y1="288.30" x2="372.83" y2="285.30" stroke="#333333" stroke-width="1.0"/>
<line x1="372.83" y1="0.66" x2="372.83" y2="3.66" stroke="#333333" stroke-width="1.0"/>
<line x1="384.94" y1="288.30" x2="384.94" y2="282.30" stroke="#333333" stroke-width="1.0"/>
<line x1="384.94" y1="0.66" x2="384.94" y2="6.66" stroke="#333333" stroke-width="1.0"/>
<line x1="397.05" y1="288.30" x2="397.05" y2="285.30" stroke="#333333" stroke-width="1.0"/>
<line x1="397.05" y1="0.66" x2="397.05" y2="3.66" stroke="#333333" stroke-width="1.0"/>
<line x1="409.16" y1="288.30" x2="409.16" y2="285.30" stroke="#333333" stroke-width="1.0"/>
<line x1="409.16" y1="0.66" x2="409.16" y2="3.66" stroke="#333333" stroke-width="1.0"/>
<line x1="421.27" y1="288.30" x2="421.27" y2="285.30" stroke="#333333" stroke-width="1.0"/>
<line x1="421.27" y1="0.66" x2="421.27" y2="3.66" stroke="#333333" stroke-width="1.0"/>
<line x1="433.38" y1="288.30" x2="433.38" y2="282.30" stroke="#333333" stroke-width="1.0"/>
<line x1="433.38" y1="0.66" x2="433.38" y2="6.66" stroke="#333333" stroke-width="1.0"/>
<line x1="445.49" y1="288.30" x2="445.49" y2="285.30" stroke="#333333" stroke-width="1.0"/>
<line x1="445.49" y1="0.66" x2="445.49" y2="3.66" stroke="#333333" stroke-width="1.0"/>
<line x1="457.60" y1="288.30" x2="457.60" y2="285.30" stroke="#333333" stroke-width="1.0"/>
<line x1="457.60" y1="0.66" x2="457.60" y2="3.66" stroke="#333333" stroke-width="1.0"/>
<line x1="469.71" y1="288.30" x2="469.71" y2="285.30" stroke="#333333" stroke-width="1.0"/>
<line x1="469.71" y1="0.66" x2="469.71" y2="3.66" stroke="#333333" stroke-width="1.0"/>
<line x1="481.82" y1="288.30" x2="481.82" y2="282.30" stroke="#333333" stroke-width="1.0"/>
<line x1="481.82" y1="0.66" x2="481.82" y2="6.66" stroke="#333333" stroke-width="1.0"/>
<line x1="493.93" y1="288.30" x2="493.93" y2="285.30" stroke="#333333" stroke-width="1.0"/>
<line x1="493.93" y1="0.66" x2="493.93" y2="3.66" stroke="#333333" stroke-width="1.0"/>
<line x1="506.04" y1="288.30" x2="506.04" y2="285.30" stroke="#333333" stroke-width="1.0"/>
<line x1="506.04" y1="0.66" x2="506.04" y2="3.66" stroke="#333333" stroke-width="1.0"/>
<line x1="518.15" y1="288.30" x2="518.15" y2="285.30" stroke="#333333" stroke-width="1.0"/>
<line x1="518.15" y1="0.66" x2="518.15" y2="3.66" stroke="#333333" stroke-width="1.0"/>
<line x1="530.26" y1="288.30" x2="530.26" y2="282.30" stroke="#333333" stroke-width="1.0"/>
<line x1="530.26" y1="0.66" x2="530.26" y2="6.66" stroke="#333333" stroke-width="1.0"/>
<line x1="542.37" y1="288.30" x2="542.37" y2="285.30" stroke="#333333" stroke-width="1.0"/>
<line x1="542.37" y1="0.66" x2="542.37" y2="3.66" stroke="#333333" stroke-width="1.0"/>
<line x1="554.48" y1="288.30" x2="554.48" y2="285.30" stroke="#333333" stroke-width="1.0"/>
<line x1="554.48" y1="0.66" x2="554.48" y2="3.66" stroke="#333333" stroke-width="1.0"/>
<line x1="566.59" y1="288.30" x2="566.59" y2="285.30" stroke="#333333" stroke-width="1.0"/>
<line x1="566.59" y1="0.66" x2="566.59" y2="3.66" stroke="#333333" stroke-width="1.0"/>
<line x1="578.70" y1="288.30" x2="578.70" y2="282.30" stroke="#333333" stroke-width="1.0"/>
<line x1="578.70" y1="0.66" x2="578.70" y2="6.66" stroke="#333333" stroke-width="1.0"/>
<line x1="336.50" y1="384.00" x2="336.50" y2="378.00" stroke="#333333" stroke-width="1.0"/>
<line x1="336.50" y1="288.30" x2="336.50" y2="294.30" stroke="#333333" stroke-width="1.0"/>
<line x1="348.61" y1="384.00" x2="348.61" y2="381.00" stroke="#333333" stroke-width="1.0"/>
<line x1="348.61" y1="288.30" x2="348.61" y2="291.30" stroke="#333333" stroke-width="1.0"/>
<line x1="360.72" y1="384.00" x2="360.72" y2="381.00" stroke="#333333" stroke-width="1.0"/>
<line x1="360.72" y1="288.30" x2="360.72" y2="291.30" stroke="#333333" stroke-width="1.0"/>
<line x1="372.83" y1="384.00" x2="372.83" y2="381.00" stroke="#333333" stroke-width="1.0"/>
<line x1="372.83" y1="288.30" x2="372.83" y2="291.30" stroke="#333333" stroke-width="1.0"/>
<line x1="384.94" y1="384.00" x2="384.94" y2="378.00" stroke="#333333" stroke-width="1.0"/>
<line x1="384.94" y1="288.30" x2="384.94" y2="294.30" stroke="#333333" stroke-width="1.0"/>
<line x1="397.05" y1="384.00" x2="397.05" y2="381.00" stroke="#333333" stroke-width="1.0"/>
<line x1="397.05" y1="288.30" x2="397.05" y2="291.30" stroke="#333333" stroke-width="1.0"/>
<line x1="409.16" y1="384.00" x2="409.16" y2="381.00" stroke="#333333" stroke-width="1.0"/>
<line x1="409.16" y1="288.30" x2="409.16" y2="291.30" stroke="#333333" stroke-width="1.0"/>
<line x1="421.27" y1="384.00" x2="421.27" y2="381.00" stroke="#333333" stroke-width="1.0"/>
<line x1="421.27" y1="288.30" x2="421.27" y2="291.30" stroke="#333333" stroke-width="1.0"/>
<line x1="433.38" y1="384.00" x2="433.38" y2="378.00" stroke="#333333" stroke-width="1.0"/>
<line x1="433.38" y1="288.30" x2="433.38" y2="294.30" stroke="#333333" stroke-width="1.0"/>
<line x1="445.49" y1="384.00" x2="445.49" y2="381.00" stroke="#333333" stroke-width="1.0"/>
<line x1="445.49" y1="288.30" x2="445.49" y2="291.30" stroke="#333333" stroke-width="1.0"/>
<line x1="457.60" y1="384.00" x2="457.60" y2="381.00" stroke="#333333" stroke-width="1.0"/>
<line x1="457.60" y1="288.30" x2="457.60" y2="291.30" stroke="#333333" stroke-width="1.0"/>
<line x1="469.71" y1="384.00" x2="469.71" y2="381.00" stroke="#333333" stroke-width="1.0"/>
<line x1="469.71" y1="288.30" x2="469.71" y2="291.30" stroke="#333333" stroke-width="1.0"/>
<line x1="481.82" y1="384.00" x2="481.82" y2="378.00" stroke="#333333" stroke-width="1.0"/>
<line x1="481.82" y1="288.30" x2="481.82" y2="294.30" stroke="#333333" stroke-width="1.0"/>
<line x1="493.93" y1="384.00" x2="493.93" y2="381.00" stroke="#333333" stroke-width="1.0"/>
<line x1="493.93" y1="288.30" x2="493.93" y2="291.30" stroke="#333333" stroke-width="1.0"/>
<line x1="506.04" y1="384.00" x2="506.04" y2="381.00" stroke="#333333" stroke-width="1.0"/>
<line x1="506.04" y1="288.30" x2="506.04" y2="291.30" stroke="#333333" stroke-width="1.0"/>
<line x1="518.15" y1="384.00" x2="518.15" y2="381.00" stroke="#333333" stroke-width="1.0"/>
<line x1="518.15" y1="288.30" x2="518.15" y2="291.30" stroke="#333333" stroke-width="1.0"/>
<line x1="530.26" y1="384.00" x2="530.26" y2="378.00" stroke="#333333" stroke-width="1.0"/>
<line x1="530.26" y1="288.30" x2="530.26" y2="294.30" stroke="#333333" stroke-width="1.0"/>
<line x1="542.37" y1="384.00" x2="542.37" y2="381.00" stroke="#333333" stroke-width="1.0"/>
<line x1="542.37" y1="288.30" x2="542.37" y2="291.30" stroke="#333333" stroke-width="1.0"/>
<line x1="554.48" y1="384.00" x2="554.48" y2="381.00" stroke="#333333" stroke-width="1.0"/>
<line x1="554.48" y1="288.30" x2="554.48" y2="291.30" stroke="#333333" stroke-width="1.0"/>
<line x1="566.59" y1="384.00" x2="566.59" y2="381.00" stroke="#333333" stroke-width="1.0"/>
<line x1="566.59" y1="288.30" x2="566.59" y2="291.30" stroke="#333333" stroke-width="1.0"/>
<line x1="578.70" y1="384.00" x2="578.70" y2="378.00" stroke="#333333" stroke-width="1.0"/>
<line x1="578.70" y1="288.30" x2="578.70" y2="294.30" stroke="#333333" stroke-width="1.0"/>
<line x1="580.84" y1="288.30" x2="580.84" y2="285.30" stroke="#333333" stroke-width="1.0"/>
<line x1="580.84" y1="0.66" x2="580.84" y2="3.66" stroke="#333333" stroke-width="1.0"/>
<line x1="585.79" y1="288.30" x2="585.79" y2="285.30" stroke="#333333" stroke-width="1.0"/>
<line x1="585.79" y1="0.66" x2="585.79" y2="3.66" stroke="#333333" stroke-width="1.0"/>
<line x1="590.75" y1="288.30" x2="590.75" y2="282.30" stroke="#333333" stroke-width="1.0"/>
<line x1="590.75" y1="0.66" x2="590.75" y2="6.66" stroke="#333333" stroke-width="1.0"/>
<line x1="595.71" y1="288.30" x2="595.71" y2="285.30" stroke="#333333" stroke-width="1.0"/>
<line x1="595.71" y1="0.66" x2="595.71" y2="3.66" stroke="#333333" stroke-width="1.0"/>
<line x1="600.66" y1="288.30" x2="600.66" y2="285.30" stroke="#333333" stroke-width="1.0"/>
<line x1="600.66" y1="0.66" x2="600.66" y2="3.66" stroke="#333333" stroke-width="1.0"/>
<line x1="605.62" y1="288.30" x2="605.62" y2="285.30" stroke="#333333" stroke-width="1.0"/>
<line x1="605.62" y1="0.66" x2="605.62" y2="3.66" stroke="#333333" stroke-width="1.0"/>
<line x1="610.58" y1="288.30" x2="610.58" y2="285.30" stroke="#333333" stroke-width="1.0"/>
<line x1="610.58" y1="0.66" x2="610.58" y2="3.66" stroke="#333333" stroke-width="1.0"/>
<line x1="615.54" y1="288.30" x2="615.54" y2="282.30" stroke="#333333" stroke-width="1.0"/>
<line x1="615.54" y1="0.66" x2="615.54" y2="6.66" stroke="#333333" stroke-width="1.0"/>
<line x1="620.50" y1="288.30" x2="620.50" y2="285.30" stroke="#333333" stroke-width="1.0"/>
<line x1="620.50" y1="0.66" x2="620.50" y2="3.66" stroke="#333333" stroke-width="1.0"/>
<line x1="625.45" y1="288.30" x2="625.45" y2="285.30" stroke="#333333" stroke-width="1.0"/>
<line x1="625.45" y1="0.66" x2="625.45" y2="3.66" stroke="#333333" stroke-width="1.0"/>
<line x1="630.41" y1="288.30" x2="630.41" y2="285.30" stroke="#333333" stroke-width="1.0"/>
<line x1="630.41" y1="0.66" x2="630.41" y2="3.66" stroke="#333333" stroke-width="1.0"/>
<line x1="635.37" y1="288.30" x2="635.37" y2="285.30" stroke="#333333" stroke-width="1.0"/>
<line x1="635.37" y1="0.66" x2="635.37" y2="3.66" stroke="#333333" stroke-width="1.0"/>
<line x1="640.33" y1="288.30" x2="640.33" y2="282.30" stroke="#333333" stroke-width="1.0"/>
<line x1="640.33" y1="0.66" x2="640.33" y2="6.66" stroke="#333333" stroke-width="1.0"/>
<line x1="645.28" y1="288.30" x2="645.28" y2="285.30" stroke="#333333" stroke-width="1.0"/>
<line x1="645.28" y1="0.66" x2="645.28" y2="3.66" stroke="#333333" stroke-width="1.0"/>
<line x1="650.24" y1="288.30" x2="650.24" y2="285.30" stroke="#333333" stroke-width="1.0"/>
<line x1="650.24" y1="0.66" x2="650.24" y2="3.66" stroke="#333333" stroke-width="1.0"/>
<line x1="655.20" y1="288.30" x2="655.20" y2="285.30" stroke="#333333" stroke-width="1.0"/>
<line x1="655.20" y1="0.66" x2="655.20" y2="3.66" stroke="#333333" stroke-width="1.0"/>
<line x1="660.15" y1="288.30" x2="660.15" y2="285.30" stroke="#333333" stroke-width="1.0"/>
<line x1="660.15" y1="0.66" x2="660.15" y2="3.66" stroke="#333333" stroke-width="1.0"/>
<line x1="665.11" y1="288.30" x2="665.11" y2="282.30" stroke="#333333" stroke-width="1.0"/>
<line x1="665.11" y1="0.66" x2="665.11" y2="6.66" stroke="#333333" stroke-width="1.0"/>
<line x1="670.07" y1="288.30" x2="670.07" y2="285.30" stroke="#333333" stroke-width="1.0"/>
<line x1="670.07" y1="0.66" x2="670.07" y2="3.66" stroke="#333333" stroke-width="1.0"/>
<line x1="675.03" y1="288.30" x2="675.03" y2="285.30" stroke="#333333" stroke-width="1.0"/>
<line x1="675.03" y1="0.66" x2="675.03" y2="3.66" stroke="#333333" stroke-width="1.0"/>
<line x1="679.99" y1="288.30" x2="679.99" y2="285.30" stroke="#333333" stroke-width="1.0"/>
<line x1="679.99" y1="0.66" x2="679.99" y2="3.66" stroke="#333333" stroke-width="1.0"/>
<line x1="684.94" y1="288.30" x2="684.94" y2="285.30" stroke="#333333" stroke-width="1.0"/>
<line x1="684.94" y1="0.66" x2="684.94" y2="3.66" stroke="#333333" stroke-width="1.0"/>
<line x1="689.90" y1="288.30" x2="689.90" y2="282.30" stroke="#333333" stroke-width="1.0"/>
<line x1="689.90" y1="0.66" x2="689.90" y2="6.66" stroke="#333333" stroke-width="1.0"/>
<line x1="694.86" y1="288.30" x2="694.86" y2="285.30" stroke="#333333" stroke-width="1.0"/>
<line x1="694.86" y1="0.66" x2="694.86" y2="3.66" stroke="#333333" stroke-width="1.0"/>
<text x="40.80" y="10.70" font-size="12" text-anchor="end" fill="#000" stroke="#000" stroke-width="0.25" >180</text>
<text x="332.00" y="10.70" font-size="12" text-anchor="end" fill="#000" stroke="#000" stroke-width="0.25" >180</text>
<text x="40.80" y="39.60" font-size="12" text-anchor="end" fill="#000" stroke="#000" stroke-width="0.25" >160</text>
<text x="332.00" y="39.60" font-size="12" text-anchor="end" fill="#000" stroke="#000" stroke-width="0.25" >160</text>
<text x="40.80" y="71.20" font-size="12" text-anchor="end" fill="#000" stroke="#000" stroke-width="0.25" >140</text>
<text x="332.00" y="71.20" font-size="12" text-anchor="end" fill="#000" stroke="#000" stroke-width="0.25" >140</text>
<text x="40.80" y="102.90" font-size="12" text-anchor="end" fill="#000" stroke="#000" stroke-width="0.25" >120</text>
<text x="332.00" y="102.90" font-size="12" text-anchor="end" fill="#000" stroke="#000" stroke-width="0.25" >120</text>
<text x="40.80" y="134.60" font-size="12" text-anchor="end" fill="#000" stroke="#000" stroke-width="0.25" >100</text>
<text x="332.00" y="134.60" font-size="12" text-anchor="end" fill="#000" stroke="#000" stroke-width="0.25" >100</text>
<text x="40.80" y="167.00" font-size="12" text-anchor="end" fill="#000" stroke="#000" stroke-width="0.25" >80</text>
<text x="332.00" y="167.00" font-size="12" text-anchor="end" fill="#000" stroke="#000" stroke-width="0.25" >80</text>
<text x="40.80" y="198.80" font-size="12" text-anchor="end" fill="#000" stroke="#000" stroke-width="0.25" >60</text>
<text x="332.00" y="198.80" font-size="12" text-anchor="end" fill="#000" stroke="#000" stroke-width="0.25" >60</text>
<text x="40.80" y="230.90" font-size="12" text-anchor="end" fill="#000" stroke="#000" stroke-width="0.25" >40</text>
<text x="332.00" y="230.90" font-size="12" text-anchor="end" fill="#000" stroke="#000" stroke-width="0.25" >40</text>
<text x="40.80" y="262.80" font-size="12" text-anchor="end" fill="#000" stroke="#000" stroke-width="0.25" >20</text>
<text x="332.00" y="262.80" font-size="12" text-anchor="end" fill="#000" stroke="#000" stroke-width="0.25" >20</text>
<text x="40.80" y="288.80" font-size="12" text-anchor="end" fill="#000" stroke="#000" stroke-width="0.25" >0</text>
<text x="332.00" y="288.80" font-size="12" text-anchor="end" fill="#000" stroke="#000" stroke-width="0.25" >0</text>
<text x="40.80" y="302.90" font-size="12" text-anchor="end" fill="#000" stroke="#000" stroke-width="0.25" >100</text>
<text x="332.00" y="302.90" font-size="12" text-anchor="end" fill="#000" stroke="#000" stroke-width="0.25" >100</text>
<text x="40.80" y="323.80" font-size="12" text-anchor="end" fill="#000" stroke="#000" stroke-width="0.25" >75</text>
<text x="332.00" y="323.80" font-size="12" text-anchor="end" fill="#000" stroke="#000" stroke-width="0.25" >75</text>
<text x="40.80" y="344.70" font-size="12" text-anchor="end" fill="#000" stroke="#000" stroke-width="0.25" >50</text>
<text x="332.00" y="344.70" font-size="12" text-anchor="end" fill="#000" stroke="#000" stroke-width="0.25" >50</text>
<text x="40.80" y="365.30" font-size="12" text-anchor="end" fill="#000" stroke="#000" stroke-width="0.25" >25</text>
<text x="332.00" y="365.30" font-size="12" text-anchor="end" fill="#000" stroke="#000" stroke-width="0.25" >25</text>
<text x="40.80" y="384.90" font-size="12" text-anchor="end" fill="#000" stroke="#000" stroke-width="0.25" >0</text>
<text x="332.00" y="384.90" font-size="12" text-anchor="end" fill="#000" stroke="#000" stroke-width="0.25" >0</text>
<text x="85.24" y="406.00" font-size="12" text-anchor="middle" fill="#000" stroke="#000" stroke-width="0.25" >8</text>
<text x="137.95" y="406.00" font-size="12" text-anchor="middle" fill="#000" stroke="#000" stroke-width="0.25" >10</text>
<text x="190.67" y="406.00" font-size="12" text-anchor="middle" fill="#000" stroke="#000" stroke-width="0.25" >12</text>
<text x="243.38" y="406.00" font-size="12" text-anchor="middle" fill="#000" stroke="#000" stroke-width="0.25" >14</text>
<text x="296.10" y="406.00" font-size="12" text-anchor="middle" fill="#000" stroke="#000" stroke-width="0.25" >16</text>
<text x="336.50" y="406.00" font-size="12" text-anchor="middle" fill="#000" stroke="#000" stroke-width="0.25" >0</text>
<text x="384.94" y="406.00" font-size="12" text-anchor="middle" fill="#000" stroke="#000" stroke-width="0.25" >2</text>
<text x="433.38" y="406.00" font-size="12" text-anchor="middle" fill="#000" stroke="#000" stroke-width="0.25" >4</text>
<text x="481.82" y="406.00" font-size="12" text-anchor="middle" fill="#000" stroke="#000" stroke-width="0.25" >6</text>
<text x="530.26" y="406.00" font-size="12" text-anchor="middle" fill="#000" stroke="#000" stroke-width="0.25" >8</text>
<text x="578.70" y="406.00" font-size="12" text-anchor="middle" fill="#000" stroke="#000" stroke-width="0.25" >10</text>
<text x="590.70" y="309.70" font-size="12" text-anchor="middle" fill="#000" stroke="#000" stroke-width="0.25" >0</text>
<text x="615.30" y="309.70" font-size="12" text-anchor="middle" fill="#000" stroke="#000" stroke-width="0.25" >25</text>
<text x="640.20" y="309.70" font-size="12" text-anchor="middle" fill="#000" stroke="#000" stroke-width="0.25" >50</text>
<text x="665.00" y="309.70" font-size="12" text-anchor="middle" fill="#000" stroke="#000" stroke-width="0.25" >75</text>
<text x="692.00" y="309.70" font-size="12" text-anchor="middle" fill="#000" stroke="#000" stroke-width="0.25" >100</text>
<text x="170.30" y="424.30" font-size="12" text-anchor="middle" fill="#000" stroke="#000" stroke-width="0.25" >H-band magnitude [mag]</text>
<text x="456.00" y="424.30" font-size="12" text-anchor="middle" fill="#000" stroke="#000" stroke-width="0.25" >Debiased Polarization Percentage (P<tspan font-size="9" dy="-3">′</tspan><tspan dy="3">) [%]</tspan></text>
<text x="638.50" y="328.10" font-size="12" text-anchor="middle" fill="#000" stroke="#000" stroke-width="0.25" >CL [%]</text>
<text transform="translate(9.9,144.6) rotate(-90)" font-size="12" text-anchor="middle" fill="#000" stroke="#000" stroke-width="0.25">Galactic Position Angle (GPA) [deg]</text>
<text transform="translate(9.9,336.0) rotate(-90)" font-size="12" text-anchor="middle" fill="#000" stroke="#000" stroke-width="0.25">CL [%]</text>
<text x="64.60" y="24.70" font-size="14.6" text-anchor="start" fill="#000" stroke="#000" stroke-width="0.25" >A.</text>
<text x="59.80" y="309.20" font-size="14.6" text-anchor="start" fill="#000" stroke="#000" stroke-width="0.25" >B.</text>
<text x="353.40" y="25.00" font-size="14.6" text-anchor="start" fill="#000" stroke="#000" stroke-width="0.25" >C.</text>
<text x="352.80" y="309.40" font-size="14.6" text-anchor="start" fill="#000" stroke="#000" stroke-width="0.25" >D.</text>
<text x="598.60" y="24.60" font-size="14.6" text-anchor="start" fill="#000" stroke="#000" stroke-width="0.25" >E.</text>
</svg>
</body></html>
